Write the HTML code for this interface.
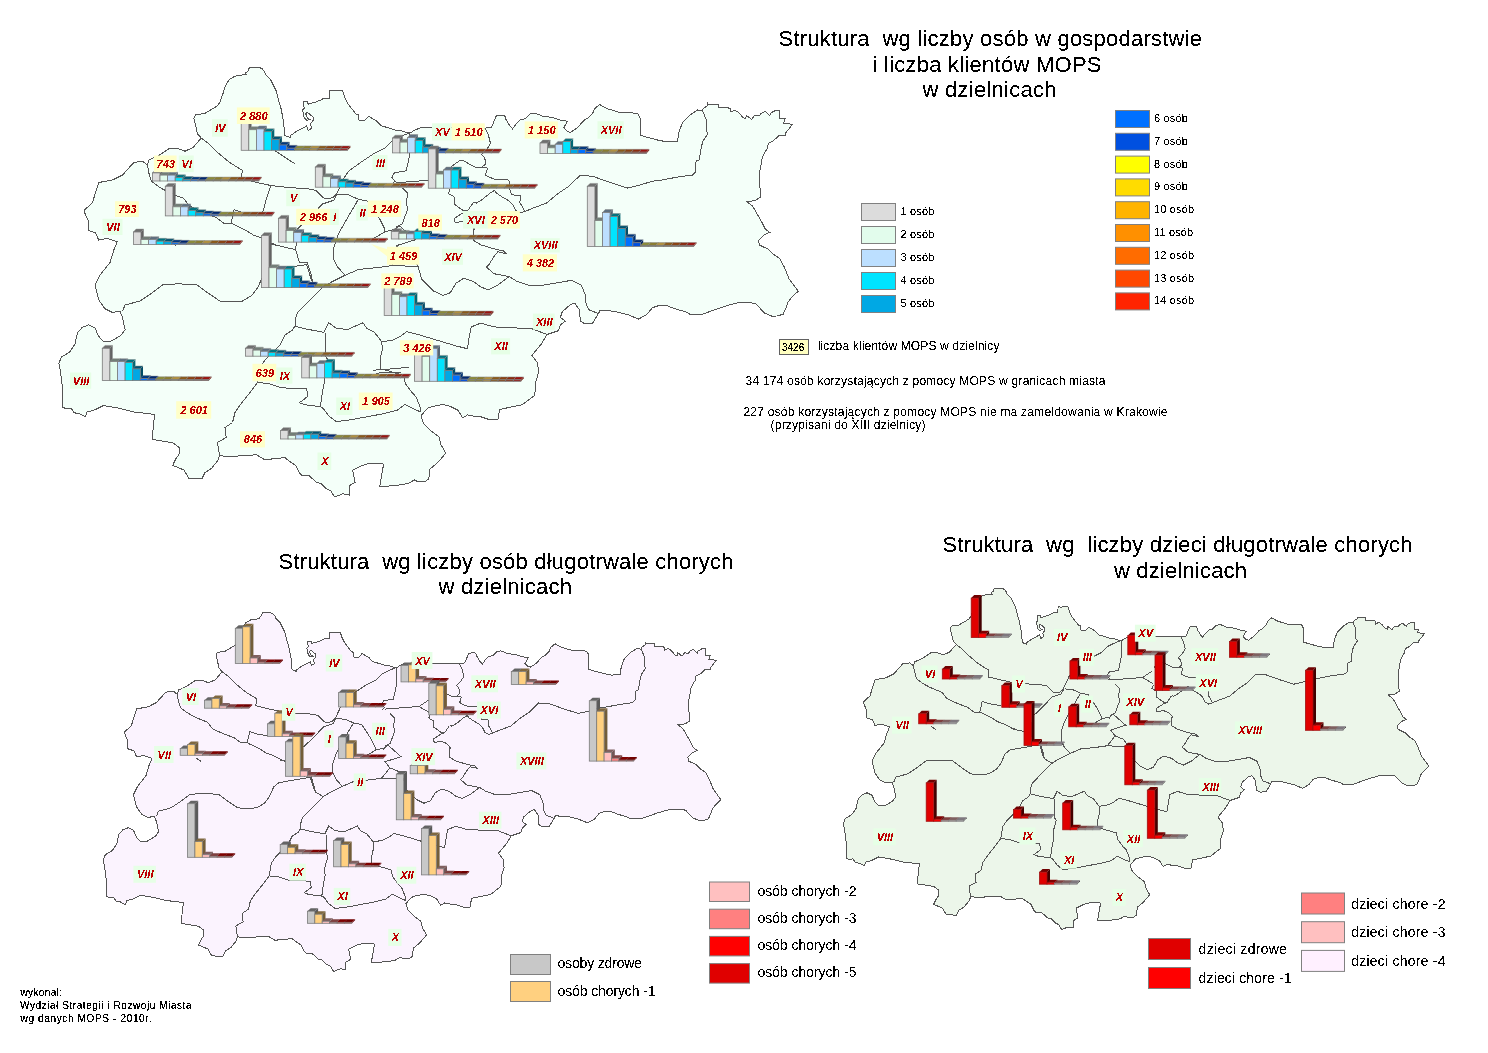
<!DOCTYPE html>
<html><head><meta charset="utf-8"><style>
html,body{margin:0;padding:0;background:#fff;width:1488px;height:1053px;overflow:hidden}
svg{display:block}
text{font-family:"Liberation Sans",sans-serif;fill:#000;white-space:pre;filter:url(#al)}
.sm{filter:url(#al2)}
.lb{font-size:11px;font-weight:bold;font-style:italic;fill:#BE0000;text-anchor:middle}
polygon.m,path.m{shape-rendering:crispEdges}
</style></head><body>
<svg width="1488" height="1053" viewBox="0 0 1488 1053">
<defs><filter id="al" x="-0.1" y="-0.3" width="1.2" height="1.6" color-interpolation-filters="sRGB"><feComponentTransfer><feFuncA type="discrete" tableValues="0 0 0 0 0 0 0 0 0 1 1 1 1 1 1 1 1 1 1 1"/></feComponentTransfer></filter><filter id="al2" x="-0.1" y="-0.3" width="1.2" height="1.6" color-interpolation-filters="sRGB"><feComponentTransfer><feFuncA type="discrete" tableValues="0 0 0 0 0 0 0 1 1 1 1 1 1 1 1 1 1 1 1 1"/></feComponentTransfer></filter></defs>
<polygon class="m" points="84.2,210.2 92.3,202.9 93.1,200.5 96.3,190.0 98.8,182.5 112.5,180.0 122.5,175.0 133.8,162.5 142.5,161.2 147.5,165.0 148.8,160.0 158.8,155.5 168.8,148.8 176.2,148.0 185.0,151.2 193.0,147.5 201.2,138.0 197.5,133.8 193.9,118.1 195.5,114.8 204.4,113.6 209.2,110.8 217.3,106.0 219.7,102.7 222.9,93.9 225.3,85.8 229.4,79.4 235.0,76.1 243.1,74.9 246.3,74.5 245.5,72.9 247.9,71.3 249.5,67.3 259.2,67.3 262.4,68.9 264.8,72.1 265.6,74.5 270.5,79.4 276.1,90.6 278.5,100.3 281.0,108.4 283.4,120.5 284.8,135.6 290.5,137.7 290.5,135.6 296.1,131.6 306.6,126.0 308.2,130.4 311.5,128.4 310.6,123.5 313.1,120.3 313.1,117.1 307.4,112.3 305.8,113.9 307.4,117.9 309.8,119.5 306.6,120.3 304.2,117.9 302.6,109.8 304.2,108.2 303.4,101.8 307.4,101.4 308.2,104.2 316.3,101.8 320.3,100.2 324.4,98.1 329.6,98.1 330.0,90.5 333.2,90.9 338.1,90.5 342.5,90.5 344.5,96.9 347.7,103.4 355.8,113.9 358.2,114.7 359.0,120.3 364.7,120.3 368.7,116.3 376.8,121.1 381.6,126.0 384.8,126.8 396.9,130.6 399.4,130.2 406.6,132.7 410.6,132.7 413.9,130.6 420.3,127.8 431.6,127.4 450.0,127.5 470.0,128.0 484.8,128.2 491.3,127.4 492.9,124.2 494.5,120.2 496.1,116.1 500.0,115.3 504.7,115.7 506.2,120.0 510.0,126.2 512.5,128.8 516.2,123.8 520.0,120.0 525.0,118.8 530.0,113.8 535.0,113.0 542.5,116.2 552.5,117.5 560.0,120.0 567.5,121.2 565.0,125.5 563.8,128.0 567.0,131.2 570.5,132.5 577.5,127.5 583.8,120.5 588.0,118.0 592.5,113.8 594.5,108.8 599.5,104.5 607.5,108.8 620.0,112.5 637.5,113.2 640.0,118.0 640.0,135.0 646.2,137.0 657.5,140.0 667.5,142.0 677.5,141.2 678.8,132.5 682.5,122.5 690.0,115.0 697.5,110.0 702.2,111.0 703.3,108.7 707.5,105.6 707.5,103.4 708.2,104.5 718.5,104.5 718.5,107.2 726.5,107.2 730.3,108.7 731.0,112.1 734.8,110.2 738.6,112.5 743.2,117.8 745.5,118.6 746.6,115.5 751.6,119.3 754.6,115.5 759.1,115.9 761.4,113.2 765.2,111.3 769.8,115.5 770.5,113.2 775.1,110.6 779.7,110.6 779.7,118.6 785.0,118.6 783.8,123.1 792.6,124.3 785.7,133.0 785.4,135.3 778.9,135.7 773.6,140.6 768.3,143.3 767.5,148.2 763.7,154.3 762.2,158.1 761.4,163.4 759.9,171.0 759.5,181.2 760.7,197.1 755.0,200.5 747.0,201.7 752.7,206.2 757.3,214.2 761.8,222.2 765.2,229.0 769.8,232.4 764.1,234.7 758.4,240.4 759.5,245.0 768.7,249.5 773.2,254.1 780.0,258.7 784.6,267.8 789.2,279.2 798.2,291.2 792.0,297.0 788.0,302.0 786.5,307.0 783.1,314.3 777.0,316.0 771.8,316.1 764.3,312.9 755.9,303.9 750.2,302.5 738.9,302.5 731.4,304.4 722.0,307.2 708.8,311.9 702.2,314.3 690.0,314.3 686.6,312.2 675.2,308.8 666.1,305.4 659.3,305.4 652.4,307.7 646.7,314.5 638.7,319.1 627.4,314.5 613.7,311.1 600.0,310.6 598.4,313.6 592.7,323.1 585.1,324.0 580.4,321.2 579.4,309.8 574.7,303.1 569.9,305.0 562.3,311.7 560.4,317.4 565.2,321.2 560.4,325.0 558.5,330.7 547.1,334.5 541.4,344.0 531.9,355.4 537.6,363.0 538.6,372.5 535.7,381.9 534.8,395.2 522.4,404.7 513.0,406.6 499.7,409.5 497.8,419.9 490.2,419.9 478.8,416.1 476.9,416.8 467.5,414.9 462.7,417.8 457.9,410.2 450.3,406.4 442.7,404.5 433.2,406.4 427.5,408.3 420.9,415.9 423.7,423.5 431.3,431.1 438.9,436.8 440.8,444.3 445.7,453.3 437.3,463.0 430.0,469.0 428.8,478.7 425.2,481.7 417.9,481.7 414.3,479.9 408.2,483.5 401.0,484.8 388.9,486.0 379.8,486.0 381.6,475.1 383.4,465.4 382.8,463.6 370.7,463.0 362.3,465.4 352.6,470.2 355.0,482.3 349.0,486.0 349.0,495.0 342.9,493.8 338.1,495.6 334.4,496.9 330.8,490.8 326.0,488.4 321.1,483.5 316.3,482.3 313.9,479.9 309.0,475.7 301.8,475.1 299.4,472.7 298.1,470.2 295.7,465.4 288.5,460.6 284.8,457.5 280.0,458.1 277.5,458.6 264.2,459.5 256.6,454.8 241.4,455.7 230.0,456.7 219.5,455.6 217.9,460.5 211.4,468.5 205.0,472.6 201.8,479.0 188.8,478.2 184.0,470.1 172.7,465.3 175.9,458.8 179.2,454.0 179.2,447.5 172.7,442.7 152.5,439.5 153.3,424.9 154.9,414.4 134.0,412.0 117.8,408.0 103.3,405.6 93.6,410.4 87.1,412.0 85.5,416.9 79.1,413.6 74.2,412.8 71.0,408.0 66.1,408.8 62.9,407.2 62.9,391.0 60.5,371.7 58.9,363.6 61.3,357.1 69.4,352.3 75.0,344.2 77.4,332.9 82.3,327.3 88.7,324.8 95.2,328.1 98.4,336.1 103.3,341.0 111.3,341.0 121.0,335.3 125.1,329.7 122.5,317.5 120.0,311.2 112.5,312.5 105.0,308.8 98.8,300.0 95.0,285.0 100.0,275.0 110.0,262.5 113.8,250.0 117.3,241.6 106.8,238.4 98.7,240.0 95.5,232.7 88.2,230.3 88.2,220.6 85.0,213.4" fill="#F4FFF9" stroke="#555"/>
<path class="m" d="M201.2,138.0 L208.4,143.3 L217.9,152.8 L229.3,162.3 L242.3,170.3 L241.4,178.8 M241.4,178.8 L257.5,182.6 L270.8,185.5 L287.0,187.4 L307.9,188.8 L315.5,190.2 L321.2,195.9 L325.0,198.8 L332.6,197.8 L336.4,194.0 L339.2,188.3 M339.2,188.3 L344.0,177.9 L349.0,170.8 L362.3,161.3 L373.7,153.7 L385.1,148.0 L392.7,140.4 L400.3,136.6 L409.8,132.8 M270.8,185.5 L266.1,200.0 L263.5,209.8 L261.6,213.6 M147.5,165.0 L148.5,171.8 L151.4,181.3 L159.0,187.0 L168.0,192.0 L176.1,195.5 L183.7,198.4 L189.4,206.0 L197.0,209.8 L206.5,213.6 L216.0,217.4 L223.6,223.1 L231.2,223.1 L235.0,225.0 L246.4,230.7 L254.0,235.4 L261.7,238.0 L270.0,242.5 L277.4,245.4 M231.2,223.1 L234.0,209.8 L238.0,211.0 L242.6,212.6 L257.5,214.8 M338.3,194.0 L348.7,195.0 L358.4,199.3 L368.0,201.2 M337.6,193.6 L333.7,200.3 L322.3,204.1 L315.0,212.0 L305.0,222.0 L297.6,228.8 M358.4,199.3 L348.9,215.5 L341.3,228.8 L337.5,236.4 L333.7,247.8 L333.7,259.2 L337.5,266.8 L345.1,275.3 M368.0,201.2 L379.4,218.3 L384.1,227.8 L385.1,231.6 L378.0,236.0 L371.8,239.2 M271.0,244.0 L295.7,249.7 L299.5,263.0 L307.1,262.0 L311.0,274.3 L312.8,282.0 M295.7,249.7 L297.6,228.8 M122.5,311.2 L125.0,305.0 L140.0,301.0 L151.4,293.3 L162.8,284.8 L178.0,283.8 L197.0,284.8 L208.4,293.3 L219.8,301.0 L231.2,301.9 L242.6,301.0 L252.1,295.2 L257.8,287.6 L262.7,276.2 L269.0,270.9 L298.3,265.7 L306.7,264.7 L310.9,278.4 L312.8,282.0 M169.5,241.2 L175.8,245.4 M312.8,282.0 L322.3,287.6 L330.0,282.8 L345.2,275.2 L358.5,269.5 L377.5,267.6 L390.8,265.7 L405.0,266.0 M322.3,287.6 L314.7,295.2 L305.2,304.7 L297.6,312.3 L295.0,320.0 L295.0,326.0 L292.5,330.0 L285.0,335.0 L280.0,345.0 L270.0,355.0 L265.0,360.0 L260.0,367.5 L257.5,382.5 L250.0,392.5 L240.0,405.0 L235.0,412.5 L232.5,422.5 L225.0,427.5 L226.2,437.5 L217.5,442.5 L219.5,455.6 M257.5,382.5 L269.0,383.6 L281.4,387.8 L306.7,388.9 L307.8,396.3 L302.5,400.5 L299.3,402.7 L304.6,404.7 L320.4,406.7 M405.0,266.0 L418.0,266.1 L421.8,279.4 L433.2,290.8 L442.7,295.5 L450.3,292.7 L456.0,283.2 L463.6,278.4 L473.1,281.3 L480.7,287.0 L488.3,289.8 L497.8,285.1 L509.2,276.5 M450.3,188.6 L448.5,193.5 L454.5,197.1 L454.5,204.4 L463.0,210.4 L466.6,210.4 L467.5,211.0 L463.0,212.8 L454.5,218.3 L454.5,221.9 L456.3,222.5 L463.0,221.3 L470.0,224.0 L474.5,229.2 L473.3,230.4 L473.3,239.4 L473.9,240.7 L481.1,244.9 L493.3,248.7 L503.5,250.9 L506.3,253.7 L497.8,251.8 L494.0,256.6 L489.2,264.2 L486.4,267.0 L494.0,273.7 L503.5,275.6 L509.2,276.5 M473.3,202.5 L467.5,211.0 M509.2,276.5 L516.8,281.3 L528.1,285.1 L543.3,285.1 L560.4,282.2 L571.8,280.3 L581.3,285.1 L585.1,294.6 L586.1,304.1 L588.9,309.8 L598.4,313.6 M473.3,202.5 L476.3,203.1 L479.3,201.3 L482.3,199.5 L489.6,193.5 L494.4,190.4 L496.9,193.5 L500.5,195.9 L509.6,201.3 L512.6,204.4 L515.6,210.4 L520.0,213.0 L524.7,211.6 L531.3,208.8 L546.5,203.1 L557.9,193.6 L569.3,186.0 L576.9,178.4 L580.0,175.5 L592.5,176.2 L610.0,182.5 L627.5,188.0 L640.0,185.0 L652.5,181.2 L662.5,180.0 L675.0,177.5 L692.5,175.0 L695.3,172.0 L696.1,161.1 L699.9,159.6 L699.9,155.8 L701.4,146.7 L702.9,141.4 L708.2,133.0 L706.0,130.7 L706.0,119.3 L703.7,113.2 L702.2,111.0 M436.7,179.6 L449.3,171.2 M436.7,179.6 L449.3,187.0 M395.8,182.8 L436.7,179.6 M484.8,128.2 L488.1,133.9 L490.5,143.5 L489.1,145.9 L486.5,149.7 L481.6,154.5 L483.8,156.7 L485.4,160.4 L485.4,164.2 L482.2,166.9 L481.1,167.4 M451.0,166.9 L455.3,163.7 L460.1,160.4 L462.8,160.4 L467.6,163.1 L475.7,167.4 L481.1,167.4 L486.5,167.4 L487.5,168.5 L486.5,171.2 L485.4,174.9 L489.1,177.1 L494.5,179.2 L506.9,179.2 L510.0,181.9 L509.6,188.6 L511.4,194.7 L520.5,195.9 L519.9,202.5 L524.7,211.0 L524.7,211.6 M409.8,132.8 L409.8,153.7 L407.9,163.2 L406.0,170.8 L394.6,172.7 L391.7,177.4 L395.5,181.2 L392.7,183.1 M402.2,187.9 L407.9,193.6 L406.0,203.1 L407.9,208.8 L405.0,216.4 L402.2,224.0 L396.5,226.8 L394.6,231.6 M295.0,326.2 L305.0,328.8 L324.0,332.3 L328.8,322.8 L336.4,328.5 L347.8,329.4 L363.0,322.8 L366.8,328.5 L374.4,332.3 L381.9,341.8 L393.3,339.9 L400.9,336.1 L406.6,331.6 L418.0,334.5 L437.0,340.2 L456.0,345.9 L467.4,348.7 L469.3,336.4 L471.2,326.9 L480.7,323.1 L494.0,326.9 L513.0,327.8 L532.0,328.8 L547.1,334.5 M325.5,333.0 L325.5,356.3 L327.7,359.4 L325.5,366.8 L323.5,375.2 L324.5,381.6 L322.4,392.1 L320.4,406.7 M320.4,406.7 L323.1,408.3 L328.8,415.9 L336.4,421.6 L351.6,419.7 L366.8,416.8 L381.9,414.0 L397.1,410.2 L404.7,404.5 L412.3,408.3 L420.9,412.1 M381.9,341.8 L382.2,350.0 L380.2,358.4 L380.2,368.9 L388.6,371.0 L403.2,375.2 L405.3,383.6 L411.6,392.1 L416.1,396.9 L419.9,406.4 L420.9,412.1 M385.1,231.6 L391.7,230.1 L396.3,229.2 L399.0,225.5 M399.0,225.5 L405.4,231.0 L415.3,239.8 L396.3,245.7 L401.8,253.0 L396.3,260.4 L391.7,265.8 L390.8,265.7 M401.8,253.0 L412.8,257.6 L418.0,266.1 M275.1,150.8 L294.6,163.6 M372.5,370.3 L390.0,369.0 L408.5,367.4 M376.2,373.1 L400.9,372.2" fill="none" stroke="#555"/>
<polygon class="m" points="124.4,732.0 131.2,725.9 131.9,723.9 134.6,715.1 136.6,708.9 148.1,706.8 156.4,702.6 165.8,692.2 173.2,691.1 177.3,694.3 178.4,690.1 186.7,686.3 195.1,680.7 201.4,680.1 208.7,682.8 215.4,679.7 222.2,671.7 219.1,668.2 216.1,655.1 217.4,652.4 224.9,651.4 228.9,649.0 235.7,645.0 237.7,642.3 240.3,634.9 242.3,628.1 245.8,622.8 250.4,620.0 257.2,619.0 259.9,618.7 259.2,617.4 261.2,616.0 262.6,612.7 270.7,612.7 273.3,614.0 275.3,616.7 276.0,618.7 280.1,622.8 284.8,632.2 286.8,640.3 288.9,647.0 290.9,657.1 292.1,669.7 296.8,671.5 296.8,669.7 301.5,666.4 310.3,661.7 311.6,665.4 314.4,663.7 313.6,659.6 315.7,657.0 315.7,654.3 310.9,650.3 309.6,651.6 310.9,654.9 312.9,656.3 310.3,657.0 308.3,654.9 306.9,648.2 308.3,646.8 307.6,641.5 310.9,641.2 311.6,643.5 318.4,641.5 321.7,640.2 325.1,638.4 329.5,638.4 329.8,632.1 332.5,632.4 336.6,632.1 340.3,632.1 341.9,637.4 344.6,642.8 351.4,651.6 353.4,652.3 354.0,657.0 358.8,657.0 362.1,653.6 368.9,657.6 372.9,661.7 375.6,662.4 385.7,665.6 387.8,665.2 393.8,667.3 397.2,667.3 399.9,665.6 405.3,663.2 414.7,662.9 430.1,663.0 446.8,663.4 459.2,663.5 464.6,662.9 465.9,660.2 467.3,656.9 468.6,653.4 471.9,652.8 475.8,653.1 477.1,656.7 480.2,661.9 482.3,664.0 485.4,659.8 488.6,656.7 492.7,655.7 496.9,651.5 501.1,650.9 507.4,653.6 515.7,654.6 522.0,656.7 528.2,657.7 526.2,661.3 525.1,663.4 527.8,666.1 530.8,667.1 536.6,663.0 541.8,657.1 545.4,655.0 549.1,651.5 550.8,647.3 555.0,643.8 561.7,647.3 572.1,650.4 586.7,651.1 588.8,655.0 588.8,669.2 594.0,670.9 603.4,673.4 611.8,675.1 620.2,674.4 621.2,667.1 624.3,658.8 630.6,652.5 636.9,648.4 640.8,649.2 641.7,647.3 645.2,644.7 645.2,642.8 645.8,643.8 654.4,643.8 654.4,646.0 661.1,646.0 664.3,647.3 664.9,650.1 668.0,648.5 671.2,650.4 675.0,654.9 677.0,655.5 677.9,652.9 682.1,656.1 684.6,652.9 688.3,653.3 690.2,651.0 693.4,649.4 697.3,652.9 697.9,651.0 701.7,648.9 705.5,648.9 705.5,655.5 710.0,655.5 709.0,659.3 716.3,660.3 710.6,667.6 710.3,669.5 704.9,669.8 700.4,673.9 696.0,676.2 695.3,680.2 692.2,685.3 690.9,688.5 690.2,692.9 689.0,699.3 688.7,707.8 689.7,721.1 684.9,723.9 678.2,724.9 683.0,728.7 686.8,735.4 690.6,742.0 693.4,747.7 697.3,750.6 692.5,752.5 687.7,757.2 688.7,761.1 696.3,764.8 700.1,768.7 705.8,772.5 709.6,780.1 713.5,789.6 721.0,799.7 715.8,804.5 712.5,808.7 711.2,812.8 708.4,818.9 703.3,820.4 698.9,820.4 692.7,817.8 685.7,810.3 680.9,809.1 671.5,809.1 665.2,810.7 657.3,813.0 646.3,816.9 640.8,818.9 630.6,818.9 627.8,817.2 618.2,814.3 610.6,811.5 604.9,811.5 599.2,813.4 594.4,819.1 587.7,822.9 578.3,819.1 566.8,816.3 555.4,815.9 554.1,818.4 549.3,826.3 543.0,827.0 539.0,824.7 538.2,815.2 534.3,809.6 530.3,811.2 523.9,816.8 522.3,821.5 526.3,824.7 522.3,827.9 520.7,832.6 511.2,835.8 506.4,843.7 498.5,853.3 503.3,859.6 504.1,867.5 501.7,875.4 500.9,886.5 490.6,894.4 482.7,896.0 471.6,898.4 470.0,907.1 463.7,907.1 454.1,903.9 452.5,904.5 444.7,902.9 440.7,905.4 436.7,899.0 430.3,895.8 424.0,894.3 416.0,895.8 411.3,897.4 405.8,903.8 408.1,910.1 414.5,916.5 420.8,921.2 422.4,927.5 426.5,935.0 419.5,943.1 413.4,948.1 412.4,956.2 409.4,958.7 403.3,958.7 400.2,957.2 395.2,960.2 389.1,961.3 379.0,962.3 371.4,962.3 372.9,953.2 374.4,945.1 373.9,943.6 363.8,943.1 356.8,945.1 348.7,949.1 350.7,959.2 345.7,962.3 345.7,969.8 340.6,968.8 336.6,970.3 333.5,971.4 330.5,966.3 326.5,964.3 322.4,960.2 318.4,959.2 316.4,957.2 312.3,953.7 306.3,953.2 304.2,951.2 303.2,949.1 301.2,945.1 295.1,941.1 292.1,938.5 288.0,939.0 286.0,939.4 274.8,940.2 268.5,936.3 255.8,937.0 246.3,937.8 237.5,936.9 236.2,941.0 230.7,947.7 225.4,951.1 222.7,956.5 211.8,955.8 207.8,949.0 198.4,945.0 201.1,939.6 203.8,935.6 203.8,930.2 198.4,926.2 181.5,923.5 182.2,911.3 183.5,902.5 166.1,900.5 152.5,897.2 140.4,895.2 132.3,899.2 126.9,900.5 125.5,904.6 120.2,901.9 116.1,901.2 113.4,897.2 109.3,897.8 106.7,896.5 106.7,883.0 104.6,866.9 103.3,860.1 105.3,854.7 112.1,850.7 116.8,843.9 118.8,834.5 122.9,829.8 128.2,827.7 133.6,830.5 136.3,837.1 140.4,841.2 147.1,841.2 155.2,836.5 158.6,831.8 156.4,821.6 154.4,816.4 148.1,817.4 141.8,814.3 136.6,807.0 133.5,794.5 137.7,786.1 146.0,775.7 149.1,765.2 152.1,758.2 143.3,755.6 136.6,756.9 133.9,750.8 127.8,748.8 127.8,740.7 125.1,734.7" fill="#FBF3FE" stroke="#555"/>
<path class="m" d="M222.2,671.7 L228.2,676.2 L236.2,684.1 L245.7,692.0 L256.5,698.7 L255.8,705.8 M255.8,705.8 L269.2,709.0 L280.4,711.4 L293.9,713.0 L311.4,714.1 L317.7,715.3 L322.5,720.1 L325.6,722.5 L332.0,721.7 L335.2,718.5 L337.5,713.7 M337.5,713.7 L341.5,705.0 L345.7,699.1 L356.8,691.2 L366.3,684.8 L375.9,680.1 L382.2,673.7 L388.6,670.6 L396.5,667.4 M280.4,711.4 L276.4,723.5 L274.3,731.7 L272.7,734.9 M177.3,694.3 L178.2,700.0 L180.6,707.9 L186.9,712.6 L194.5,716.8 L201.2,719.7 L207.6,722.2 L212.3,728.5 L218.7,731.7 L226.6,734.9 L234.6,738.0 L240.9,742.8 L247.3,742.8 L250.4,744.4 L260.0,749.1 L266.3,753.1 L272.8,755.2 L279.7,759.0 L285.9,761.4 M247.3,742.8 L249.6,731.7 L252.9,732.7 L256.8,734.0 L269.2,735.9 M336.7,718.5 L345.4,719.3 L353.5,722.9 L361.6,724.5 M336.2,718.2 L332.9,723.8 L323.4,726.9 L317.3,733.5 L308.9,741.9 L302.7,747.5 M353.5,722.9 L345.6,736.4 L339.3,747.5 L336.1,753.9 L332.9,763.4 L332.9,772.9 L336.1,779.3 L342.4,786.4 M361.6,724.5 L371.1,738.8 L375.0,746.7 L375.9,749.9 L369.9,753.6 L364.7,756.2 M280.5,760.2 L301.2,765.0 L304.3,776.1 L310.7,775.3 L313.9,785.5 L315.4,792.0 M301.2,765.0 L302.7,747.5 M156.4,816.4 L158.5,811.2 L171.1,807.8 L180.6,801.4 L190.1,794.3 L202.8,793.5 L218.7,794.3 L228.2,801.4 L237.7,807.8 L247.3,808.6 L256.8,807.8 L264.7,803.0 L269.5,796.6 L273.6,787.1 L278.8,782.7 L303.3,778.4 L310.3,777.5 L313.9,789.0 L315.4,792.0 M195.7,757.9 L201.0,761.4 M315.4,792.0 L323.4,796.6 L329.8,792.6 L342.5,786.3 L353.6,781.5 L369.5,779.9 L380.6,778.4 L392.5,778.6 M323.4,796.6 L317.0,803.0 L309.1,810.9 L302.7,817.3 L300.6,823.7 L300.6,828.7 L298.5,832.0 L292.2,836.2 L288.0,844.6 L279.7,852.9 L275.5,857.1 L271.3,863.4 L269.2,875.9 L263.0,884.2 L254.6,894.7 L250.4,900.9 L248.4,909.3 L242.1,913.5 L243.1,921.8 L235.8,926.0 L237.5,936.9 M269.2,875.9 L278.8,876.8 L289.2,880.3 L310.3,881.2 L311.3,887.4 L306.8,890.9 L304.2,892.8 L308.6,894.4 L321.8,896.1 M392.5,778.6 L403.3,778.7 L406.5,789.8 L416.0,799.3 L424.0,803.2 L430.3,800.9 L435.1,793.0 L441.4,789.0 L449.4,791.4 L455.7,796.1 L462.1,798.5 L470.0,794.6 L479.5,787.4 M430.3,714.0 L428.8,718.1 L433.8,721.1 L433.8,727.2 L440.9,732.2 L443.9,732.2 L444.7,732.7 L440.9,734.2 L433.8,738.8 L433.8,741.8 L435.3,742.3 L440.9,741.3 L446.8,743.5 L450.5,747.9 L449.5,748.9 L449.5,756.4 L450.0,757.5 L456.1,761.0 L466.3,764.2 L474.8,766.0 L477.1,768.3 L470.0,766.8 L466.8,770.8 L462.8,777.1 L460.5,779.4 L466.8,785.0 L474.8,786.6 L479.5,787.4 M449.5,725.6 L444.7,732.7 M479.5,787.4 L485.9,791.4 L495.3,794.6 L508.0,794.6 L522.3,792.1 L531.8,790.6 L539.8,794.6 L543.0,802.5 L543.8,810.4 L546.1,815.2 L554.1,818.4 M449.5,725.6 L452.0,726.1 L454.6,724.6 L457.1,723.1 L463.2,718.1 L467.2,715.5 L469.3,718.1 L472.3,720.1 L479.9,724.6 L482.4,727.2 L484.9,732.2 L488.6,734.4 L492.5,733.2 L498.0,730.8 L510.7,726.1 L520.2,718.2 L529.8,711.8 L536.1,705.5 L538.7,703.0 L549.1,703.7 L563.8,708.9 L578.4,713.5 L588.8,711.0 L599.3,707.8 L607.6,706.8 L618.1,704.7 L632.7,702.6 L635.0,700.1 L635.7,691.0 L638.9,689.8 L638.9,686.6 L640.1,679.0 L641.4,674.6 L645.8,667.6 L644.0,665.6 L644.0,656.1 L642.0,651.0 L640.8,649.2 M419.0,706.5 L429.5,699.5 M419.0,706.5 L429.5,712.6 M384.8,709.1 L419.0,706.5 M459.2,663.5 L461.9,668.3 L463.9,676.3 L462.7,678.3 L460.6,681.5 L456.5,685.5 L458.3,687.3 L459.7,690.4 L459.7,693.6 L457.0,695.9 L456.1,696.3 M430.9,695.9 L434.5,693.2 L438.5,690.4 L440.8,690.4 L444.8,692.7 L451.5,696.3 L456.1,696.3 L460.6,696.3 L461.4,697.2 L460.6,699.5 L459.7,702.5 L462.7,704.4 L467.3,706.1 L477.6,706.1 L480.2,708.4 L479.9,714.0 L481.4,719.1 L489.0,720.1 L488.5,725.6 L492.5,732.7 L492.5,733.2 M396.5,667.4 L396.5,684.8 L394.9,692.8 L393.3,699.1 L383.8,700.7 L381.4,704.6 L384.5,707.8 L382.2,709.4 M390.1,713.4 L394.9,718.2 L393.3,726.1 L394.9,730.8 L392.5,737.2 L390.1,743.5 L385.4,745.9 L383.8,749.9 M300.6,828.9 L308.9,831.0 L324.8,834.0 L328.8,826.0 L335.2,830.8 L344.7,831.5 L357.4,826.0 L360.6,830.8 L366.9,834.0 L373.2,841.9 L382.7,840.3 L389.1,837.1 L393.8,833.4 L403.3,835.8 L419.2,840.6 L435.1,845.3 L444.6,847.7 L446.2,837.4 L447.8,829.5 L455.7,826.3 L466.8,829.5 L482.7,830.2 L498.6,831.0 L511.2,835.8 M326.1,834.6 L326.1,854.0 L327.9,856.6 L326.1,862.8 L324.4,869.8 L325.2,875.1 L323.5,883.9 L321.8,896.1 M321.8,896.1 L324.1,897.4 L328.8,903.8 L335.2,908.5 L347.9,906.9 L360.6,904.5 L373.2,902.2 L385.9,899.0 L392.2,894.3 L398.6,897.4 L405.8,900.6 M373.2,841.9 L373.4,848.8 L371.8,855.8 L371.8,864.5 L378.8,866.3 L391.0,869.8 L392.7,876.8 L398.0,883.9 L401.8,887.9 L404.9,895.8 L405.8,900.6 M375.9,749.9 L381.4,748.6 L385.2,747.9 L387.5,744.8 M387.5,744.8 L392.8,749.4 L401.1,756.7 L385.2,761.7 L389.8,767.8 L385.2,773.9 L381.4,778.4 L380.6,778.4 M389.8,767.8 L399.0,771.6 L403.3,778.7" fill="none" stroke="#555"/>
<polygon class="m" points="863.5,701.8 869.9,696.0 870.5,694.1 873.1,685.8 875.0,679.8 885.9,677.8 893.8,673.9 902.7,663.9 909.6,662.9 913.6,665.9 914.6,661.9 922.5,658.4 930.4,653.0 936.4,652.4 943.3,655.0 949.6,652.0 956.2,644.5 953.2,641.1 950.3,628.7 951.6,626.1 958.7,625.1 962.5,622.9 968.9,619.1 970.8,616.4 973.3,609.5 975.2,603.0 978.5,597.9 982.9,595.3 989.3,594.4 991.8,594.1 991.2,592.8 993.1,591.5 994.4,588.3 1002.1,588.3 1004.6,589.6 1006.5,592.1 1007.1,594.1 1011.0,597.9 1015.4,606.8 1017.3,614.5 1019.3,621.0 1021.2,630.6 1022.3,642.6 1026.8,644.2 1026.8,642.6 1031.3,639.4 1039.6,634.9 1040.9,638.4 1043.5,636.8 1042.8,633.0 1044.7,630.4 1044.7,627.9 1040.2,624.1 1039.0,625.3 1040.2,628.5 1042.1,629.8 1039.6,630.4 1037.7,628.5 1036.4,622.1 1037.7,620.8 1037.1,615.7 1040.2,615.4 1040.9,617.6 1047.3,615.7 1050.4,614.5 1053.7,612.8 1057.8,612.8 1058.1,606.8 1060.7,607.1 1064.5,606.8 1068.0,606.8 1069.6,611.8 1072.1,617.0 1078.6,625.3 1080.5,626.0 1081.1,630.4 1085.6,630.4 1088.8,627.2 1095.2,631.1 1099.0,634.9 1101.5,635.6 1111.1,638.6 1113.1,638.3 1118.8,640.3 1122.0,640.3 1124.6,638.6 1129.6,636.4 1138.6,636.1 1153.2,636.1 1169.0,636.5 1180.7,636.7 1185.9,636.1 1187.1,633.5 1188.4,630.3 1189.7,627.1 1192.8,626.4 1196.5,626.8 1197.7,630.2 1200.7,635.1 1202.6,637.1 1205.6,633.2 1208.6,630.2 1212.5,629.2 1216.5,625.2 1220.5,624.6 1226.4,627.2 1234.3,628.2 1240.3,630.2 1246.2,631.2 1244.2,634.5 1243.2,636.5 1245.8,639.1 1248.6,640.1 1254.1,636.1 1259.1,630.6 1262.4,628.6 1266.0,625.2 1267.6,621.2 1271.5,617.9 1277.9,621.2 1287.8,624.2 1301.6,624.8 1303.6,628.6 1303.6,642.1 1308.6,643.7 1317.5,646.1 1325.4,647.6 1333.3,647.1 1334.3,640.1 1337.3,632.2 1343.2,626.2 1349.2,622.2 1352.9,623.0 1353.7,621.2 1357.1,618.7 1357.1,617.0 1357.6,617.9 1365.8,617.9 1365.8,620.0 1372.1,620.0 1375.1,621.2 1375.7,623.9 1378.7,622.4 1381.7,624.2 1385.3,628.4 1387.2,629.1 1388.0,626.6 1392.0,629.6 1394.4,626.6 1397.9,626.9 1399.8,624.8 1402.8,623.3 1406.4,626.6 1407.0,624.8 1410.6,622.7 1414.2,622.7 1414.2,629.1 1418.4,629.1 1417.5,632.6 1424.5,633.6 1419.0,640.5 1418.8,642.3 1413.6,642.6 1409.4,646.5 1405.2,648.7 1404.6,652.6 1401.6,657.4 1400.4,660.4 1399.8,664.6 1398.6,670.7 1398.2,678.8 1399.2,691.4 1394.7,694.1 1388.3,695.0 1392.9,698.6 1396.5,705.0 1400.1,711.3 1402.8,716.7 1406.4,719.4 1401.9,721.3 1397.4,725.8 1398.2,729.4 1405.5,733.0 1409.1,736.7 1414.5,740.3 1418.1,747.5 1421.8,756.6 1428.9,766.1 1424.0,770.7 1420.8,774.7 1419.6,778.7 1416.9,784.5 1412.1,785.8 1408.0,785.9 1402.0,783.3 1395.4,776.2 1390.9,775.1 1381.9,775.1 1376.0,776.6 1368.6,778.8 1358.1,782.5 1352.9,784.5 1343.2,784.5 1340.5,782.8 1331.5,780.1 1324.3,777.4 1318.9,777.4 1313.4,779.2 1308.9,784.6 1302.6,788.3 1293.6,784.6 1282.8,781.9 1271.9,781.5 1270.7,783.9 1266.2,791.4 1260.1,792.2 1256.4,789.9 1255.6,780.9 1251.9,775.6 1248.1,777.1 1242.1,782.4 1240.6,786.9 1244.4,789.9 1240.6,793.0 1239.1,797.5 1230.0,800.5 1225.5,808.0 1218.0,817.1 1222.5,823.1 1223.3,830.7 1221.0,838.1 1220.3,848.7 1210.5,856.2 1203.0,857.7 1192.5,860.0 1191.0,868.3 1185.0,868.3 1176.0,865.3 1174.5,865.8 1167.0,864.3 1163.2,866.6 1159.4,860.6 1153.4,857.6 1147.4,856.1 1139.9,857.6 1135.3,859.1 1130.1,865.1 1132.3,871.2 1138.3,877.2 1144.4,881.7 1145.9,887.7 1149.7,894.8 1143.1,902.5 1137.3,907.3 1136.4,915.0 1133.5,917.4 1127.7,917.4 1124.9,915.9 1120.1,918.8 1114.4,919.8 1104.8,920.8 1097.6,920.8 1099.0,912.1 1100.4,904.4 1099.9,903.0 1090.4,902.5 1083.7,904.4 1076.0,908.2 1077.9,917.8 1073.2,920.8 1073.2,927.9 1068.3,927.0 1064.5,928.4 1061.6,929.4 1058.8,924.6 1055.0,922.7 1051.1,918.8 1047.3,917.8 1045.4,915.9 1041.5,912.6 1035.8,912.1 1033.9,910.2 1032.9,908.2 1031.0,904.4 1025.3,900.6 1022.3,898.2 1018.5,898.6 1016.6,899.0 1006.0,899.7 1000.0,896.0 988.0,896.7 978.9,897.5 970.6,896.6 969.4,900.5 964.2,906.9 959.1,910.1 956.6,915.2 946.3,914.6 942.5,908.2 933.6,904.3 936.1,899.2 938.7,895.4 938.7,890.2 933.6,886.4 917.6,883.9 918.2,872.3 919.5,863.9 902.9,862.0 890.1,858.9 878.6,856.9 870.9,860.8 865.8,862.0 864.5,865.9 859.4,863.3 855.6,862.7 853.0,858.9 849.1,859.5 846.6,858.2 846.6,845.4 844.7,830.0 843.4,823.6 845.3,818.4 851.8,814.6 856.2,808.2 858.1,799.2 862.0,794.8 867.0,792.8 872.2,795.4 874.7,801.8 878.6,805.7 884.9,805.7 892.6,801.1 895.9,796.7 893.8,787.0 891.8,782.0 885.9,783.0 879.9,780.0 875.0,773.1 872.0,761.2 876.0,753.2 883.9,743.3 886.9,733.4 889.7,726.7 881.4,724.2 875.0,725.5 872.4,719.7 866.6,717.8 866.6,710.1 864.1,704.3" fill="#ECF6EA" stroke="#555"/>
<path class="m" d="M956.2,644.5 L961.8,648.7 L969.4,656.2 L978.4,663.8 L988.7,670.1 L988.0,676.9 M988.0,676.9 L1000.7,679.9 L1011.2,682.2 L1024.1,683.7 L1040.6,684.8 L1046.6,685.9 L1051.2,690.4 L1054.2,692.7 L1060.2,692.0 L1063.2,688.9 L1065.4,684.4 M1065.4,684.4 L1069.2,676.2 L1073.2,670.5 L1083.7,663.0 L1092.7,656.9 L1101.8,652.4 L1107.8,646.4 L1113.8,643.4 L1121.3,640.3 M1011.2,682.2 L1007.5,693.7 L1005.5,701.5 L1004.0,704.5 M913.6,665.9 L914.4,671.3 L916.7,678.9 L922.7,683.4 L929.8,687.3 L936.3,690.1 L942.3,692.4 L946.8,698.5 L952.8,701.5 L960.3,704.5 L967.9,707.5 L973.9,712.0 L979.9,712.0 L982.9,713.5 L991.9,718.1 L997.9,721.8 L1004.0,723.9 L1010.6,727.4 L1016.5,729.7 M979.9,712.0 L982.1,701.5 L985.3,702.4 L988.9,703.7 L1000.7,705.5 M1064.7,688.9 L1072.9,689.7 L1080.6,693.1 L1088.2,694.7 M1064.1,688.6 L1061.1,693.9 L1052.0,697.0 L1046.2,703.2 L1038.3,711.2 L1032.5,716.6 M1080.6,693.1 L1073.1,706.0 L1067.1,716.6 L1064.1,722.6 L1061.1,731.7 L1061.1,740.7 L1064.1,746.7 L1070.1,753.5 M1088.2,694.7 L1097.2,708.2 L1101.0,715.8 L1101.8,718.8 L1096.1,722.3 L1091.2,724.8 M1011.4,728.6 L1031.0,733.2 L1034.0,743.7 L1040.0,742.9 L1043.1,752.7 L1044.5,758.8 M1031.0,733.2 L1032.5,716.6 M893.8,782.0 L895.8,777.1 L907.7,773.9 L916.7,767.8 L925.7,761.0 L937.8,760.2 L952.8,761.0 L961.8,767.8 L970.9,773.9 L979.9,774.6 L988.9,773.9 L996.4,769.3 L1001.0,763.3 L1004.8,754.2 L1009.8,750.0 L1033.0,745.9 L1039.7,745.1 L1043.0,755.9 L1044.5,758.8 M931.0,726.4 L936.0,729.7 M1044.5,758.8 L1052.0,763.3 L1058.1,759.4 L1070.2,753.4 L1080.7,748.9 L1095.7,747.4 L1106.3,745.9 L1117.5,746.1 M1052.0,763.3 L1046.0,769.3 L1038.5,776.8 L1032.5,782.9 L1030.4,789.0 L1030.4,793.7 L1028.4,796.9 L1022.5,800.9 L1018.5,808.8 L1010.6,816.8 L1006.7,820.7 L1002.7,826.7 L1000.7,838.6 L994.8,846.5 L986.9,856.5 L982.9,862.4 L980.9,870.4 L975.0,874.3 L976.0,882.3 L969.0,886.2 L970.6,896.6 M1000.7,838.6 L1009.8,839.5 L1019.6,842.8 L1039.7,843.7 L1040.5,849.6 L1036.3,852.9 L1033.8,854.6 L1038.0,856.2 L1050.5,857.8 M1117.5,746.1 L1127.8,746.2 L1130.8,756.7 L1139.9,765.8 L1147.4,769.5 L1153.4,767.3 L1157.9,759.8 L1163.9,755.9 L1171.4,758.3 L1177.5,762.8 L1183.5,765.0 L1191.0,761.3 L1200.0,754.4 M1153.4,684.6 L1152.0,688.5 L1156.7,691.4 L1156.7,697.2 L1163.4,702.0 L1166.3,702.0 L1167.0,702.4 L1163.4,703.9 L1156.7,708.2 L1156.7,711.1 L1158.1,711.6 L1163.4,710.6 L1169.0,712.8 L1172.6,716.9 L1171.6,717.8 L1171.6,725.0 L1172.1,726.0 L1177.8,729.4 L1187.4,732.4 L1195.5,734.1 L1197.7,736.3 L1191.0,734.8 L1188.0,738.6 L1184.2,744.7 L1182.0,746.9 L1188.0,752.2 L1195.5,753.7 L1200.0,754.4 M1171.6,695.7 L1167.0,702.4 M1200.0,754.4 L1206.1,758.3 L1215.0,761.3 L1227.0,761.3 L1240.6,759.0 L1249.6,757.5 L1257.1,761.3 L1260.1,768.8 L1260.9,776.4 L1263.1,780.9 L1270.7,783.9 M1171.6,695.7 L1174.0,696.2 L1176.4,694.7 L1178.7,693.3 L1184.5,688.5 L1188.3,686.1 L1190.3,688.5 L1193.1,690.4 L1200.4,694.7 L1202.7,697.2 L1205.1,702.0 L1208.6,704.0 L1212.3,702.9 L1217.5,700.7 L1229.6,696.2 L1238.6,688.6 L1247.6,682.6 L1253.6,676.5 L1256.1,674.2 L1266.0,674.8 L1279.9,679.8 L1293.7,684.2 L1303.6,681.8 L1313.5,678.8 L1321.4,677.8 L1331.3,675.8 L1345.2,673.9 L1347.4,671.5 L1348.0,662.8 L1351.1,661.6 L1351.1,658.6 L1352.2,651.4 L1353.4,647.2 L1357.6,640.5 L1355.9,638.7 L1355.9,629.6 L1354.1,624.8 L1352.9,623.0 M1142.6,677.5 L1152.6,670.8 M1142.6,677.5 L1152.6,683.4 M1110.2,680.0 L1142.6,677.5 M1180.7,636.7 L1183.3,641.2 L1185.2,648.8 L1184.1,650.7 L1182.1,653.8 L1178.2,657.6 L1179.9,659.3 L1181.2,662.3 L1181.2,665.3 L1178.7,667.4 L1177.8,667.8 M1153.9,667.4 L1157.4,664.9 L1161.2,662.3 L1163.3,662.3 L1167.1,664.4 L1173.5,667.8 L1177.8,667.8 L1182.1,667.8 L1182.9,668.7 L1182.1,670.8 L1181.2,673.8 L1184.1,675.5 L1188.4,677.2 L1198.2,677.2 L1200.7,679.3 L1200.4,684.6 L1201.8,689.5 L1209.0,690.4 L1208.5,695.7 L1212.3,702.4 L1212.3,702.9 M1121.3,640.3 L1121.3,656.9 L1119.8,664.5 L1118.3,670.5 L1109.3,672.0 L1107.0,675.8 L1110.0,678.8 L1107.8,680.3 M1115.3,684.1 L1119.8,688.6 L1118.3,696.2 L1119.8,700.7 L1117.5,706.7 L1115.3,712.8 L1110.8,715.0 L1109.3,718.8 M1030.4,793.9 L1038.3,795.9 L1053.4,798.7 L1057.2,791.2 L1063.2,795.7 L1072.2,796.4 L1084.3,791.2 L1087.3,795.7 L1093.3,798.7 L1099.2,806.3 L1108.3,804.8 L1114.3,801.8 L1118.8,798.2 L1127.8,800.5 L1142.9,805.0 L1157.9,809.5 L1166.9,811.8 L1168.4,802.0 L1169.9,794.5 L1177.5,791.4 L1188.0,794.5 L1203.0,795.2 L1218.1,796.0 L1230.0,800.5 M1054.6,799.3 L1054.6,817.8 L1056.3,820.3 L1054.6,826.1 L1053.0,832.8 L1053.8,837.9 L1052.1,846.2 L1050.5,857.8 M1050.5,857.8 L1052.7,859.1 L1057.2,865.1 L1063.2,869.7 L1075.2,868.1 L1087.3,865.8 L1099.2,863.6 L1111.3,860.6 L1117.3,856.1 L1123.3,859.1 L1130.1,862.1 M1099.2,806.3 L1099.5,812.8 L1097.9,819.5 L1097.9,827.8 L1104.5,829.5 L1116.1,832.8 L1117.8,839.5 L1122.7,846.2 L1126.3,850.0 L1129.3,857.6 L1130.1,862.1 M1101.8,718.8 L1107.0,717.6 L1110.6,716.9 L1112.8,713.9 M1112.8,713.9 L1117.8,718.3 L1125.7,725.3 L1110.6,730.0 L1115.0,735.8 L1110.6,741.7 L1107.0,745.9 L1106.3,745.9 M1115.0,735.8 L1123.7,739.4 L1127.8,746.2" fill="none" stroke="#555"/>
<polygon points="248.8,150.3 248.8,120.3 251.5,117.4 251.5,147.4" fill="#636363"/><polygon points="241.2,120.3 243.9,117.4 251.5,117.4 248.8,120.3" fill="#6E6E6E" stroke="#8a8a8a" stroke-width="0.5"/><rect x="241.2" y="120.3" width="7.6" height="30.0" fill="#DCDCDC" stroke="#7a7a7a" stroke-width="0.8"/><polygon points="256.4,150.3 256.4,129.7 259.1,126.8 259.1,147.4" fill="#65716A"/><polygon points="248.8,129.7 251.5,126.8 259.1,126.8 256.4,129.7" fill="#717E76" stroke="#8a8a8a" stroke-width="0.5"/><rect x="248.8" y="129.7" width="7.6" height="20.6" fill="#E2FCEC" stroke="#7a7a7a" stroke-width="0.8"/><polygon points="264.0,150.3 264.0,128.9 266.7,126.0 266.7,147.4" fill="#546472"/><polygon points="256.4,128.9 259.1,126.0 266.7,126.0 264.0,128.9" fill="#5E6F7F" stroke="#8a8a8a" stroke-width="0.5"/><rect x="256.4" y="128.9" width="7.6" height="21.4" fill="#BCDFFF" stroke="#7a7a7a" stroke-width="0.8"/><polygon points="271.6,150.3 271.6,131.7 274.3,128.8 274.3,147.4" fill="#006672"/><polygon points="264.0,131.7 266.7,128.8 274.3,128.8 271.6,131.7" fill="#00727F" stroke="#8a8a8a" stroke-width="0.5"/><rect x="264.0" y="131.7" width="7.6" height="18.6" fill="#00E4FF" stroke="#7a7a7a" stroke-width="0.8"/><polygon points="279.2,150.3 279.2,139.4 281.9,136.5 281.9,147.4" fill="#004B66"/><polygon points="271.6,139.4 274.3,136.5 281.9,136.5 279.2,139.4" fill="#005472" stroke="#8a8a8a" stroke-width="0.5"/><rect x="271.6" y="139.4" width="7.6" height="10.9" fill="#00A8E4" stroke="#7a7a7a" stroke-width="0.8"/><polygon points="286.8,150.3 286.8,145.0 289.5,142.1 289.5,147.4" fill="#003272"/><polygon points="279.2,145.0 281.9,142.1 289.5,142.1 286.8,145.0" fill="#00387F" stroke="#8a8a8a" stroke-width="0.5"/><rect x="279.2" y="145.0" width="7.6" height="5.3" fill="#0070FF" stroke="#7a7a7a" stroke-width="0.8"/><polygon points="294.4,150.3 294.4,148.2 297.1,145.3 297.1,147.4" fill="#002464"/><polygon points="286.8,148.2 289.5,145.3 297.1,145.3 294.4,148.2" fill="#002870" stroke="#8a8a8a" stroke-width="0.5"/><rect x="286.8" y="148.2" width="7.6" height="2.1" fill="#0050E0" stroke="#7a7a7a" stroke-width="0.8"/><polygon points="302.0,150.3 302.0,148.8 304.7,145.9 304.7,147.4" fill="#727200"/><polygon points="294.4,148.8 297.1,145.9 304.7,145.9 302.0,148.8" fill="#8B8B3A" stroke="#8a8a8a" stroke-width="0.5"/><rect x="294.4" y="148.8" width="7.6" height="1.5" fill="#8B8B3A" stroke="#7a7a7a" stroke-width="0.8"/><polygon points="309.6,150.3 309.6,148.8 312.3,145.9 312.3,147.4" fill="#726300"/><polygon points="302.0,148.8 304.7,145.9 312.3,145.9 309.6,148.8" fill="#8B7D30" stroke="#8a8a8a" stroke-width="0.5"/><rect x="302.0" y="148.8" width="7.6" height="1.5" fill="#8B7D30" stroke="#7a7a7a" stroke-width="0.8"/><polygon points="317.2,150.3 317.2,148.8 319.9,145.9 319.9,147.4" fill="#725100"/><polygon points="309.6,148.8 312.3,145.9 319.9,145.9 317.2,148.8" fill="#B09040" stroke="#8a8a8a" stroke-width="0.5"/><rect x="309.6" y="148.8" width="7.6" height="1.5" fill="#B09040" stroke="#7a7a7a" stroke-width="0.8"/><polygon points="324.8,150.3 324.8,148.8 327.5,145.9 327.5,147.4" fill="#724000"/><polygon points="317.2,148.8 319.9,145.9 327.5,145.9 324.8,148.8" fill="#8B5A1A" stroke="#8a8a8a" stroke-width="0.5"/><rect x="317.2" y="148.8" width="7.6" height="1.5" fill="#8B5A1A" stroke="#7a7a7a" stroke-width="0.8"/><polygon points="332.4,150.3 332.4,148.8 335.1,145.9 335.1,147.4" fill="#723000"/><polygon points="324.8,148.8 327.5,145.9 335.1,145.9 332.4,148.8" fill="#8B4212" stroke="#8a8a8a" stroke-width="0.5"/><rect x="324.8" y="148.8" width="7.6" height="1.5" fill="#8B4212" stroke="#7a7a7a" stroke-width="0.8"/><polygon points="340.0,150.3 340.0,148.8 342.7,145.9 342.7,147.4" fill="#722000"/><polygon points="332.4,148.8 335.1,145.9 342.7,145.9 340.0,148.8" fill="#8B2C10" stroke="#8a8a8a" stroke-width="0.5"/><rect x="332.4" y="148.8" width="7.6" height="1.5" fill="#8B2C10" stroke="#7a7a7a" stroke-width="0.8"/><polygon points="347.6,150.3 347.6,148.8 350.3,145.9 350.3,147.4" fill="#721000"/><polygon points="340.0,148.8 342.7,145.9 350.3,145.9 347.6,148.8" fill="#9A1410" stroke="#8a8a8a" stroke-width="0.5"/><rect x="340.0" y="148.8" width="7.6" height="1.5" fill="#9A1410" stroke="#7a7a7a" stroke-width="0.8"/>
<polygon points="160.0,181.0 160.0,172.9 162.7,170.0 162.7,178.1" fill="#636363"/><polygon points="152.4,172.9 155.1,170.0 162.7,170.0 160.0,172.9" fill="#6E6E6E" stroke="#8a8a8a" stroke-width="0.5"/><rect x="152.4" y="172.9" width="7.6" height="8.1" fill="#DCDCDC" stroke="#7a7a7a" stroke-width="0.8"/><polygon points="167.6,181.0 167.6,175.1 170.3,172.2 170.3,178.1" fill="#65716A"/><polygon points="160.0,175.1 162.7,172.2 170.3,172.2 167.6,175.1" fill="#717E76" stroke="#8a8a8a" stroke-width="0.5"/><rect x="160.0" y="175.1" width="7.6" height="5.9" fill="#E2FCEC" stroke="#7a7a7a" stroke-width="0.8"/><polygon points="175.2,181.0 175.2,175.1 177.9,172.2 177.9,178.1" fill="#546472"/><polygon points="167.6,175.1 170.3,172.2 177.9,172.2 175.2,175.1" fill="#5E6F7F" stroke="#8a8a8a" stroke-width="0.5"/><rect x="167.6" y="175.1" width="7.6" height="5.9" fill="#BCDFFF" stroke="#7a7a7a" stroke-width="0.8"/><polygon points="182.8,181.0 182.8,177.7 185.5,174.8 185.5,178.1" fill="#006672"/><polygon points="175.2,177.7 177.9,174.8 185.5,174.8 182.8,177.7" fill="#00727F" stroke="#8a8a8a" stroke-width="0.5"/><rect x="175.2" y="177.7" width="7.6" height="3.3" fill="#00E4FF" stroke="#7a7a7a" stroke-width="0.8"/><polygon points="190.4,181.0 190.4,179.4 193.1,176.5 193.1,178.1" fill="#004B66"/><polygon points="182.8,179.4 185.5,176.5 193.1,176.5 190.4,179.4" fill="#005472" stroke="#8a8a8a" stroke-width="0.5"/><rect x="182.8" y="179.4" width="7.6" height="1.6" fill="#00A8E4" stroke="#7a7a7a" stroke-width="0.8"/><polygon points="198.0,181.0 198.0,179.8 200.7,176.9 200.7,178.1" fill="#003272"/><polygon points="190.4,179.8 193.1,176.9 200.7,176.9 198.0,179.8" fill="#00387F" stroke="#8a8a8a" stroke-width="0.5"/><rect x="190.4" y="179.8" width="7.6" height="1.2" fill="#0070FF" stroke="#7a7a7a" stroke-width="0.8"/><polygon points="205.6,181.0 205.6,180.0 208.3,177.1 208.3,178.1" fill="#002464"/><polygon points="198.0,180.0 200.7,177.1 208.3,177.1 205.6,180.0" fill="#002870" stroke="#8a8a8a" stroke-width="0.5"/><rect x="198.0" y="180.0" width="7.6" height="1.0" fill="#0050E0" stroke="#7a7a7a" stroke-width="0.8"/><polygon points="213.2,181.0 213.2,180.0 215.9,177.1 215.9,178.1" fill="#727200"/><polygon points="205.6,180.0 208.3,177.1 215.9,177.1 213.2,180.0" fill="#8B8B3A" stroke="#8a8a8a" stroke-width="0.5"/><rect x="205.6" y="180.0" width="7.6" height="1.0" fill="#8B8B3A" stroke="#7a7a7a" stroke-width="0.8"/><polygon points="220.8,181.0 220.8,180.0 223.5,177.1 223.5,178.1" fill="#726300"/><polygon points="213.2,180.0 215.9,177.1 223.5,177.1 220.8,180.0" fill="#8B7D30" stroke="#8a8a8a" stroke-width="0.5"/><rect x="213.2" y="180.0" width="7.6" height="1.0" fill="#8B7D30" stroke="#7a7a7a" stroke-width="0.8"/><polygon points="228.4,181.0 228.4,180.0 231.1,177.1 231.1,178.1" fill="#725100"/><polygon points="220.8,180.0 223.5,177.1 231.1,177.1 228.4,180.0" fill="#B09040" stroke="#8a8a8a" stroke-width="0.5"/><rect x="220.8" y="180.0" width="7.6" height="1.0" fill="#B09040" stroke="#7a7a7a" stroke-width="0.8"/><polygon points="236.0,181.0 236.0,180.0 238.7,177.1 238.7,178.1" fill="#724000"/><polygon points="228.4,180.0 231.1,177.1 238.7,177.1 236.0,180.0" fill="#8B5A1A" stroke="#8a8a8a" stroke-width="0.5"/><rect x="228.4" y="180.0" width="7.6" height="1.0" fill="#8B5A1A" stroke="#7a7a7a" stroke-width="0.8"/><polygon points="243.6,181.0 243.6,180.0 246.3,177.1 246.3,178.1" fill="#723000"/><polygon points="236.0,180.0 238.7,177.1 246.3,177.1 243.6,180.0" fill="#8B4212" stroke="#8a8a8a" stroke-width="0.5"/><rect x="236.0" y="180.0" width="7.6" height="1.0" fill="#8B4212" stroke="#7a7a7a" stroke-width="0.8"/><polygon points="251.2,181.0 251.2,180.0 253.9,177.1 253.9,178.1" fill="#722000"/><polygon points="243.6,180.0 246.3,177.1 253.9,177.1 251.2,180.0" fill="#8B2C10" stroke="#8a8a8a" stroke-width="0.5"/><rect x="243.6" y="180.0" width="7.6" height="1.0" fill="#8B2C10" stroke="#7a7a7a" stroke-width="0.8"/><polygon points="258.8,181.0 258.8,180.0 261.5,177.1 261.5,178.1" fill="#721000"/><polygon points="251.2,180.0 253.9,177.1 261.5,177.1 258.8,180.0" fill="#9A1410" stroke="#8a8a8a" stroke-width="0.5"/><rect x="251.2" y="180.0" width="7.6" height="1.0" fill="#9A1410" stroke="#7a7a7a" stroke-width="0.8"/>
<polygon points="172.9,215.9 172.9,186.3 175.6,183.4 175.6,213.0" fill="#636363"/><polygon points="165.3,186.3 168.0,183.4 175.6,183.4 172.9,186.3" fill="#6E6E6E" stroke="#8a8a8a" stroke-width="0.5"/><rect x="165.3" y="186.3" width="7.6" height="29.6" fill="#DCDCDC" stroke="#7a7a7a" stroke-width="0.8"/><polygon points="180.5,215.9 180.5,206.8 183.2,203.9 183.2,213.0" fill="#65716A"/><polygon points="172.9,206.8 175.6,203.9 183.2,203.9 180.5,206.8" fill="#717E76" stroke="#8a8a8a" stroke-width="0.5"/><rect x="172.9" y="206.8" width="7.6" height="9.1" fill="#E2FCEC" stroke="#7a7a7a" stroke-width="0.8"/><polygon points="188.1,215.9 188.1,206.8 190.8,203.9 190.8,213.0" fill="#546472"/><polygon points="180.5,206.8 183.2,203.9 190.8,203.9 188.1,206.8" fill="#5E6F7F" stroke="#8a8a8a" stroke-width="0.5"/><rect x="180.5" y="206.8" width="7.6" height="9.1" fill="#BCDFFF" stroke="#7a7a7a" stroke-width="0.8"/><polygon points="195.7,215.9 195.7,210.5 198.4,207.6 198.4,213.0" fill="#006672"/><polygon points="188.1,210.5 190.8,207.6 198.4,207.6 195.7,210.5" fill="#00727F" stroke="#8a8a8a" stroke-width="0.5"/><rect x="188.1" y="210.5" width="7.6" height="5.4" fill="#00E4FF" stroke="#7a7a7a" stroke-width="0.8"/><polygon points="203.3,215.9 203.3,212.7 206.0,209.8 206.0,213.0" fill="#004B66"/><polygon points="195.7,212.7 198.4,209.8 206.0,209.8 203.3,212.7" fill="#005472" stroke="#8a8a8a" stroke-width="0.5"/><rect x="195.7" y="212.7" width="7.6" height="3.2" fill="#00A8E4" stroke="#7a7a7a" stroke-width="0.8"/><polygon points="210.9,215.9 210.9,213.8 213.6,210.9 213.6,213.0" fill="#003272"/><polygon points="203.3,213.8 206.0,210.9 213.6,210.9 210.9,213.8" fill="#00387F" stroke="#8a8a8a" stroke-width="0.5"/><rect x="203.3" y="213.8" width="7.6" height="2.1" fill="#0070FF" stroke="#7a7a7a" stroke-width="0.8"/><polygon points="218.5,215.9 218.5,214.3 221.2,211.4 221.2,213.0" fill="#002464"/><polygon points="210.9,214.3 213.6,211.4 221.2,211.4 218.5,214.3" fill="#002870" stroke="#8a8a8a" stroke-width="0.5"/><rect x="210.9" y="214.3" width="7.6" height="1.6" fill="#0050E0" stroke="#7a7a7a" stroke-width="0.8"/><polygon points="226.1,215.9 226.1,214.9 228.8,212.0 228.8,213.0" fill="#727200"/><polygon points="218.5,214.9 221.2,212.0 228.8,212.0 226.1,214.9" fill="#8B8B3A" stroke="#8a8a8a" stroke-width="0.5"/><rect x="218.5" y="214.9" width="7.6" height="1.0" fill="#8B8B3A" stroke="#7a7a7a" stroke-width="0.8"/><polygon points="233.7,215.9 233.7,214.9 236.4,212.0 236.4,213.0" fill="#726300"/><polygon points="226.1,214.9 228.8,212.0 236.4,212.0 233.7,214.9" fill="#8B7D30" stroke="#8a8a8a" stroke-width="0.5"/><rect x="226.1" y="214.9" width="7.6" height="1.0" fill="#8B7D30" stroke="#7a7a7a" stroke-width="0.8"/><polygon points="241.3,215.9 241.3,214.9 244.0,212.0 244.0,213.0" fill="#725100"/><polygon points="233.7,214.9 236.4,212.0 244.0,212.0 241.3,214.9" fill="#B09040" stroke="#8a8a8a" stroke-width="0.5"/><rect x="233.7" y="214.9" width="7.6" height="1.0" fill="#B09040" stroke="#7a7a7a" stroke-width="0.8"/><polygon points="248.9,215.9 248.9,214.9 251.6,212.0 251.6,213.0" fill="#724000"/><polygon points="241.3,214.9 244.0,212.0 251.6,212.0 248.9,214.9" fill="#8B5A1A" stroke="#8a8a8a" stroke-width="0.5"/><rect x="241.3" y="214.9" width="7.6" height="1.0" fill="#8B5A1A" stroke="#7a7a7a" stroke-width="0.8"/><polygon points="256.5,215.9 256.5,214.9 259.2,212.0 259.2,213.0" fill="#723000"/><polygon points="248.9,214.9 251.6,212.0 259.2,212.0 256.5,214.9" fill="#8B4212" stroke="#8a8a8a" stroke-width="0.5"/><rect x="248.9" y="214.9" width="7.6" height="1.0" fill="#8B4212" stroke="#7a7a7a" stroke-width="0.8"/><polygon points="264.1,215.9 264.1,214.9 266.8,212.0 266.8,213.0" fill="#722000"/><polygon points="256.5,214.9 259.2,212.0 266.8,212.0 264.1,214.9" fill="#8B2C10" stroke="#8a8a8a" stroke-width="0.5"/><rect x="256.5" y="214.9" width="7.6" height="1.0" fill="#8B2C10" stroke="#7a7a7a" stroke-width="0.8"/><polygon points="271.7,215.9 271.7,214.9 274.4,212.0 274.4,213.0" fill="#721000"/><polygon points="264.1,214.9 266.8,212.0 274.4,212.0 271.7,214.9" fill="#9A1410" stroke="#8a8a8a" stroke-width="0.5"/><rect x="264.1" y="214.9" width="7.6" height="1.0" fill="#9A1410" stroke="#7a7a7a" stroke-width="0.8"/>
<polygon points="141.0,244.4 141.0,232.0 143.7,229.1 143.7,241.5" fill="#636363"/><polygon points="133.4,232.0 136.1,229.1 143.7,229.1 141.0,232.0" fill="#6E6E6E" stroke="#8a8a8a" stroke-width="0.5"/><rect x="133.4" y="232.0" width="7.6" height="12.4" fill="#DCDCDC" stroke="#7a7a7a" stroke-width="0.8"/><polygon points="148.6,244.4 148.6,239.6 151.3,236.7 151.3,241.5" fill="#65716A"/><polygon points="141.0,239.6 143.7,236.7 151.3,236.7 148.6,239.6" fill="#717E76" stroke="#8a8a8a" stroke-width="0.5"/><rect x="141.0" y="239.6" width="7.6" height="4.8" fill="#E2FCEC" stroke="#7a7a7a" stroke-width="0.8"/><polygon points="156.2,244.4 156.2,239.6 158.9,236.7 158.9,241.5" fill="#546472"/><polygon points="148.6,239.6 151.3,236.7 158.9,236.7 156.2,239.6" fill="#5E6F7F" stroke="#8a8a8a" stroke-width="0.5"/><rect x="148.6" y="239.6" width="7.6" height="4.8" fill="#BCDFFF" stroke="#7a7a7a" stroke-width="0.8"/><polygon points="163.8,244.4 163.8,241.2 166.5,238.3 166.5,241.5" fill="#006672"/><polygon points="156.2,241.2 158.9,238.3 166.5,238.3 163.8,241.2" fill="#00727F" stroke="#8a8a8a" stroke-width="0.5"/><rect x="156.2" y="241.2" width="7.6" height="3.2" fill="#00E4FF" stroke="#7a7a7a" stroke-width="0.8"/><polygon points="171.4,244.4 171.4,241.7 174.1,238.8 174.1,241.5" fill="#004B66"/><polygon points="163.8,241.7 166.5,238.8 174.1,238.8 171.4,241.7" fill="#005472" stroke="#8a8a8a" stroke-width="0.5"/><rect x="163.8" y="241.7" width="7.6" height="2.7" fill="#00A8E4" stroke="#7a7a7a" stroke-width="0.8"/><polygon points="179.0,244.4 179.0,242.8 181.7,239.9 181.7,241.5" fill="#003272"/><polygon points="171.4,242.8 174.1,239.9 181.7,239.9 179.0,242.8" fill="#00387F" stroke="#8a8a8a" stroke-width="0.5"/><rect x="171.4" y="242.8" width="7.6" height="1.6" fill="#0070FF" stroke="#7a7a7a" stroke-width="0.8"/><polygon points="186.6,244.4 186.6,243.2 189.3,240.3 189.3,241.5" fill="#002464"/><polygon points="179.0,243.2 181.7,240.3 189.3,240.3 186.6,243.2" fill="#002870" stroke="#8a8a8a" stroke-width="0.5"/><rect x="179.0" y="243.2" width="7.6" height="1.2" fill="#0050E0" stroke="#7a7a7a" stroke-width="0.8"/><polygon points="194.2,244.4 194.2,243.4 196.9,240.5 196.9,241.5" fill="#727200"/><polygon points="186.6,243.4 189.3,240.5 196.9,240.5 194.2,243.4" fill="#8B8B3A" stroke="#8a8a8a" stroke-width="0.5"/><rect x="186.6" y="243.4" width="7.6" height="1.0" fill="#8B8B3A" stroke="#7a7a7a" stroke-width="0.8"/><polygon points="201.8,244.4 201.8,243.4 204.5,240.5 204.5,241.5" fill="#726300"/><polygon points="194.2,243.4 196.9,240.5 204.5,240.5 201.8,243.4" fill="#8B7D30" stroke="#8a8a8a" stroke-width="0.5"/><rect x="194.2" y="243.4" width="7.6" height="1.0" fill="#8B7D30" stroke="#7a7a7a" stroke-width="0.8"/><polygon points="209.4,244.4 209.4,243.4 212.1,240.5 212.1,241.5" fill="#725100"/><polygon points="201.8,243.4 204.5,240.5 212.1,240.5 209.4,243.4" fill="#B09040" stroke="#8a8a8a" stroke-width="0.5"/><rect x="201.8" y="243.4" width="7.6" height="1.0" fill="#B09040" stroke="#7a7a7a" stroke-width="0.8"/><polygon points="217.0,244.4 217.0,243.4 219.7,240.5 219.7,241.5" fill="#724000"/><polygon points="209.4,243.4 212.1,240.5 219.7,240.5 217.0,243.4" fill="#8B5A1A" stroke="#8a8a8a" stroke-width="0.5"/><rect x="209.4" y="243.4" width="7.6" height="1.0" fill="#8B5A1A" stroke="#7a7a7a" stroke-width="0.8"/><polygon points="224.6,244.4 224.6,243.4 227.3,240.5 227.3,241.5" fill="#723000"/><polygon points="217.0,243.4 219.7,240.5 227.3,240.5 224.6,243.4" fill="#8B4212" stroke="#8a8a8a" stroke-width="0.5"/><rect x="217.0" y="243.4" width="7.6" height="1.0" fill="#8B4212" stroke="#7a7a7a" stroke-width="0.8"/><polygon points="232.2,244.4 232.2,243.4 234.9,240.5 234.9,241.5" fill="#722000"/><polygon points="224.6,243.4 227.3,240.5 234.9,240.5 232.2,243.4" fill="#8B2C10" stroke="#8a8a8a" stroke-width="0.5"/><rect x="224.6" y="243.4" width="7.6" height="1.0" fill="#8B2C10" stroke="#7a7a7a" stroke-width="0.8"/><polygon points="239.8,244.4 239.8,243.4 242.5,240.5 242.5,241.5" fill="#721000"/><polygon points="232.2,243.4 234.9,240.5 242.5,240.5 239.8,243.4" fill="#9A1410" stroke="#8a8a8a" stroke-width="0.5"/><rect x="232.2" y="243.4" width="7.6" height="1.0" fill="#9A1410" stroke="#7a7a7a" stroke-width="0.8"/>
<polygon points="269.0,287.6 269.0,235.6 271.7,232.7 271.7,284.7" fill="#636363"/><polygon points="261.4,235.6 264.1,232.7 271.7,232.7 269.0,235.6" fill="#6E6E6E" stroke="#8a8a8a" stroke-width="0.5"/><rect x="261.4" y="235.6" width="7.6" height="52.0" fill="#DCDCDC" stroke="#7a7a7a" stroke-width="0.8"/><polygon points="276.6,287.6 276.6,267.7 279.3,264.8 279.3,284.7" fill="#65716A"/><polygon points="269.0,267.7 271.7,264.8 279.3,264.8 276.6,267.7" fill="#717E76" stroke="#8a8a8a" stroke-width="0.5"/><rect x="269.0" y="267.7" width="7.6" height="19.9" fill="#E2FCEC" stroke="#7a7a7a" stroke-width="0.8"/><polygon points="284.2,287.6 284.2,269.0 286.9,266.1 286.9,284.7" fill="#546472"/><polygon points="276.6,269.0 279.3,266.1 286.9,266.1 284.2,269.0" fill="#5E6F7F" stroke="#8a8a8a" stroke-width="0.5"/><rect x="276.6" y="269.0" width="7.6" height="18.6" fill="#BCDFFF" stroke="#7a7a7a" stroke-width="0.8"/><polygon points="291.8,287.6 291.8,269.0 294.5,266.1 294.5,284.7" fill="#006672"/><polygon points="284.2,269.0 286.9,266.1 294.5,266.1 291.8,269.0" fill="#00727F" stroke="#8a8a8a" stroke-width="0.5"/><rect x="284.2" y="269.0" width="7.6" height="18.6" fill="#00E4FF" stroke="#7a7a7a" stroke-width="0.8"/><polygon points="299.4,287.6 299.4,278.6 302.1,275.7 302.1,284.7" fill="#004B66"/><polygon points="291.8,278.6 294.5,275.7 302.1,275.7 299.4,278.6" fill="#005472" stroke="#8a8a8a" stroke-width="0.5"/><rect x="291.8" y="278.6" width="7.6" height="9.0" fill="#00A8E4" stroke="#7a7a7a" stroke-width="0.8"/><polygon points="307.0,287.6 307.0,283.7 309.7,280.8 309.7,284.7" fill="#003272"/><polygon points="299.4,283.7 302.1,280.8 309.7,280.8 307.0,283.7" fill="#00387F" stroke="#8a8a8a" stroke-width="0.5"/><rect x="299.4" y="283.7" width="7.6" height="3.9" fill="#0070FF" stroke="#7a7a7a" stroke-width="0.8"/><polygon points="314.6,287.6 314.6,285.0 317.3,282.1 317.3,284.7" fill="#002464"/><polygon points="307.0,285.0 309.7,282.1 317.3,282.1 314.6,285.0" fill="#002870" stroke="#8a8a8a" stroke-width="0.5"/><rect x="307.0" y="285.0" width="7.6" height="2.6" fill="#0050E0" stroke="#7a7a7a" stroke-width="0.8"/><polygon points="322.2,287.6 322.2,286.6 324.9,283.7 324.9,284.7" fill="#727200"/><polygon points="314.6,286.6 317.3,283.7 324.9,283.7 322.2,286.6" fill="#8B8B3A" stroke="#8a8a8a" stroke-width="0.5"/><rect x="314.6" y="286.6" width="7.6" height="1.0" fill="#8B8B3A" stroke="#7a7a7a" stroke-width="0.8"/><polygon points="329.8,287.6 329.8,286.6 332.5,283.7 332.5,284.7" fill="#726300"/><polygon points="322.2,286.6 324.9,283.7 332.5,283.7 329.8,286.6" fill="#8B7D30" stroke="#8a8a8a" stroke-width="0.5"/><rect x="322.2" y="286.6" width="7.6" height="1.0" fill="#8B7D30" stroke="#7a7a7a" stroke-width="0.8"/><polygon points="337.4,287.6 337.4,286.6 340.1,283.7 340.1,284.7" fill="#725100"/><polygon points="329.8,286.6 332.5,283.7 340.1,283.7 337.4,286.6" fill="#B09040" stroke="#8a8a8a" stroke-width="0.5"/><rect x="329.8" y="286.6" width="7.6" height="1.0" fill="#B09040" stroke="#7a7a7a" stroke-width="0.8"/><polygon points="345.0,287.6 345.0,286.6 347.7,283.7 347.7,284.7" fill="#724000"/><polygon points="337.4,286.6 340.1,283.7 347.7,283.7 345.0,286.6" fill="#8B5A1A" stroke="#8a8a8a" stroke-width="0.5"/><rect x="337.4" y="286.6" width="7.6" height="1.0" fill="#8B5A1A" stroke="#7a7a7a" stroke-width="0.8"/><polygon points="352.6,287.6 352.6,286.6 355.3,283.7 355.3,284.7" fill="#723000"/><polygon points="345.0,286.6 347.7,283.7 355.3,283.7 352.6,286.6" fill="#8B4212" stroke="#8a8a8a" stroke-width="0.5"/><rect x="345.0" y="286.6" width="7.6" height="1.0" fill="#8B4212" stroke="#7a7a7a" stroke-width="0.8"/><polygon points="360.2,287.6 360.2,286.6 362.9,283.7 362.9,284.7" fill="#722000"/><polygon points="352.6,286.6 355.3,283.7 362.9,283.7 360.2,286.6" fill="#8B2C10" stroke="#8a8a8a" stroke-width="0.5"/><rect x="352.6" y="286.6" width="7.6" height="1.0" fill="#8B2C10" stroke="#7a7a7a" stroke-width="0.8"/><polygon points="367.8,287.6 367.8,286.6 370.5,283.7 370.5,284.7" fill="#721000"/><polygon points="360.2,286.6 362.9,283.7 370.5,283.7 367.8,286.6" fill="#9A1410" stroke="#8a8a8a" stroke-width="0.5"/><rect x="360.2" y="286.6" width="7.6" height="1.0" fill="#9A1410" stroke="#7a7a7a" stroke-width="0.8"/>
<polygon points="286.1,242.1 286.1,218.3 288.8,215.4 288.8,239.2" fill="#636363"/><polygon points="278.5,218.3 281.2,215.4 288.8,215.4 286.1,218.3" fill="#6E6E6E" stroke="#8a8a8a" stroke-width="0.5"/><rect x="278.5" y="218.3" width="7.6" height="23.8" fill="#DCDCDC" stroke="#7a7a7a" stroke-width="0.8"/><polygon points="293.7,242.1 293.7,230.5 296.4,227.6 296.4,239.2" fill="#65716A"/><polygon points="286.1,230.5 288.8,227.6 296.4,227.6 293.7,230.5" fill="#717E76" stroke="#8a8a8a" stroke-width="0.5"/><rect x="286.1" y="230.5" width="7.6" height="11.6" fill="#E2FCEC" stroke="#7a7a7a" stroke-width="0.8"/><polygon points="301.3,242.1 301.3,232.4 304.0,229.5 304.0,239.2" fill="#546472"/><polygon points="293.7,232.4 296.4,229.5 304.0,229.5 301.3,232.4" fill="#5E6F7F" stroke="#8a8a8a" stroke-width="0.5"/><rect x="293.7" y="232.4" width="7.6" height="9.7" fill="#BCDFFF" stroke="#7a7a7a" stroke-width="0.8"/><polygon points="308.9,242.1 308.9,235.6 311.6,232.7 311.6,239.2" fill="#006672"/><polygon points="301.3,235.6 304.0,232.7 311.6,232.7 308.9,235.6" fill="#00727F" stroke="#8a8a8a" stroke-width="0.5"/><rect x="301.3" y="235.6" width="7.6" height="6.5" fill="#00E4FF" stroke="#7a7a7a" stroke-width="0.8"/><polygon points="316.5,242.1 316.5,237.6 319.2,234.7 319.2,239.2" fill="#004B66"/><polygon points="308.9,237.6 311.6,234.7 319.2,234.7 316.5,237.6" fill="#005472" stroke="#8a8a8a" stroke-width="0.5"/><rect x="308.9" y="237.6" width="7.6" height="4.5" fill="#00A8E4" stroke="#7a7a7a" stroke-width="0.8"/><polygon points="324.1,242.1 324.1,239.5 326.8,236.6 326.8,239.2" fill="#003272"/><polygon points="316.5,239.5 319.2,236.6 326.8,236.6 324.1,239.5" fill="#00387F" stroke="#8a8a8a" stroke-width="0.5"/><rect x="316.5" y="239.5" width="7.6" height="2.6" fill="#0070FF" stroke="#7a7a7a" stroke-width="0.8"/><polygon points="331.7,242.1 331.7,240.1 334.4,237.2 334.4,239.2" fill="#002464"/><polygon points="324.1,240.1 326.8,237.2 334.4,237.2 331.7,240.1" fill="#002870" stroke="#8a8a8a" stroke-width="0.5"/><rect x="324.1" y="240.1" width="7.6" height="2.0" fill="#0050E0" stroke="#7a7a7a" stroke-width="0.8"/><polygon points="339.3,242.1 339.3,241.1 342.0,238.2 342.0,239.2" fill="#727200"/><polygon points="331.7,241.1 334.4,238.2 342.0,238.2 339.3,241.1" fill="#8B8B3A" stroke="#8a8a8a" stroke-width="0.5"/><rect x="331.7" y="241.1" width="7.6" height="1.0" fill="#8B8B3A" stroke="#7a7a7a" stroke-width="0.8"/><polygon points="346.9,242.1 346.9,241.1 349.6,238.2 349.6,239.2" fill="#726300"/><polygon points="339.3,241.1 342.0,238.2 349.6,238.2 346.9,241.1" fill="#8B7D30" stroke="#8a8a8a" stroke-width="0.5"/><rect x="339.3" y="241.1" width="7.6" height="1.0" fill="#8B7D30" stroke="#7a7a7a" stroke-width="0.8"/><polygon points="354.5,242.1 354.5,241.1 357.2,238.2 357.2,239.2" fill="#725100"/><polygon points="346.9,241.1 349.6,238.2 357.2,238.2 354.5,241.1" fill="#B09040" stroke="#8a8a8a" stroke-width="0.5"/><rect x="346.9" y="241.1" width="7.6" height="1.0" fill="#B09040" stroke="#7a7a7a" stroke-width="0.8"/><polygon points="362.1,242.1 362.1,241.1 364.8,238.2 364.8,239.2" fill="#724000"/><polygon points="354.5,241.1 357.2,238.2 364.8,238.2 362.1,241.1" fill="#8B5A1A" stroke="#8a8a8a" stroke-width="0.5"/><rect x="354.5" y="241.1" width="7.6" height="1.0" fill="#8B5A1A" stroke="#7a7a7a" stroke-width="0.8"/><polygon points="369.7,242.1 369.7,241.1 372.4,238.2 372.4,239.2" fill="#723000"/><polygon points="362.1,241.1 364.8,238.2 372.4,238.2 369.7,241.1" fill="#8B4212" stroke="#8a8a8a" stroke-width="0.5"/><rect x="362.1" y="241.1" width="7.6" height="1.0" fill="#8B4212" stroke="#7a7a7a" stroke-width="0.8"/><polygon points="377.3,242.1 377.3,241.1 380.0,238.2 380.0,239.2" fill="#722000"/><polygon points="369.7,241.1 372.4,238.2 380.0,238.2 377.3,241.1" fill="#8B2C10" stroke="#8a8a8a" stroke-width="0.5"/><rect x="369.7" y="241.1" width="7.6" height="1.0" fill="#8B2C10" stroke="#7a7a7a" stroke-width="0.8"/><polygon points="384.9,242.1 384.9,241.1 387.6,238.2 387.6,239.2" fill="#721000"/><polygon points="377.3,241.1 380.0,238.2 387.6,238.2 384.9,241.1" fill="#9A1410" stroke="#8a8a8a" stroke-width="0.5"/><rect x="377.3" y="241.1" width="7.6" height="1.0" fill="#9A1410" stroke="#7a7a7a" stroke-width="0.8"/>
<polygon points="322.9,187.2 322.9,167.1 325.6,164.2 325.6,184.3" fill="#636363"/><polygon points="315.3,167.1 318.0,164.2 325.6,164.2 322.9,167.1" fill="#6E6E6E" stroke="#8a8a8a" stroke-width="0.5"/><rect x="315.3" y="167.1" width="7.6" height="20.1" fill="#DCDCDC" stroke="#7a7a7a" stroke-width="0.8"/><polygon points="330.5,187.2 330.5,176.7 333.2,173.8 333.2,184.3" fill="#65716A"/><polygon points="322.9,176.7 325.6,173.8 333.2,173.8 330.5,176.7" fill="#717E76" stroke="#8a8a8a" stroke-width="0.5"/><rect x="322.9" y="176.7" width="7.6" height="10.5" fill="#E2FCEC" stroke="#7a7a7a" stroke-width="0.8"/><polygon points="338.1,187.2 338.1,178.6 340.8,175.7 340.8,184.3" fill="#546472"/><polygon points="330.5,178.6 333.2,175.7 340.8,175.7 338.1,178.6" fill="#5E6F7F" stroke="#8a8a8a" stroke-width="0.5"/><rect x="330.5" y="178.6" width="7.6" height="8.6" fill="#BCDFFF" stroke="#7a7a7a" stroke-width="0.8"/><polygon points="345.7,187.2 345.7,181.8 348.4,178.9 348.4,184.3" fill="#006672"/><polygon points="338.1,181.8 340.8,178.9 348.4,178.9 345.7,181.8" fill="#00727F" stroke="#8a8a8a" stroke-width="0.5"/><rect x="338.1" y="181.8" width="7.6" height="5.4" fill="#00E4FF" stroke="#7a7a7a" stroke-width="0.8"/><polygon points="353.3,187.2 353.3,183.1 356.0,180.2 356.0,184.3" fill="#004B66"/><polygon points="345.7,183.1 348.4,180.2 356.0,180.2 353.3,183.1" fill="#005472" stroke="#8a8a8a" stroke-width="0.5"/><rect x="345.7" y="183.1" width="7.6" height="4.1" fill="#00A8E4" stroke="#7a7a7a" stroke-width="0.8"/><polygon points="360.9,187.2 360.9,184.4 363.6,181.5 363.6,184.3" fill="#003272"/><polygon points="353.3,184.4 356.0,181.5 363.6,181.5 360.9,184.4" fill="#00387F" stroke="#8a8a8a" stroke-width="0.5"/><rect x="353.3" y="184.4" width="7.6" height="2.8" fill="#0070FF" stroke="#7a7a7a" stroke-width="0.8"/><polygon points="368.5,187.2 368.5,185.6 371.2,182.7 371.2,184.3" fill="#002464"/><polygon points="360.9,185.6 363.6,182.7 371.2,182.7 368.5,185.6" fill="#002870" stroke="#8a8a8a" stroke-width="0.5"/><rect x="360.9" y="185.6" width="7.6" height="1.6" fill="#0050E0" stroke="#7a7a7a" stroke-width="0.8"/><polygon points="376.1,187.2 376.1,186.2 378.8,183.3 378.8,184.3" fill="#727200"/><polygon points="368.5,186.2 371.2,183.3 378.8,183.3 376.1,186.2" fill="#8B8B3A" stroke="#8a8a8a" stroke-width="0.5"/><rect x="368.5" y="186.2" width="7.6" height="1.0" fill="#8B8B3A" stroke="#7a7a7a" stroke-width="0.8"/><polygon points="383.7,187.2 383.7,186.2 386.4,183.3 386.4,184.3" fill="#726300"/><polygon points="376.1,186.2 378.8,183.3 386.4,183.3 383.7,186.2" fill="#8B7D30" stroke="#8a8a8a" stroke-width="0.5"/><rect x="376.1" y="186.2" width="7.6" height="1.0" fill="#8B7D30" stroke="#7a7a7a" stroke-width="0.8"/><polygon points="391.3,187.2 391.3,186.2 394.0,183.3 394.0,184.3" fill="#725100"/><polygon points="383.7,186.2 386.4,183.3 394.0,183.3 391.3,186.2" fill="#B09040" stroke="#8a8a8a" stroke-width="0.5"/><rect x="383.7" y="186.2" width="7.6" height="1.0" fill="#B09040" stroke="#7a7a7a" stroke-width="0.8"/><polygon points="398.9,187.2 398.9,186.2 401.6,183.3 401.6,184.3" fill="#724000"/><polygon points="391.3,186.2 394.0,183.3 401.6,183.3 398.9,186.2" fill="#8B5A1A" stroke="#8a8a8a" stroke-width="0.5"/><rect x="391.3" y="186.2" width="7.6" height="1.0" fill="#8B5A1A" stroke="#7a7a7a" stroke-width="0.8"/><polygon points="406.5,187.2 406.5,186.2 409.2,183.3 409.2,184.3" fill="#723000"/><polygon points="398.9,186.2 401.6,183.3 409.2,183.3 406.5,186.2" fill="#8B4212" stroke="#8a8a8a" stroke-width="0.5"/><rect x="398.9" y="186.2" width="7.6" height="1.0" fill="#8B4212" stroke="#7a7a7a" stroke-width="0.8"/><polygon points="414.1,187.2 414.1,186.2 416.8,183.3 416.8,184.3" fill="#722000"/><polygon points="406.5,186.2 409.2,183.3 416.8,183.3 414.1,186.2" fill="#8B2C10" stroke="#8a8a8a" stroke-width="0.5"/><rect x="406.5" y="186.2" width="7.6" height="1.0" fill="#8B2C10" stroke="#7a7a7a" stroke-width="0.8"/><polygon points="421.7,187.2 421.7,186.2 424.4,183.3 424.4,184.3" fill="#721000"/><polygon points="414.1,186.2 416.8,183.3 424.4,183.3 421.7,186.2" fill="#9A1410" stroke="#8a8a8a" stroke-width="0.5"/><rect x="414.1" y="186.2" width="7.6" height="1.0" fill="#9A1410" stroke="#7a7a7a" stroke-width="0.8"/>
<polygon points="400.0,152.9 400.0,138.1 402.7,135.2 402.7,150.0" fill="#636363"/><polygon points="392.4,138.1 395.1,135.2 402.7,135.2 400.0,138.1" fill="#6E6E6E" stroke="#8a8a8a" stroke-width="0.5"/><rect x="392.4" y="138.1" width="7.6" height="14.8" fill="#DCDCDC" stroke="#7a7a7a" stroke-width="0.8"/><polygon points="407.6,152.9 407.6,142.1 410.3,139.2 410.3,150.0" fill="#65716A"/><polygon points="400.0,142.1 402.7,139.2 410.3,139.2 407.6,142.1" fill="#717E76" stroke="#8a8a8a" stroke-width="0.5"/><rect x="400.0" y="142.1" width="7.6" height="10.8" fill="#E2FCEC" stroke="#7a7a7a" stroke-width="0.8"/><polygon points="415.2,152.9 415.2,137.5 417.9,134.6 417.9,150.0" fill="#546472"/><polygon points="407.6,137.5 410.3,134.6 417.9,134.6 415.2,137.5" fill="#5E6F7F" stroke="#8a8a8a" stroke-width="0.5"/><rect x="407.6" y="137.5" width="7.6" height="15.4" fill="#BCDFFF" stroke="#7a7a7a" stroke-width="0.8"/><polygon points="422.8,152.9 422.8,140.4 425.5,137.5 425.5,150.0" fill="#006672"/><polygon points="415.2,140.4 417.9,137.5 425.5,137.5 422.8,140.4" fill="#00727F" stroke="#8a8a8a" stroke-width="0.5"/><rect x="415.2" y="140.4" width="7.6" height="12.5" fill="#00E4FF" stroke="#7a7a7a" stroke-width="0.8"/><polygon points="430.4,152.9 430.4,147.2 433.1,144.3 433.1,150.0" fill="#004B66"/><polygon points="422.8,147.2 425.5,144.3 433.1,144.3 430.4,147.2" fill="#005472" stroke="#8a8a8a" stroke-width="0.5"/><rect x="422.8" y="147.2" width="7.6" height="5.7" fill="#00A8E4" stroke="#7a7a7a" stroke-width="0.8"/><polygon points="438.0,152.9 438.0,150.1 440.7,147.2 440.7,150.0" fill="#003272"/><polygon points="430.4,150.1 433.1,147.2 440.7,147.2 438.0,150.1" fill="#00387F" stroke="#8a8a8a" stroke-width="0.5"/><rect x="430.4" y="150.1" width="7.6" height="2.8" fill="#0070FF" stroke="#7a7a7a" stroke-width="0.8"/><polygon points="445.6,152.9 445.6,151.2 448.3,148.3 448.3,150.0" fill="#002464"/><polygon points="438.0,151.2 440.7,148.3 448.3,148.3 445.6,151.2" fill="#002870" stroke="#8a8a8a" stroke-width="0.5"/><rect x="438.0" y="151.2" width="7.6" height="1.7" fill="#0050E0" stroke="#7a7a7a" stroke-width="0.8"/><polygon points="453.2,152.9 453.2,151.9 455.9,149.0 455.9,150.0" fill="#727200"/><polygon points="445.6,151.9 448.3,149.0 455.9,149.0 453.2,151.9" fill="#8B8B3A" stroke="#8a8a8a" stroke-width="0.5"/><rect x="445.6" y="151.9" width="7.6" height="1.0" fill="#8B8B3A" stroke="#7a7a7a" stroke-width="0.8"/><polygon points="460.8,152.9 460.8,151.9 463.5,149.0 463.5,150.0" fill="#726300"/><polygon points="453.2,151.9 455.9,149.0 463.5,149.0 460.8,151.9" fill="#8B7D30" stroke="#8a8a8a" stroke-width="0.5"/><rect x="453.2" y="151.9" width="7.6" height="1.0" fill="#8B7D30" stroke="#7a7a7a" stroke-width="0.8"/><polygon points="468.4,152.9 468.4,151.9 471.1,149.0 471.1,150.0" fill="#725100"/><polygon points="460.8,151.9 463.5,149.0 471.1,149.0 468.4,151.9" fill="#B09040" stroke="#8a8a8a" stroke-width="0.5"/><rect x="460.8" y="151.9" width="7.6" height="1.0" fill="#B09040" stroke="#7a7a7a" stroke-width="0.8"/><polygon points="476.0,152.9 476.0,151.9 478.7,149.0 478.7,150.0" fill="#724000"/><polygon points="468.4,151.9 471.1,149.0 478.7,149.0 476.0,151.9" fill="#8B5A1A" stroke="#8a8a8a" stroke-width="0.5"/><rect x="468.4" y="151.9" width="7.6" height="1.0" fill="#8B5A1A" stroke="#7a7a7a" stroke-width="0.8"/><polygon points="483.6,152.9 483.6,151.9 486.3,149.0 486.3,150.0" fill="#723000"/><polygon points="476.0,151.9 478.7,149.0 486.3,149.0 483.6,151.9" fill="#8B4212" stroke="#8a8a8a" stroke-width="0.5"/><rect x="476.0" y="151.9" width="7.6" height="1.0" fill="#8B4212" stroke="#7a7a7a" stroke-width="0.8"/><polygon points="491.2,152.9 491.2,151.9 493.9,149.0 493.9,150.0" fill="#722000"/><polygon points="483.6,151.9 486.3,149.0 493.9,149.0 491.2,151.9" fill="#8B2C10" stroke="#8a8a8a" stroke-width="0.5"/><rect x="483.6" y="151.9" width="7.6" height="1.0" fill="#8B2C10" stroke="#7a7a7a" stroke-width="0.8"/><polygon points="498.8,152.9 498.8,151.9 501.5,149.0 501.5,150.0" fill="#721000"/><polygon points="491.2,151.9 493.9,149.0 501.5,149.0 498.8,151.9" fill="#9A1410" stroke="#8a8a8a" stroke-width="0.5"/><rect x="491.2" y="151.9" width="7.6" height="1.0" fill="#9A1410" stroke="#7a7a7a" stroke-width="0.8"/>
<polygon points="435.9,188.2 435.9,148.9 438.6,146.0 438.6,185.3" fill="#636363"/><polygon points="428.3,148.9 431.0,146.0 438.6,146.0 435.9,148.9" fill="#6E6E6E" stroke="#8a8a8a" stroke-width="0.5"/><rect x="428.3" y="148.9" width="7.6" height="39.3" fill="#DCDCDC" stroke="#7a7a7a" stroke-width="0.8"/><polygon points="443.5,188.2 443.5,174.0 446.2,171.1 446.2,185.3" fill="#65716A"/><polygon points="435.9,174.0 438.6,171.1 446.2,171.1 443.5,174.0" fill="#717E76" stroke="#8a8a8a" stroke-width="0.5"/><rect x="435.9" y="174.0" width="7.6" height="14.2" fill="#E2FCEC" stroke="#7a7a7a" stroke-width="0.8"/><polygon points="451.1,188.2 451.1,170.0 453.8,167.1 453.8,185.3" fill="#546472"/><polygon points="443.5,170.0 446.2,167.1 453.8,167.1 451.1,170.0" fill="#5E6F7F" stroke="#8a8a8a" stroke-width="0.5"/><rect x="443.5" y="170.0" width="7.6" height="18.2" fill="#BCDFFF" stroke="#7a7a7a" stroke-width="0.8"/><polygon points="458.7,188.2 458.7,170.0 461.4,167.1 461.4,185.3" fill="#006672"/><polygon points="451.1,170.0 453.8,167.1 461.4,167.1 458.7,170.0" fill="#00727F" stroke="#8a8a8a" stroke-width="0.5"/><rect x="451.1" y="170.0" width="7.6" height="18.2" fill="#00E4FF" stroke="#7a7a7a" stroke-width="0.8"/><polygon points="466.3,188.2 466.3,179.7 469.0,176.8 469.0,185.3" fill="#004B66"/><polygon points="458.7,179.7 461.4,176.8 469.0,176.8 466.3,179.7" fill="#005472" stroke="#8a8a8a" stroke-width="0.5"/><rect x="458.7" y="179.7" width="7.6" height="8.5" fill="#00A8E4" stroke="#7a7a7a" stroke-width="0.8"/><polygon points="473.9,188.2 473.9,184.3 476.6,181.4 476.6,185.3" fill="#003272"/><polygon points="466.3,184.3 469.0,181.4 476.6,181.4 473.9,184.3" fill="#00387F" stroke="#8a8a8a" stroke-width="0.5"/><rect x="466.3" y="184.3" width="7.6" height="3.9" fill="#0070FF" stroke="#7a7a7a" stroke-width="0.8"/><polygon points="481.5,188.2 481.5,186.0 484.2,183.1 484.2,185.3" fill="#002464"/><polygon points="473.9,186.0 476.6,183.1 484.2,183.1 481.5,186.0" fill="#002870" stroke="#8a8a8a" stroke-width="0.5"/><rect x="473.9" y="186.0" width="7.6" height="2.2" fill="#0050E0" stroke="#7a7a7a" stroke-width="0.8"/><polygon points="489.1,188.2 489.1,187.2 491.8,184.3 491.8,185.3" fill="#727200"/><polygon points="481.5,187.2 484.2,184.3 491.8,184.3 489.1,187.2" fill="#8B8B3A" stroke="#8a8a8a" stroke-width="0.5"/><rect x="481.5" y="187.2" width="7.6" height="1.0" fill="#8B8B3A" stroke="#7a7a7a" stroke-width="0.8"/><polygon points="496.7,188.2 496.7,187.2 499.4,184.3 499.4,185.3" fill="#726300"/><polygon points="489.1,187.2 491.8,184.3 499.4,184.3 496.7,187.2" fill="#8B7D30" stroke="#8a8a8a" stroke-width="0.5"/><rect x="489.1" y="187.2" width="7.6" height="1.0" fill="#8B7D30" stroke="#7a7a7a" stroke-width="0.8"/><polygon points="504.3,188.2 504.3,187.2 507.0,184.3 507.0,185.3" fill="#725100"/><polygon points="496.7,187.2 499.4,184.3 507.0,184.3 504.3,187.2" fill="#B09040" stroke="#8a8a8a" stroke-width="0.5"/><rect x="496.7" y="187.2" width="7.6" height="1.0" fill="#B09040" stroke="#7a7a7a" stroke-width="0.8"/><polygon points="511.9,188.2 511.9,187.2 514.6,184.3 514.6,185.3" fill="#724000"/><polygon points="504.3,187.2 507.0,184.3 514.6,184.3 511.9,187.2" fill="#8B5A1A" stroke="#8a8a8a" stroke-width="0.5"/><rect x="504.3" y="187.2" width="7.6" height="1.0" fill="#8B5A1A" stroke="#7a7a7a" stroke-width="0.8"/><polygon points="519.5,188.2 519.5,187.2 522.2,184.3 522.2,185.3" fill="#723000"/><polygon points="511.9,187.2 514.6,184.3 522.2,184.3 519.5,187.2" fill="#8B4212" stroke="#8a8a8a" stroke-width="0.5"/><rect x="511.9" y="187.2" width="7.6" height="1.0" fill="#8B4212" stroke="#7a7a7a" stroke-width="0.8"/><polygon points="527.1,188.2 527.1,187.2 529.8,184.3 529.8,185.3" fill="#722000"/><polygon points="519.5,187.2 522.2,184.3 529.8,184.3 527.1,187.2" fill="#8B2C10" stroke="#8a8a8a" stroke-width="0.5"/><rect x="519.5" y="187.2" width="7.6" height="1.0" fill="#8B2C10" stroke="#7a7a7a" stroke-width="0.8"/><polygon points="534.7,188.2 534.7,187.2 537.4,184.3 537.4,185.3" fill="#721000"/><polygon points="527.1,187.2 529.8,184.3 537.4,184.3 534.7,187.2" fill="#9A1410" stroke="#8a8a8a" stroke-width="0.5"/><rect x="527.1" y="187.2" width="7.6" height="1.0" fill="#9A1410" stroke="#7a7a7a" stroke-width="0.8"/>
<polygon points="547.6,153.4 547.6,143.0 550.3,140.1 550.3,150.5" fill="#636363"/><polygon points="540.0,143.0 542.7,140.1 550.3,140.1 547.6,143.0" fill="#6E6E6E" stroke="#8a8a8a" stroke-width="0.5"/><rect x="540.0" y="143.0" width="7.6" height="10.4" fill="#DCDCDC" stroke="#7a7a7a" stroke-width="0.8"/><polygon points="555.2,153.4 555.2,147.8 557.9,144.9 557.9,150.5" fill="#65716A"/><polygon points="547.6,147.8 550.3,144.9 557.9,144.9 555.2,147.8" fill="#717E76" stroke="#8a8a8a" stroke-width="0.5"/><rect x="547.6" y="147.8" width="7.6" height="5.6" fill="#E2FCEC" stroke="#7a7a7a" stroke-width="0.8"/><polygon points="562.8,153.4 562.8,144.3 565.5,141.4 565.5,150.5" fill="#546472"/><polygon points="555.2,144.3 557.9,141.4 565.5,141.4 562.8,144.3" fill="#5E6F7F" stroke="#8a8a8a" stroke-width="0.5"/><rect x="555.2" y="144.3" width="7.6" height="9.1" fill="#BCDFFF" stroke="#7a7a7a" stroke-width="0.8"/><polygon points="570.4,153.4 570.4,141.6 573.1,138.7 573.1,150.5" fill="#006672"/><polygon points="562.8,141.6 565.5,138.7 573.1,138.7 570.4,141.6" fill="#00727F" stroke="#8a8a8a" stroke-width="0.5"/><rect x="562.8" y="141.6" width="7.6" height="11.8" fill="#00E4FF" stroke="#7a7a7a" stroke-width="0.8"/><polygon points="578.0,153.4 578.0,149.5 580.7,146.6 580.7,150.5" fill="#004B66"/><polygon points="570.4,149.5 573.1,146.6 580.7,146.6 578.0,149.5" fill="#005472" stroke="#8a8a8a" stroke-width="0.5"/><rect x="570.4" y="149.5" width="7.6" height="3.9" fill="#00A8E4" stroke="#7a7a7a" stroke-width="0.8"/><polygon points="585.6,153.4 585.6,149.5 588.3,146.6 588.3,150.5" fill="#003272"/><polygon points="578.0,149.5 580.7,146.6 588.3,146.6 585.6,149.5" fill="#00387F" stroke="#8a8a8a" stroke-width="0.5"/><rect x="578.0" y="149.5" width="7.6" height="3.9" fill="#0070FF" stroke="#7a7a7a" stroke-width="0.8"/><polygon points="593.2,153.4 593.2,151.3 595.9,148.4 595.9,150.5" fill="#002464"/><polygon points="585.6,151.3 588.3,148.4 595.9,148.4 593.2,151.3" fill="#002870" stroke="#8a8a8a" stroke-width="0.5"/><rect x="585.6" y="151.3" width="7.6" height="2.1" fill="#0050E0" stroke="#7a7a7a" stroke-width="0.8"/><polygon points="600.8,153.4 600.8,152.2 603.5,149.3 603.5,150.5" fill="#727200"/><polygon points="593.2,152.2 595.9,149.3 603.5,149.3 600.8,152.2" fill="#8B8B3A" stroke="#8a8a8a" stroke-width="0.5"/><rect x="593.2" y="152.2" width="7.6" height="1.2" fill="#8B8B3A" stroke="#7a7a7a" stroke-width="0.8"/><polygon points="608.4,153.4 608.4,152.2 611.1,149.3 611.1,150.5" fill="#726300"/><polygon points="600.8,152.2 603.5,149.3 611.1,149.3 608.4,152.2" fill="#8B7D30" stroke="#8a8a8a" stroke-width="0.5"/><rect x="600.8" y="152.2" width="7.6" height="1.2" fill="#8B7D30" stroke="#7a7a7a" stroke-width="0.8"/><polygon points="616.0,153.4 616.0,152.2 618.7,149.3 618.7,150.5" fill="#725100"/><polygon points="608.4,152.2 611.1,149.3 618.7,149.3 616.0,152.2" fill="#B09040" stroke="#8a8a8a" stroke-width="0.5"/><rect x="608.4" y="152.2" width="7.6" height="1.2" fill="#B09040" stroke="#7a7a7a" stroke-width="0.8"/><polygon points="623.6,153.4 623.6,152.2 626.3,149.3 626.3,150.5" fill="#724000"/><polygon points="616.0,152.2 618.7,149.3 626.3,149.3 623.6,152.2" fill="#8B5A1A" stroke="#8a8a8a" stroke-width="0.5"/><rect x="616.0" y="152.2" width="7.6" height="1.2" fill="#8B5A1A" stroke="#7a7a7a" stroke-width="0.8"/><polygon points="631.2,153.4 631.2,152.2 633.9,149.3 633.9,150.5" fill="#723000"/><polygon points="623.6,152.2 626.3,149.3 633.9,149.3 631.2,152.2" fill="#8B4212" stroke="#8a8a8a" stroke-width="0.5"/><rect x="623.6" y="152.2" width="7.6" height="1.2" fill="#8B4212" stroke="#7a7a7a" stroke-width="0.8"/><polygon points="638.8,153.4 638.8,152.2 641.5,149.3 641.5,150.5" fill="#722000"/><polygon points="631.2,152.2 633.9,149.3 641.5,149.3 638.8,152.2" fill="#8B2C10" stroke="#8a8a8a" stroke-width="0.5"/><rect x="631.2" y="152.2" width="7.6" height="1.2" fill="#8B2C10" stroke="#7a7a7a" stroke-width="0.8"/><polygon points="646.4,153.4 646.4,152.2 649.1,149.3 649.1,150.5" fill="#721000"/><polygon points="638.8,152.2 641.5,149.3 649.1,149.3 646.4,152.2" fill="#9A1410" stroke="#8a8a8a" stroke-width="0.5"/><rect x="638.8" y="152.2" width="7.6" height="1.2" fill="#9A1410" stroke="#7a7a7a" stroke-width="0.8"/>
<polygon points="594.9,246.4 594.9,186.3 597.6,183.4 597.6,243.5" fill="#636363"/><polygon points="587.3,186.3 590.0,183.4 597.6,183.4 594.9,186.3" fill="#6E6E6E" stroke="#8a8a8a" stroke-width="0.5"/><rect x="587.3" y="186.3" width="7.6" height="60.1" fill="#DCDCDC" stroke="#7a7a7a" stroke-width="0.8"/><polygon points="602.5,246.4 602.5,220.6 605.2,217.7 605.2,243.5" fill="#65716A"/><polygon points="594.9,220.6 597.6,217.7 605.2,217.7 602.5,220.6" fill="#717E76" stroke="#8a8a8a" stroke-width="0.5"/><rect x="594.9" y="220.6" width="7.6" height="25.8" fill="#E2FCEC" stroke="#7a7a7a" stroke-width="0.8"/><polygon points="610.1,246.4 610.1,212.5 612.8,209.6 612.8,243.5" fill="#546472"/><polygon points="602.5,212.5 605.2,209.6 612.8,209.6 610.1,212.5" fill="#5E6F7F" stroke="#8a8a8a" stroke-width="0.5"/><rect x="602.5" y="212.5" width="7.6" height="33.9" fill="#BCDFFF" stroke="#7a7a7a" stroke-width="0.8"/><polygon points="617.7,246.4 617.7,216.5 620.4,213.6 620.4,243.5" fill="#006672"/><polygon points="610.1,216.5 612.8,213.6 620.4,213.6 617.7,216.5" fill="#00727F" stroke="#8a8a8a" stroke-width="0.5"/><rect x="610.1" y="216.5" width="7.6" height="29.9" fill="#00E4FF" stroke="#7a7a7a" stroke-width="0.8"/><polygon points="625.3,246.4 625.3,228.6 628.0,225.7 628.0,243.5" fill="#004B66"/><polygon points="617.7,228.6 620.4,225.7 628.0,225.7 625.3,228.6" fill="#005472" stroke="#8a8a8a" stroke-width="0.5"/><rect x="617.7" y="228.6" width="7.6" height="17.8" fill="#00A8E4" stroke="#7a7a7a" stroke-width="0.8"/><polygon points="632.9,246.4 632.9,237.1 635.6,234.2 635.6,243.5" fill="#003272"/><polygon points="625.3,237.1 628.0,234.2 635.6,234.2 632.9,237.1" fill="#00387F" stroke="#8a8a8a" stroke-width="0.5"/><rect x="625.3" y="237.1" width="7.6" height="9.3" fill="#0070FF" stroke="#7a7a7a" stroke-width="0.8"/><polygon points="640.5,246.4 640.5,242.7 643.2,239.8 643.2,243.5" fill="#002464"/><polygon points="632.9,242.7 635.6,239.8 643.2,239.8 640.5,242.7" fill="#002870" stroke="#8a8a8a" stroke-width="0.5"/><rect x="632.9" y="242.7" width="7.6" height="3.7" fill="#0050E0" stroke="#7a7a7a" stroke-width="0.8"/><polygon points="648.1,246.4 648.1,245.4 650.8,242.5 650.8,243.5" fill="#727200"/><polygon points="640.5,245.4 643.2,242.5 650.8,242.5 648.1,245.4" fill="#8B8B3A" stroke="#8a8a8a" stroke-width="0.5"/><rect x="640.5" y="245.4" width="7.6" height="1.0" fill="#8B8B3A" stroke="#7a7a7a" stroke-width="0.8"/><polygon points="655.7,246.4 655.7,245.4 658.4,242.5 658.4,243.5" fill="#726300"/><polygon points="648.1,245.4 650.8,242.5 658.4,242.5 655.7,245.4" fill="#8B7D30" stroke="#8a8a8a" stroke-width="0.5"/><rect x="648.1" y="245.4" width="7.6" height="1.0" fill="#8B7D30" stroke="#7a7a7a" stroke-width="0.8"/><polygon points="663.3,246.4 663.3,245.4 666.0,242.5 666.0,243.5" fill="#725100"/><polygon points="655.7,245.4 658.4,242.5 666.0,242.5 663.3,245.4" fill="#B09040" stroke="#8a8a8a" stroke-width="0.5"/><rect x="655.7" y="245.4" width="7.6" height="1.0" fill="#B09040" stroke="#7a7a7a" stroke-width="0.8"/><polygon points="670.9,246.4 670.9,245.4 673.6,242.5 673.6,243.5" fill="#724000"/><polygon points="663.3,245.4 666.0,242.5 673.6,242.5 670.9,245.4" fill="#8B5A1A" stroke="#8a8a8a" stroke-width="0.5"/><rect x="663.3" y="245.4" width="7.6" height="1.0" fill="#8B5A1A" stroke="#7a7a7a" stroke-width="0.8"/><polygon points="678.5,246.4 678.5,245.4 681.2,242.5 681.2,243.5" fill="#723000"/><polygon points="670.9,245.4 673.6,242.5 681.2,242.5 678.5,245.4" fill="#8B4212" stroke="#8a8a8a" stroke-width="0.5"/><rect x="670.9" y="245.4" width="7.6" height="1.0" fill="#8B4212" stroke="#7a7a7a" stroke-width="0.8"/><polygon points="686.1,246.4 686.1,245.4 688.8,242.5 688.8,243.5" fill="#722000"/><polygon points="678.5,245.4 681.2,242.5 688.8,242.5 686.1,245.4" fill="#8B2C10" stroke="#8a8a8a" stroke-width="0.5"/><rect x="678.5" y="245.4" width="7.6" height="1.0" fill="#8B2C10" stroke="#7a7a7a" stroke-width="0.8"/><polygon points="693.7,246.4 693.7,245.4 696.4,242.5 696.4,243.5" fill="#721000"/><polygon points="686.1,245.4 688.8,242.5 696.4,242.5 693.7,245.4" fill="#9A1410" stroke="#8a8a8a" stroke-width="0.5"/><rect x="686.1" y="245.4" width="7.6" height="1.0" fill="#9A1410" stroke="#7a7a7a" stroke-width="0.8"/>
<polygon points="398.9,239.0 398.9,231.6 401.6,228.7 401.6,236.1" fill="#636363"/><polygon points="391.3,231.6 394.0,228.7 401.6,228.7 398.9,231.6" fill="#6E6E6E" stroke="#8a8a8a" stroke-width="0.5"/><rect x="391.3" y="231.6" width="7.6" height="7.4" fill="#DCDCDC" stroke="#7a7a7a" stroke-width="0.8"/><polygon points="406.5,239.0 406.5,233.3 409.2,230.4 409.2,236.1" fill="#65716A"/><polygon points="398.9,233.3 401.6,230.4 409.2,230.4 406.5,233.3" fill="#717E76" stroke="#8a8a8a" stroke-width="0.5"/><rect x="398.9" y="233.3" width="7.6" height="5.7" fill="#E2FCEC" stroke="#7a7a7a" stroke-width="0.8"/><polygon points="414.1,239.0 414.1,233.8 416.8,230.9 416.8,236.1" fill="#546472"/><polygon points="406.5,233.8 409.2,230.9 416.8,230.9 414.1,233.8" fill="#5E6F7F" stroke="#8a8a8a" stroke-width="0.5"/><rect x="406.5" y="233.8" width="7.6" height="5.2" fill="#BCDFFF" stroke="#7a7a7a" stroke-width="0.8"/><polygon points="421.7,239.0 421.7,231.6 424.4,228.7 424.4,236.1" fill="#006672"/><polygon points="414.1,231.6 416.8,228.7 424.4,228.7 421.7,231.6" fill="#00727F" stroke="#8a8a8a" stroke-width="0.5"/><rect x="414.1" y="231.6" width="7.6" height="7.4" fill="#00E4FF" stroke="#7a7a7a" stroke-width="0.8"/><polygon points="429.3,239.0 429.3,233.8 432.0,230.9 432.0,236.1" fill="#004B66"/><polygon points="421.7,233.8 424.4,230.9 432.0,230.9 429.3,233.8" fill="#005472" stroke="#8a8a8a" stroke-width="0.5"/><rect x="421.7" y="233.8" width="7.6" height="5.2" fill="#00A8E4" stroke="#7a7a7a" stroke-width="0.8"/><polygon points="436.9,239.0 436.9,236.7 439.6,233.8 439.6,236.1" fill="#003272"/><polygon points="429.3,236.7 432.0,233.8 439.6,233.8 436.9,236.7" fill="#00387F" stroke="#8a8a8a" stroke-width="0.5"/><rect x="429.3" y="236.7" width="7.6" height="2.3" fill="#0070FF" stroke="#7a7a7a" stroke-width="0.8"/><polygon points="444.5,239.0 444.5,237.3 447.2,234.4 447.2,236.1" fill="#002464"/><polygon points="436.9,237.3 439.6,234.4 447.2,234.4 444.5,237.3" fill="#002870" stroke="#8a8a8a" stroke-width="0.5"/><rect x="436.9" y="237.3" width="7.6" height="1.7" fill="#0050E0" stroke="#7a7a7a" stroke-width="0.8"/><polygon points="452.1,239.0 452.1,238.0 454.8,235.1 454.8,236.1" fill="#727200"/><polygon points="444.5,238.0 447.2,235.1 454.8,235.1 452.1,238.0" fill="#8B8B3A" stroke="#8a8a8a" stroke-width="0.5"/><rect x="444.5" y="238.0" width="7.6" height="1.0" fill="#8B8B3A" stroke="#7a7a7a" stroke-width="0.8"/><polygon points="459.7,239.0 459.7,238.0 462.4,235.1 462.4,236.1" fill="#726300"/><polygon points="452.1,238.0 454.8,235.1 462.4,235.1 459.7,238.0" fill="#8B7D30" stroke="#8a8a8a" stroke-width="0.5"/><rect x="452.1" y="238.0" width="7.6" height="1.0" fill="#8B7D30" stroke="#7a7a7a" stroke-width="0.8"/><polygon points="467.3,239.0 467.3,238.0 470.0,235.1 470.0,236.1" fill="#725100"/><polygon points="459.7,238.0 462.4,235.1 470.0,235.1 467.3,238.0" fill="#B09040" stroke="#8a8a8a" stroke-width="0.5"/><rect x="459.7" y="238.0" width="7.6" height="1.0" fill="#B09040" stroke="#7a7a7a" stroke-width="0.8"/><polygon points="474.9,239.0 474.9,238.0 477.6,235.1 477.6,236.1" fill="#724000"/><polygon points="467.3,238.0 470.0,235.1 477.6,235.1 474.9,238.0" fill="#8B5A1A" stroke="#8a8a8a" stroke-width="0.5"/><rect x="467.3" y="238.0" width="7.6" height="1.0" fill="#8B5A1A" stroke="#7a7a7a" stroke-width="0.8"/><polygon points="482.5,239.0 482.5,238.0 485.2,235.1 485.2,236.1" fill="#723000"/><polygon points="474.9,238.0 477.6,235.1 485.2,235.1 482.5,238.0" fill="#8B4212" stroke="#8a8a8a" stroke-width="0.5"/><rect x="474.9" y="238.0" width="7.6" height="1.0" fill="#8B4212" stroke="#7a7a7a" stroke-width="0.8"/><polygon points="490.1,239.0 490.1,238.0 492.8,235.1 492.8,236.1" fill="#722000"/><polygon points="482.5,238.0 485.2,235.1 492.8,235.1 490.1,238.0" fill="#8B2C10" stroke="#8a8a8a" stroke-width="0.5"/><rect x="482.5" y="238.0" width="7.6" height="1.0" fill="#8B2C10" stroke="#7a7a7a" stroke-width="0.8"/><polygon points="497.7,239.0 497.7,238.0 500.4,235.1 500.4,236.1" fill="#721000"/><polygon points="490.1,238.0 492.8,235.1 500.4,235.1 497.7,238.0" fill="#9A1410" stroke="#8a8a8a" stroke-width="0.5"/><rect x="490.1" y="238.0" width="7.6" height="1.0" fill="#9A1410" stroke="#7a7a7a" stroke-width="0.8"/>
<polygon points="391.8,315.5 391.8,287.5 394.5,284.6 394.5,312.6" fill="#636363"/><polygon points="384.2,287.5 386.9,284.6 394.5,284.6 391.8,287.5" fill="#6E6E6E" stroke="#8a8a8a" stroke-width="0.5"/><rect x="384.2" y="287.5" width="7.6" height="28.0" fill="#DCDCDC" stroke="#7a7a7a" stroke-width="0.8"/><polygon points="399.4,315.5 399.4,294.6 402.1,291.7 402.1,312.6" fill="#65716A"/><polygon points="391.8,294.6 394.5,291.7 402.1,291.7 399.4,294.6" fill="#717E76" stroke="#8a8a8a" stroke-width="0.5"/><rect x="391.8" y="294.6" width="7.6" height="20.9" fill="#E2FCEC" stroke="#7a7a7a" stroke-width="0.8"/><polygon points="407.0,315.5 407.0,296.7 409.7,293.8 409.7,312.6" fill="#546472"/><polygon points="399.4,296.7 402.1,293.8 409.7,293.8 407.0,296.7" fill="#5E6F7F" stroke="#8a8a8a" stroke-width="0.5"/><rect x="399.4" y="296.7" width="7.6" height="18.8" fill="#BCDFFF" stroke="#7a7a7a" stroke-width="0.8"/><polygon points="414.6,315.5 414.6,295.7 417.3,292.8 417.3,312.6" fill="#006672"/><polygon points="407.0,295.7 409.7,292.8 417.3,292.8 414.6,295.7" fill="#00727F" stroke="#8a8a8a" stroke-width="0.5"/><rect x="407.0" y="295.7" width="7.6" height="19.8" fill="#00E4FF" stroke="#7a7a7a" stroke-width="0.8"/><polygon points="422.2,315.5 422.2,305.1 424.9,302.2 424.9,312.6" fill="#004B66"/><polygon points="414.6,305.1 417.3,302.2 424.9,302.2 422.2,305.1" fill="#005472" stroke="#8a8a8a" stroke-width="0.5"/><rect x="414.6" y="305.1" width="7.6" height="10.4" fill="#00A8E4" stroke="#7a7a7a" stroke-width="0.8"/><polygon points="429.8,315.5 429.8,310.8 432.5,307.9 432.5,312.6" fill="#003272"/><polygon points="422.2,310.8 424.9,307.9 432.5,307.9 429.8,310.8" fill="#00387F" stroke="#8a8a8a" stroke-width="0.5"/><rect x="422.2" y="310.8" width="7.6" height="4.7" fill="#0070FF" stroke="#7a7a7a" stroke-width="0.8"/><polygon points="437.4,315.5 437.4,313.4 440.1,310.5 440.1,312.6" fill="#002464"/><polygon points="429.8,313.4 432.5,310.5 440.1,310.5 437.4,313.4" fill="#002870" stroke="#8a8a8a" stroke-width="0.5"/><rect x="429.8" y="313.4" width="7.6" height="2.1" fill="#0050E0" stroke="#7a7a7a" stroke-width="0.8"/><polygon points="445.0,315.5 445.0,314.0 447.7,311.1 447.7,312.6" fill="#727200"/><polygon points="437.4,314.0 440.1,311.1 447.7,311.1 445.0,314.0" fill="#8B8B3A" stroke="#8a8a8a" stroke-width="0.5"/><rect x="437.4" y="314.0" width="7.6" height="1.5" fill="#8B8B3A" stroke="#7a7a7a" stroke-width="0.8"/><polygon points="452.6,315.5 452.6,314.0 455.3,311.1 455.3,312.6" fill="#726300"/><polygon points="445.0,314.0 447.7,311.1 455.3,311.1 452.6,314.0" fill="#8B7D30" stroke="#8a8a8a" stroke-width="0.5"/><rect x="445.0" y="314.0" width="7.6" height="1.5" fill="#8B7D30" stroke="#7a7a7a" stroke-width="0.8"/><polygon points="460.2,315.5 460.2,314.0 462.9,311.1 462.9,312.6" fill="#725100"/><polygon points="452.6,314.0 455.3,311.1 462.9,311.1 460.2,314.0" fill="#B09040" stroke="#8a8a8a" stroke-width="0.5"/><rect x="452.6" y="314.0" width="7.6" height="1.5" fill="#B09040" stroke="#7a7a7a" stroke-width="0.8"/><polygon points="467.8,315.5 467.8,314.0 470.5,311.1 470.5,312.6" fill="#724000"/><polygon points="460.2,314.0 462.9,311.1 470.5,311.1 467.8,314.0" fill="#8B5A1A" stroke="#8a8a8a" stroke-width="0.5"/><rect x="460.2" y="314.0" width="7.6" height="1.5" fill="#8B5A1A" stroke="#7a7a7a" stroke-width="0.8"/><polygon points="475.4,315.5 475.4,314.0 478.1,311.1 478.1,312.6" fill="#723000"/><polygon points="467.8,314.0 470.5,311.1 478.1,311.1 475.4,314.0" fill="#8B4212" stroke="#8a8a8a" stroke-width="0.5"/><rect x="467.8" y="314.0" width="7.6" height="1.5" fill="#8B4212" stroke="#7a7a7a" stroke-width="0.8"/><polygon points="483.0,315.5 483.0,314.0 485.7,311.1 485.7,312.6" fill="#722000"/><polygon points="475.4,314.0 478.1,311.1 485.7,311.1 483.0,314.0" fill="#8B2C10" stroke="#8a8a8a" stroke-width="0.5"/><rect x="475.4" y="314.0" width="7.6" height="1.5" fill="#8B2C10" stroke="#7a7a7a" stroke-width="0.8"/><polygon points="490.6,315.5 490.6,314.0 493.3,311.1 493.3,312.6" fill="#721000"/><polygon points="483.0,314.0 485.7,311.1 493.3,311.1 490.6,314.0" fill="#9A1410" stroke="#8a8a8a" stroke-width="0.5"/><rect x="483.0" y="314.0" width="7.6" height="1.5" fill="#9A1410" stroke="#7a7a7a" stroke-width="0.8"/>
<polygon points="253.0,356.2 253.0,348.3 255.7,345.4 255.7,353.3" fill="#636363"/><polygon points="245.4,348.3 248.1,345.4 255.7,345.4 253.0,348.3" fill="#6E6E6E" stroke="#8a8a8a" stroke-width="0.5"/><rect x="245.4" y="348.3" width="7.6" height="7.9" fill="#DCDCDC" stroke="#7a7a7a" stroke-width="0.8"/><polygon points="260.6,356.2 260.6,350.1 263.3,347.2 263.3,353.3" fill="#65716A"/><polygon points="253.0,350.1 255.7,347.2 263.3,347.2 260.6,350.1" fill="#717E76" stroke="#8a8a8a" stroke-width="0.5"/><rect x="253.0" y="350.1" width="7.6" height="6.1" fill="#E2FCEC" stroke="#7a7a7a" stroke-width="0.8"/><polygon points="268.2,356.2 268.2,351.3 270.9,348.4 270.9,353.3" fill="#546472"/><polygon points="260.6,351.3 263.3,348.4 270.9,348.4 268.2,351.3" fill="#5E6F7F" stroke="#8a8a8a" stroke-width="0.5"/><rect x="260.6" y="351.3" width="7.6" height="4.9" fill="#BCDFFF" stroke="#7a7a7a" stroke-width="0.8"/><polygon points="275.8,356.2 275.8,352.5 278.5,349.6 278.5,353.3" fill="#006672"/><polygon points="268.2,352.5 270.9,349.6 278.5,349.6 275.8,352.5" fill="#00727F" stroke="#8a8a8a" stroke-width="0.5"/><rect x="268.2" y="352.5" width="7.6" height="3.7" fill="#00E4FF" stroke="#7a7a7a" stroke-width="0.8"/><polygon points="283.4,356.2 283.4,353.1 286.1,350.2 286.1,353.3" fill="#004B66"/><polygon points="275.8,353.1 278.5,350.2 286.1,350.2 283.4,353.1" fill="#005472" stroke="#8a8a8a" stroke-width="0.5"/><rect x="275.8" y="353.1" width="7.6" height="3.1" fill="#00A8E4" stroke="#7a7a7a" stroke-width="0.8"/><polygon points="291.0,356.2 291.0,354.4 293.7,351.5 293.7,353.3" fill="#003272"/><polygon points="283.4,354.4 286.1,351.5 293.7,351.5 291.0,354.4" fill="#00387F" stroke="#8a8a8a" stroke-width="0.5"/><rect x="283.4" y="354.4" width="7.6" height="1.8" fill="#0070FF" stroke="#7a7a7a" stroke-width="0.8"/><polygon points="298.6,356.2 298.6,354.4 301.3,351.5 301.3,353.3" fill="#002464"/><polygon points="291.0,354.4 293.7,351.5 301.3,351.5 298.6,354.4" fill="#002870" stroke="#8a8a8a" stroke-width="0.5"/><rect x="291.0" y="354.4" width="7.6" height="1.8" fill="#0050E0" stroke="#7a7a7a" stroke-width="0.8"/><polygon points="306.2,356.2 306.2,355.2 308.9,352.3 308.9,353.3" fill="#727200"/><polygon points="298.6,355.2 301.3,352.3 308.9,352.3 306.2,355.2" fill="#8B8B3A" stroke="#8a8a8a" stroke-width="0.5"/><rect x="298.6" y="355.2" width="7.6" height="1.0" fill="#8B8B3A" stroke="#7a7a7a" stroke-width="0.8"/><polygon points="313.8,356.2 313.8,355.2 316.5,352.3 316.5,353.3" fill="#726300"/><polygon points="306.2,355.2 308.9,352.3 316.5,352.3 313.8,355.2" fill="#8B7D30" stroke="#8a8a8a" stroke-width="0.5"/><rect x="306.2" y="355.2" width="7.6" height="1.0" fill="#8B7D30" stroke="#7a7a7a" stroke-width="0.8"/><polygon points="321.4,356.2 321.4,355.2 324.1,352.3 324.1,353.3" fill="#725100"/><polygon points="313.8,355.2 316.5,352.3 324.1,352.3 321.4,355.2" fill="#B09040" stroke="#8a8a8a" stroke-width="0.5"/><rect x="313.8" y="355.2" width="7.6" height="1.0" fill="#B09040" stroke="#7a7a7a" stroke-width="0.8"/><polygon points="329.0,356.2 329.0,355.2 331.7,352.3 331.7,353.3" fill="#724000"/><polygon points="321.4,355.2 324.1,352.3 331.7,352.3 329.0,355.2" fill="#8B5A1A" stroke="#8a8a8a" stroke-width="0.5"/><rect x="321.4" y="355.2" width="7.6" height="1.0" fill="#8B5A1A" stroke="#7a7a7a" stroke-width="0.8"/><polygon points="336.6,356.2 336.6,355.2 339.3,352.3 339.3,353.3" fill="#723000"/><polygon points="329.0,355.2 331.7,352.3 339.3,352.3 336.6,355.2" fill="#8B4212" stroke="#8a8a8a" stroke-width="0.5"/><rect x="329.0" y="355.2" width="7.6" height="1.0" fill="#8B4212" stroke="#7a7a7a" stroke-width="0.8"/><polygon points="344.2,356.2 344.2,355.2 346.9,352.3 346.9,353.3" fill="#722000"/><polygon points="336.6,355.2 339.3,352.3 346.9,352.3 344.2,355.2" fill="#8B2C10" stroke="#8a8a8a" stroke-width="0.5"/><rect x="336.6" y="355.2" width="7.6" height="1.0" fill="#8B2C10" stroke="#7a7a7a" stroke-width="0.8"/><polygon points="351.8,356.2 351.8,355.2 354.5,352.3 354.5,353.3" fill="#721000"/><polygon points="344.2,355.2 346.9,352.3 354.5,352.3 351.8,355.2" fill="#9A1410" stroke="#8a8a8a" stroke-width="0.5"/><rect x="344.2" y="355.2" width="7.6" height="1.0" fill="#9A1410" stroke="#7a7a7a" stroke-width="0.8"/>
<polygon points="309.3,377.9 309.3,357.4 312.0,354.5 312.0,375.0" fill="#636363"/><polygon points="301.7,357.4 304.4,354.5 312.0,354.5 309.3,357.4" fill="#6E6E6E" stroke="#8a8a8a" stroke-width="0.5"/><rect x="301.7" y="357.4" width="7.6" height="20.5" fill="#DCDCDC" stroke="#7a7a7a" stroke-width="0.8"/><polygon points="316.9,377.9 316.9,365.8 319.6,362.9 319.6,375.0" fill="#65716A"/><polygon points="309.3,365.8 312.0,362.9 319.6,362.9 316.9,365.8" fill="#717E76" stroke="#8a8a8a" stroke-width="0.5"/><rect x="309.3" y="365.8" width="7.6" height="12.1" fill="#E2FCEC" stroke="#7a7a7a" stroke-width="0.8"/><polygon points="324.5,377.9 324.5,363.4 327.2,360.5 327.2,375.0" fill="#546472"/><polygon points="316.9,363.4 319.6,360.5 327.2,360.5 324.5,363.4" fill="#5E6F7F" stroke="#8a8a8a" stroke-width="0.5"/><rect x="316.9" y="363.4" width="7.6" height="14.5" fill="#BCDFFF" stroke="#7a7a7a" stroke-width="0.8"/><polygon points="332.1,377.9 332.1,362.2 334.8,359.3 334.8,375.0" fill="#006672"/><polygon points="324.5,362.2 327.2,359.3 334.8,359.3 332.1,362.2" fill="#00727F" stroke="#8a8a8a" stroke-width="0.5"/><rect x="324.5" y="362.2" width="7.6" height="15.7" fill="#00E4FF" stroke="#7a7a7a" stroke-width="0.8"/><polygon points="339.7,377.9 339.7,373.1 342.4,370.2 342.4,375.0" fill="#004B66"/><polygon points="332.1,373.1 334.8,370.2 342.4,370.2 339.7,373.1" fill="#005472" stroke="#8a8a8a" stroke-width="0.5"/><rect x="332.1" y="373.1" width="7.6" height="4.8" fill="#00A8E4" stroke="#7a7a7a" stroke-width="0.8"/><polygon points="347.3,377.9 347.3,373.7 350.0,370.8 350.0,375.0" fill="#003272"/><polygon points="339.7,373.7 342.4,370.8 350.0,370.8 347.3,373.7" fill="#00387F" stroke="#8a8a8a" stroke-width="0.5"/><rect x="339.7" y="373.7" width="7.6" height="4.2" fill="#0070FF" stroke="#7a7a7a" stroke-width="0.8"/><polygon points="354.9,377.9 354.9,375.5 357.6,372.6 357.6,375.0" fill="#002464"/><polygon points="347.3,375.5 350.0,372.6 357.6,372.6 354.9,375.5" fill="#002870" stroke="#8a8a8a" stroke-width="0.5"/><rect x="347.3" y="375.5" width="7.6" height="2.4" fill="#0050E0" stroke="#7a7a7a" stroke-width="0.8"/><polygon points="362.5,377.9 362.5,376.9 365.2,374.0 365.2,375.0" fill="#727200"/><polygon points="354.9,376.9 357.6,374.0 365.2,374.0 362.5,376.9" fill="#8B8B3A" stroke="#8a8a8a" stroke-width="0.5"/><rect x="354.9" y="376.9" width="7.6" height="1.0" fill="#8B8B3A" stroke="#7a7a7a" stroke-width="0.8"/><polygon points="370.1,377.9 370.1,376.9 372.8,374.0 372.8,375.0" fill="#726300"/><polygon points="362.5,376.9 365.2,374.0 372.8,374.0 370.1,376.9" fill="#8B7D30" stroke="#8a8a8a" stroke-width="0.5"/><rect x="362.5" y="376.9" width="7.6" height="1.0" fill="#8B7D30" stroke="#7a7a7a" stroke-width="0.8"/><polygon points="377.7,377.9 377.7,376.9 380.4,374.0 380.4,375.0" fill="#725100"/><polygon points="370.1,376.9 372.8,374.0 380.4,374.0 377.7,376.9" fill="#B09040" stroke="#8a8a8a" stroke-width="0.5"/><rect x="370.1" y="376.9" width="7.6" height="1.0" fill="#B09040" stroke="#7a7a7a" stroke-width="0.8"/><polygon points="385.3,377.9 385.3,376.9 388.0,374.0 388.0,375.0" fill="#724000"/><polygon points="377.7,376.9 380.4,374.0 388.0,374.0 385.3,376.9" fill="#8B5A1A" stroke="#8a8a8a" stroke-width="0.5"/><rect x="377.7" y="376.9" width="7.6" height="1.0" fill="#8B5A1A" stroke="#7a7a7a" stroke-width="0.8"/><polygon points="392.9,377.9 392.9,376.9 395.6,374.0 395.6,375.0" fill="#723000"/><polygon points="385.3,376.9 388.0,374.0 395.6,374.0 392.9,376.9" fill="#8B4212" stroke="#8a8a8a" stroke-width="0.5"/><rect x="385.3" y="376.9" width="7.6" height="1.0" fill="#8B4212" stroke="#7a7a7a" stroke-width="0.8"/><polygon points="400.5,377.9 400.5,376.9 403.2,374.0 403.2,375.0" fill="#722000"/><polygon points="392.9,376.9 395.6,374.0 403.2,374.0 400.5,376.9" fill="#8B2C10" stroke="#8a8a8a" stroke-width="0.5"/><rect x="392.9" y="376.9" width="7.6" height="1.0" fill="#8B2C10" stroke="#7a7a7a" stroke-width="0.8"/><polygon points="408.1,377.9 408.1,376.9 410.8,374.0 410.8,375.0" fill="#721000"/><polygon points="400.5,376.9 403.2,374.0 410.8,374.0 408.1,376.9" fill="#9A1410" stroke="#8a8a8a" stroke-width="0.5"/><rect x="400.5" y="376.9" width="7.6" height="1.0" fill="#9A1410" stroke="#7a7a7a" stroke-width="0.8"/>
<polygon points="422.1,381.3 422.1,353.3 424.8,350.4 424.8,378.4" fill="#636363"/><polygon points="414.5,353.3 417.2,350.4 424.8,350.4 422.1,353.3" fill="#6E6E6E" stroke="#8a8a8a" stroke-width="0.5"/><rect x="414.5" y="353.3" width="7.6" height="28.0" fill="#DCDCDC" stroke="#7a7a7a" stroke-width="0.8"/><polygon points="429.7,381.3 429.7,356.3 432.4,353.4 432.4,378.4" fill="#65716A"/><polygon points="422.1,356.3 424.8,353.4 432.4,353.4 429.7,356.3" fill="#717E76" stroke="#8a8a8a" stroke-width="0.5"/><rect x="422.1" y="356.3" width="7.6" height="25.0" fill="#E2FCEC" stroke="#7a7a7a" stroke-width="0.8"/><polygon points="437.3,381.3 437.3,348.4 440.0,345.5 440.0,378.4" fill="#546472"/><polygon points="429.7,348.4 432.4,345.5 440.0,345.5 437.3,348.4" fill="#5E6F7F" stroke="#8a8a8a" stroke-width="0.5"/><rect x="429.7" y="348.4" width="7.6" height="32.9" fill="#BCDFFF" stroke="#7a7a7a" stroke-width="0.8"/><polygon points="444.9,381.3 444.9,358.3 447.6,355.4 447.6,378.4" fill="#006672"/><polygon points="437.3,358.3 440.0,355.4 447.6,355.4 444.9,358.3" fill="#00727F" stroke="#8a8a8a" stroke-width="0.5"/><rect x="437.3" y="358.3" width="7.6" height="23.0" fill="#00E4FF" stroke="#7a7a7a" stroke-width="0.8"/><polygon points="452.5,381.3 452.5,370.4 455.2,367.5 455.2,378.4" fill="#004B66"/><polygon points="444.9,370.4 447.6,367.5 455.2,367.5 452.5,370.4" fill="#005472" stroke="#8a8a8a" stroke-width="0.5"/><rect x="444.9" y="370.4" width="7.6" height="10.9" fill="#00A8E4" stroke="#7a7a7a" stroke-width="0.8"/><polygon points="460.1,381.3 460.1,375.1 462.8,372.2 462.8,378.4" fill="#003272"/><polygon points="452.5,375.1 455.2,372.2 462.8,372.2 460.1,375.1" fill="#00387F" stroke="#8a8a8a" stroke-width="0.5"/><rect x="452.5" y="375.1" width="7.6" height="6.2" fill="#0070FF" stroke="#7a7a7a" stroke-width="0.8"/><polygon points="467.7,381.3 467.7,379.2 470.4,376.3 470.4,378.4" fill="#002464"/><polygon points="460.1,379.2 462.8,376.3 470.4,376.3 467.7,379.2" fill="#002870" stroke="#8a8a8a" stroke-width="0.5"/><rect x="460.1" y="379.2" width="7.6" height="2.1" fill="#0050E0" stroke="#7a7a7a" stroke-width="0.8"/><polygon points="475.3,381.3 475.3,379.8 478.0,376.9 478.0,378.4" fill="#727200"/><polygon points="467.7,379.8 470.4,376.9 478.0,376.9 475.3,379.8" fill="#8B8B3A" stroke="#8a8a8a" stroke-width="0.5"/><rect x="467.7" y="379.8" width="7.6" height="1.5" fill="#8B8B3A" stroke="#7a7a7a" stroke-width="0.8"/><polygon points="482.9,381.3 482.9,379.8 485.6,376.9 485.6,378.4" fill="#726300"/><polygon points="475.3,379.8 478.0,376.9 485.6,376.9 482.9,379.8" fill="#8B7D30" stroke="#8a8a8a" stroke-width="0.5"/><rect x="475.3" y="379.8" width="7.6" height="1.5" fill="#8B7D30" stroke="#7a7a7a" stroke-width="0.8"/><polygon points="490.5,381.3 490.5,379.8 493.2,376.9 493.2,378.4" fill="#725100"/><polygon points="482.9,379.8 485.6,376.9 493.2,376.9 490.5,379.8" fill="#B09040" stroke="#8a8a8a" stroke-width="0.5"/><rect x="482.9" y="379.8" width="7.6" height="1.5" fill="#B09040" stroke="#7a7a7a" stroke-width="0.8"/><polygon points="498.1,381.3 498.1,379.8 500.8,376.9 500.8,378.4" fill="#724000"/><polygon points="490.5,379.8 493.2,376.9 500.8,376.9 498.1,379.8" fill="#8B5A1A" stroke="#8a8a8a" stroke-width="0.5"/><rect x="490.5" y="379.8" width="7.6" height="1.5" fill="#8B5A1A" stroke="#7a7a7a" stroke-width="0.8"/><polygon points="505.7,381.3 505.7,379.8 508.4,376.9 508.4,378.4" fill="#723000"/><polygon points="498.1,379.8 500.8,376.9 508.4,376.9 505.7,379.8" fill="#8B4212" stroke="#8a8a8a" stroke-width="0.5"/><rect x="498.1" y="379.8" width="7.6" height="1.5" fill="#8B4212" stroke="#7a7a7a" stroke-width="0.8"/><polygon points="513.3,381.3 513.3,379.8 516.0,376.9 516.0,378.4" fill="#722000"/><polygon points="505.7,379.8 508.4,376.9 516.0,376.9 513.3,379.8" fill="#8B2C10" stroke="#8a8a8a" stroke-width="0.5"/><rect x="505.7" y="379.8" width="7.6" height="1.5" fill="#8B2C10" stroke="#7a7a7a" stroke-width="0.8"/><polygon points="520.9,381.3 520.9,379.8 523.6,376.9 523.6,378.4" fill="#721000"/><polygon points="513.3,379.8 516.0,376.9 523.6,376.9 520.9,379.8" fill="#9A1410" stroke="#8a8a8a" stroke-width="0.5"/><rect x="513.3" y="379.8" width="7.6" height="1.5" fill="#9A1410" stroke="#7a7a7a" stroke-width="0.8"/>
<polygon points="109.9,380.6 109.9,348.3 112.6,345.4 112.6,377.7" fill="#636363"/><polygon points="102.3,348.3 105.0,345.4 112.6,345.4 109.9,348.3" fill="#6E6E6E" stroke="#8a8a8a" stroke-width="0.5"/><rect x="102.3" y="348.3" width="7.6" height="32.3" fill="#DCDCDC" stroke="#7a7a7a" stroke-width="0.8"/><polygon points="117.5,380.6 117.5,361.6 120.2,358.7 120.2,377.7" fill="#65716A"/><polygon points="109.9,361.6 112.6,358.7 120.2,358.7 117.5,361.6" fill="#717E76" stroke="#8a8a8a" stroke-width="0.5"/><rect x="109.9" y="361.6" width="7.6" height="19.0" fill="#E2FCEC" stroke="#7a7a7a" stroke-width="0.8"/><polygon points="125.1,380.6 125.1,361.6 127.8,358.7 127.8,377.7" fill="#546472"/><polygon points="117.5,361.6 120.2,358.7 127.8,358.7 125.1,361.6" fill="#5E6F7F" stroke="#8a8a8a" stroke-width="0.5"/><rect x="117.5" y="361.6" width="7.6" height="19.0" fill="#BCDFFF" stroke="#7a7a7a" stroke-width="0.8"/><polygon points="132.7,380.6 132.7,362.4 135.4,359.5 135.4,377.7" fill="#006672"/><polygon points="125.1,362.4 127.8,359.5 135.4,359.5 132.7,362.4" fill="#00727F" stroke="#8a8a8a" stroke-width="0.5"/><rect x="125.1" y="362.4" width="7.6" height="18.2" fill="#00E4FF" stroke="#7a7a7a" stroke-width="0.8"/><polygon points="140.3,380.6 140.3,368.9 143.0,366.0 143.0,377.7" fill="#004B66"/><polygon points="132.7,368.9 135.4,366.0 143.0,366.0 140.3,368.9" fill="#005472" stroke="#8a8a8a" stroke-width="0.5"/><rect x="132.7" y="368.9" width="7.6" height="11.7" fill="#00A8E4" stroke="#7a7a7a" stroke-width="0.8"/><polygon points="147.9,380.6 147.9,378.5 150.6,375.6 150.6,377.7" fill="#003272"/><polygon points="140.3,378.5 143.0,375.6 150.6,375.6 147.9,378.5" fill="#00387F" stroke="#8a8a8a" stroke-width="0.5"/><rect x="140.3" y="378.5" width="7.6" height="2.1" fill="#0070FF" stroke="#7a7a7a" stroke-width="0.8"/><polygon points="155.5,380.6 155.5,379.0 158.2,376.1 158.2,377.7" fill="#002464"/><polygon points="147.9,379.0 150.6,376.1 158.2,376.1 155.5,379.0" fill="#002870" stroke="#8a8a8a" stroke-width="0.5"/><rect x="147.9" y="379.0" width="7.6" height="1.6" fill="#0050E0" stroke="#7a7a7a" stroke-width="0.8"/><polygon points="163.1,380.6 163.1,379.6 165.8,376.7 165.8,377.7" fill="#727200"/><polygon points="155.5,379.6 158.2,376.7 165.8,376.7 163.1,379.6" fill="#8B8B3A" stroke="#8a8a8a" stroke-width="0.5"/><rect x="155.5" y="379.6" width="7.6" height="1.0" fill="#8B8B3A" stroke="#7a7a7a" stroke-width="0.8"/><polygon points="170.7,380.6 170.7,379.6 173.4,376.7 173.4,377.7" fill="#726300"/><polygon points="163.1,379.6 165.8,376.7 173.4,376.7 170.7,379.6" fill="#8B7D30" stroke="#8a8a8a" stroke-width="0.5"/><rect x="163.1" y="379.6" width="7.6" height="1.0" fill="#8B7D30" stroke="#7a7a7a" stroke-width="0.8"/><polygon points="178.3,380.6 178.3,379.6 181.0,376.7 181.0,377.7" fill="#725100"/><polygon points="170.7,379.6 173.4,376.7 181.0,376.7 178.3,379.6" fill="#B09040" stroke="#8a8a8a" stroke-width="0.5"/><rect x="170.7" y="379.6" width="7.6" height="1.0" fill="#B09040" stroke="#7a7a7a" stroke-width="0.8"/><polygon points="185.9,380.6 185.9,379.6 188.6,376.7 188.6,377.7" fill="#724000"/><polygon points="178.3,379.6 181.0,376.7 188.6,376.7 185.9,379.6" fill="#8B5A1A" stroke="#8a8a8a" stroke-width="0.5"/><rect x="178.3" y="379.6" width="7.6" height="1.0" fill="#8B5A1A" stroke="#7a7a7a" stroke-width="0.8"/><polygon points="193.5,380.6 193.5,379.6 196.2,376.7 196.2,377.7" fill="#723000"/><polygon points="185.9,379.6 188.6,376.7 196.2,376.7 193.5,379.6" fill="#8B4212" stroke="#8a8a8a" stroke-width="0.5"/><rect x="185.9" y="379.6" width="7.6" height="1.0" fill="#8B4212" stroke="#7a7a7a" stroke-width="0.8"/><polygon points="201.1,380.6 201.1,379.6 203.8,376.7 203.8,377.7" fill="#722000"/><polygon points="193.5,379.6 196.2,376.7 203.8,376.7 201.1,379.6" fill="#8B2C10" stroke="#8a8a8a" stroke-width="0.5"/><rect x="193.5" y="379.6" width="7.6" height="1.0" fill="#8B2C10" stroke="#7a7a7a" stroke-width="0.8"/><polygon points="208.7,380.6 208.7,379.6 211.4,376.7 211.4,377.7" fill="#721000"/><polygon points="201.1,379.6 203.8,376.7 211.4,376.7 208.7,379.6" fill="#9A1410" stroke="#8a8a8a" stroke-width="0.5"/><rect x="201.1" y="379.6" width="7.6" height="1.0" fill="#9A1410" stroke="#7a7a7a" stroke-width="0.8"/>
<polygon points="288.1,439.0 288.1,430.6 290.8,427.7 290.8,436.1" fill="#636363"/><polygon points="280.5,430.6 283.2,427.7 290.8,427.7 288.1,430.6" fill="#6E6E6E" stroke="#8a8a8a" stroke-width="0.5"/><rect x="280.5" y="430.6" width="7.6" height="8.4" fill="#DCDCDC" stroke="#7a7a7a" stroke-width="0.8"/><polygon points="295.7,439.0 295.7,435.4 298.4,432.5 298.4,436.1" fill="#65716A"/><polygon points="288.1,435.4 290.8,432.5 298.4,432.5 295.7,435.4" fill="#717E76" stroke="#8a8a8a" stroke-width="0.5"/><rect x="288.1" y="435.4" width="7.6" height="3.6" fill="#E2FCEC" stroke="#7a7a7a" stroke-width="0.8"/><polygon points="303.3,439.0 303.3,434.8 306.0,431.9 306.0,436.1" fill="#546472"/><polygon points="295.7,434.8 298.4,431.9 306.0,431.9 303.3,434.8" fill="#5E6F7F" stroke="#8a8a8a" stroke-width="0.5"/><rect x="295.7" y="434.8" width="7.6" height="4.2" fill="#BCDFFF" stroke="#7a7a7a" stroke-width="0.8"/><polygon points="310.9,439.0 310.9,434.2 313.6,431.3 313.6,436.1" fill="#006672"/><polygon points="303.3,434.2 306.0,431.3 313.6,431.3 310.9,434.2" fill="#00727F" stroke="#8a8a8a" stroke-width="0.5"/><rect x="303.3" y="434.2" width="7.6" height="4.8" fill="#00E4FF" stroke="#7a7a7a" stroke-width="0.8"/><polygon points="318.5,439.0 318.5,434.2 321.2,431.3 321.2,436.1" fill="#004B66"/><polygon points="310.9,434.2 313.6,431.3 321.2,431.3 318.5,434.2" fill="#005472" stroke="#8a8a8a" stroke-width="0.5"/><rect x="310.9" y="434.2" width="7.6" height="4.8" fill="#00A8E4" stroke="#7a7a7a" stroke-width="0.8"/><polygon points="326.1,439.0 326.1,436.6 328.8,433.7 328.8,436.1" fill="#003272"/><polygon points="318.5,436.6 321.2,433.7 328.8,433.7 326.1,436.6" fill="#00387F" stroke="#8a8a8a" stroke-width="0.5"/><rect x="318.5" y="436.6" width="7.6" height="2.4" fill="#0070FF" stroke="#7a7a7a" stroke-width="0.8"/><polygon points="333.7,439.0 333.7,437.2 336.4,434.3 336.4,436.1" fill="#002464"/><polygon points="326.1,437.2 328.8,434.3 336.4,434.3 333.7,437.2" fill="#002870" stroke="#8a8a8a" stroke-width="0.5"/><rect x="326.1" y="437.2" width="7.6" height="1.8" fill="#0050E0" stroke="#7a7a7a" stroke-width="0.8"/><polygon points="341.3,439.0 341.3,438.0 344.0,435.1 344.0,436.1" fill="#727200"/><polygon points="333.7,438.0 336.4,435.1 344.0,435.1 341.3,438.0" fill="#8B8B3A" stroke="#8a8a8a" stroke-width="0.5"/><rect x="333.7" y="438.0" width="7.6" height="1.0" fill="#8B8B3A" stroke="#7a7a7a" stroke-width="0.8"/><polygon points="348.9,439.0 348.9,438.0 351.6,435.1 351.6,436.1" fill="#726300"/><polygon points="341.3,438.0 344.0,435.1 351.6,435.1 348.9,438.0" fill="#8B7D30" stroke="#8a8a8a" stroke-width="0.5"/><rect x="341.3" y="438.0" width="7.6" height="1.0" fill="#8B7D30" stroke="#7a7a7a" stroke-width="0.8"/><polygon points="356.5,439.0 356.5,438.0 359.2,435.1 359.2,436.1" fill="#725100"/><polygon points="348.9,438.0 351.6,435.1 359.2,435.1 356.5,438.0" fill="#B09040" stroke="#8a8a8a" stroke-width="0.5"/><rect x="348.9" y="438.0" width="7.6" height="1.0" fill="#B09040" stroke="#7a7a7a" stroke-width="0.8"/><polygon points="364.1,439.0 364.1,438.0 366.8,435.1 366.8,436.1" fill="#724000"/><polygon points="356.5,438.0 359.2,435.1 366.8,435.1 364.1,438.0" fill="#8B5A1A" stroke="#8a8a8a" stroke-width="0.5"/><rect x="356.5" y="438.0" width="7.6" height="1.0" fill="#8B5A1A" stroke="#7a7a7a" stroke-width="0.8"/><polygon points="371.7,439.0 371.7,438.0 374.4,435.1 374.4,436.1" fill="#723000"/><polygon points="364.1,438.0 366.8,435.1 374.4,435.1 371.7,438.0" fill="#8B4212" stroke="#8a8a8a" stroke-width="0.5"/><rect x="364.1" y="438.0" width="7.6" height="1.0" fill="#8B4212" stroke="#7a7a7a" stroke-width="0.8"/><polygon points="379.3,439.0 379.3,438.0 382.0,435.1 382.0,436.1" fill="#722000"/><polygon points="371.7,438.0 374.4,435.1 382.0,435.1 379.3,438.0" fill="#8B2C10" stroke="#8a8a8a" stroke-width="0.5"/><rect x="371.7" y="438.0" width="7.6" height="1.0" fill="#8B2C10" stroke="#7a7a7a" stroke-width="0.8"/><polygon points="386.9,439.0 386.9,438.0 389.6,435.1 389.6,436.1" fill="#721000"/><polygon points="379.3,438.0 382.0,435.1 389.6,435.1 386.9,438.0" fill="#9A1410" stroke="#8a8a8a" stroke-width="0.5"/><rect x="379.3" y="438.0" width="7.6" height="1.0" fill="#9A1410" stroke="#7a7a7a" stroke-width="0.8"/>
<polygon points="242.7,663.4 242.7,628.3 246.0,625.3 246.0,660.4" fill="#5A5A5A"/><polygon points="235.3,628.3 238.6,625.3 246.0,625.3 242.7,628.3" fill="#646464"/><rect x="235.3" y="628.3" width="7.4" height="35.1" fill="#C8C8C8" stroke="#7a7a7a" stroke-width="0.8"/><polygon points="250.1,663.4 250.1,626.8 253.4,623.8 253.4,660.4" fill="#725D39"/><polygon points="242.7,626.8 246.0,623.8 253.4,623.8 250.1,626.8" fill="#7F6840"/><rect x="242.7" y="626.8" width="7.4" height="36.6" fill="#FFD080" stroke="#7a7a7a" stroke-width="0.8"/><polygon points="257.5,663.4 257.5,658.0 260.8,655.0 260.8,660.4" fill="#725656"/><polygon points="250.1,658.0 253.4,655.0 260.8,655.0 257.5,658.0" fill="#7F6060"/><rect x="250.1" y="658.0" width="7.4" height="5.4" fill="#FFC0C0" stroke="#7a7a7a" stroke-width="0.8"/><polygon points="264.9,663.4 264.9,662.2 268.2,659.2 268.2,660.4" fill="#723939"/><polygon points="257.5,662.2 260.8,659.2 268.2,659.2 264.9,662.2" fill="#7F4040"/><rect x="257.5" y="662.2" width="7.4" height="1.2" fill="#FF8080" stroke="#7a7a7a" stroke-width="0.8"/><polygon points="272.3,663.4 272.3,662.4 275.6,659.4 275.6,660.4" fill="#720000"/><polygon points="264.9,662.4 268.2,659.4 275.6,659.4 272.3,662.4" fill="#7F0000"/><rect x="264.9" y="662.4" width="7.4" height="1.0" fill="#FF0000" stroke="#7a7a7a" stroke-width="0.8"/><polygon points="279.7,663.4 279.7,662.4 283.0,659.4 283.0,660.4" fill="#640000"/><polygon points="272.3,662.4 275.6,659.4 283.0,659.4 279.7,662.4" fill="#700000"/><rect x="272.3" y="662.4" width="7.4" height="1.0" fill="#E00000" stroke="#7a7a7a" stroke-width="0.8"/>
<polygon points="211.9,708.2 211.9,700.2 215.2,697.2 215.2,705.2" fill="#5A5A5A"/><polygon points="204.5,700.2 207.8,697.2 215.2,697.2 211.9,700.2" fill="#646464"/><rect x="204.5" y="700.2" width="7.4" height="8.0" fill="#C8C8C8" stroke="#7a7a7a" stroke-width="0.8"/><polygon points="219.3,708.2 219.3,698.5 222.6,695.5 222.6,705.2" fill="#725D39"/><polygon points="211.9,698.5 215.2,695.5 222.6,695.5 219.3,698.5" fill="#7F6840"/><rect x="211.9" y="698.5" width="7.4" height="9.7" fill="#FFD080" stroke="#7a7a7a" stroke-width="0.8"/><polygon points="226.7,708.2 226.7,705.9 230.0,702.9 230.0,705.2" fill="#725656"/><polygon points="219.3,705.9 222.6,702.9 230.0,702.9 226.7,705.9" fill="#7F6060"/><rect x="219.3" y="705.9" width="7.4" height="2.3" fill="#FFC0C0" stroke="#7a7a7a" stroke-width="0.8"/><polygon points="234.1,708.2 234.1,707.2 237.4,704.2 237.4,705.2" fill="#723939"/><polygon points="226.7,707.2 230.0,704.2 237.4,704.2 234.1,707.2" fill="#7F4040"/><rect x="226.7" y="707.2" width="7.4" height="1.0" fill="#FF8080" stroke="#7a7a7a" stroke-width="0.8"/><polygon points="241.5,708.2 241.5,707.2 244.8,704.2 244.8,705.2" fill="#720000"/><polygon points="234.1,707.2 237.4,704.2 244.8,704.2 241.5,707.2" fill="#7F0000"/><rect x="234.1" y="707.2" width="7.4" height="1.0" fill="#FF0000" stroke="#7a7a7a" stroke-width="0.8"/><polygon points="248.9,708.2 248.9,707.2 252.2,704.2 252.2,705.2" fill="#640000"/><polygon points="241.5,707.2 244.8,704.2 252.2,704.2 248.9,707.2" fill="#700000"/><rect x="241.5" y="707.2" width="7.4" height="1.0" fill="#E00000" stroke="#7a7a7a" stroke-width="0.8"/>
<polygon points="187.6,755.3 187.6,748.4 190.9,745.4 190.9,752.3" fill="#5A5A5A"/><polygon points="180.2,748.4 183.5,745.4 190.9,745.4 187.6,748.4" fill="#646464"/><rect x="180.2" y="748.4" width="7.4" height="6.9" fill="#C8C8C8" stroke="#7a7a7a" stroke-width="0.8"/><polygon points="195.0,755.3 195.0,744.4 198.3,741.4 198.3,752.3" fill="#725D39"/><polygon points="187.6,744.4 190.9,741.4 198.3,741.4 195.0,744.4" fill="#7F6840"/><rect x="187.6" y="744.4" width="7.4" height="10.9" fill="#FFD080" stroke="#7a7a7a" stroke-width="0.8"/><polygon points="202.4,755.3 202.4,753.7 205.7,750.7 205.7,752.3" fill="#725656"/><polygon points="195.0,753.7 198.3,750.7 205.7,750.7 202.4,753.7" fill="#7F6060"/><rect x="195.0" y="753.7" width="7.4" height="1.6" fill="#FFC0C0" stroke="#7a7a7a" stroke-width="0.8"/><polygon points="209.8,755.3 209.8,754.3 213.1,751.3 213.1,752.3" fill="#723939"/><polygon points="202.4,754.3 205.7,751.3 213.1,751.3 209.8,754.3" fill="#7F4040"/><rect x="202.4" y="754.3" width="7.4" height="1.0" fill="#FF8080" stroke="#7a7a7a" stroke-width="0.8"/><polygon points="217.2,755.3 217.2,754.3 220.5,751.3 220.5,752.3" fill="#720000"/><polygon points="209.8,754.3 213.1,751.3 220.5,751.3 217.2,754.3" fill="#7F0000"/><rect x="209.8" y="754.3" width="7.4" height="1.0" fill="#FF0000" stroke="#7a7a7a" stroke-width="0.8"/><polygon points="224.6,755.3 224.6,754.3 227.9,751.3 227.9,752.3" fill="#640000"/><polygon points="217.2,754.3 220.5,751.3 227.9,751.3 224.6,754.3" fill="#700000"/><rect x="217.2" y="754.3" width="7.4" height="1.0" fill="#E00000" stroke="#7a7a7a" stroke-width="0.8"/>
<polygon points="274.8,736.4 274.8,723.8 278.1,720.8 278.1,733.4" fill="#5A5A5A"/><polygon points="267.4,723.8 270.7,720.8 278.1,720.8 274.8,723.8" fill="#646464"/><rect x="267.4" y="723.8" width="7.4" height="12.6" fill="#C8C8C8" stroke="#7a7a7a" stroke-width="0.8"/><polygon points="282.2,736.4 282.2,713.2 285.5,710.2 285.5,733.4" fill="#725D39"/><polygon points="274.8,713.2 278.1,710.2 285.5,710.2 282.2,713.2" fill="#7F6840"/><rect x="274.8" y="713.2" width="7.4" height="23.2" fill="#FFD080" stroke="#7a7a7a" stroke-width="0.8"/><polygon points="289.6,736.4 289.6,733.8 292.9,730.8 292.9,733.4" fill="#725656"/><polygon points="282.2,733.8 285.5,730.8 292.9,730.8 289.6,733.8" fill="#7F6060"/><rect x="282.2" y="733.8" width="7.4" height="2.6" fill="#FFC0C0" stroke="#7a7a7a" stroke-width="0.8"/><polygon points="297.0,736.4 297.0,735.4 300.3,732.4 300.3,733.4" fill="#723939"/><polygon points="289.6,735.4 292.9,732.4 300.3,732.4 297.0,735.4" fill="#7F4040"/><rect x="289.6" y="735.4" width="7.4" height="1.0" fill="#FF8080" stroke="#7a7a7a" stroke-width="0.8"/><polygon points="304.4,736.4 304.4,735.4 307.7,732.4 307.7,733.4" fill="#720000"/><polygon points="297.0,735.4 300.3,732.4 307.7,732.4 304.4,735.4" fill="#7F0000"/><rect x="297.0" y="735.4" width="7.4" height="1.0" fill="#FF0000" stroke="#7a7a7a" stroke-width="0.8"/><polygon points="311.8,736.4 311.8,735.4 315.1,732.4 315.1,733.4" fill="#640000"/><polygon points="304.4,735.4 307.7,732.4 315.1,732.4 311.8,735.4" fill="#700000"/><rect x="304.4" y="735.4" width="7.4" height="1.0" fill="#E00000" stroke="#7a7a7a" stroke-width="0.8"/>
<polygon points="292.8,776.3 292.8,741.8 296.1,738.8 296.1,773.3" fill="#5A5A5A"/><polygon points="285.4,741.8 288.7,738.8 296.1,738.8 292.8,741.8" fill="#646464"/><rect x="285.4" y="741.8" width="7.4" height="34.5" fill="#C8C8C8" stroke="#7a7a7a" stroke-width="0.8"/><polygon points="300.2,776.3 300.2,736.4 303.5,733.4 303.5,773.3" fill="#725D39"/><polygon points="292.8,736.4 296.1,733.4 303.5,733.4 300.2,736.4" fill="#7F6840"/><rect x="292.8" y="736.4" width="7.4" height="39.9" fill="#FFD080" stroke="#7a7a7a" stroke-width="0.8"/><polygon points="307.6,776.3 307.6,771.0 310.9,768.0 310.9,773.3" fill="#725656"/><polygon points="300.2,771.0 303.5,768.0 310.9,768.0 307.6,771.0" fill="#7F6060"/><rect x="300.2" y="771.0" width="7.4" height="5.3" fill="#FFC0C0" stroke="#7a7a7a" stroke-width="0.8"/><polygon points="315.0,776.3 315.0,775.1 318.3,772.1 318.3,773.3" fill="#723939"/><polygon points="307.6,775.1 310.9,772.1 318.3,772.1 315.0,775.1" fill="#7F4040"/><rect x="307.6" y="775.1" width="7.4" height="1.2" fill="#FF8080" stroke="#7a7a7a" stroke-width="0.8"/><polygon points="322.4,776.3 322.4,775.3 325.7,772.3 325.7,773.3" fill="#720000"/><polygon points="315.0,775.3 318.3,772.3 325.7,772.3 322.4,775.3" fill="#7F0000"/><rect x="315.0" y="775.3" width="7.4" height="1.0" fill="#FF0000" stroke="#7a7a7a" stroke-width="0.8"/><polygon points="329.8,776.3 329.8,775.3 333.1,772.3 333.1,773.3" fill="#640000"/><polygon points="322.4,775.3 325.7,772.3 333.1,772.3 329.8,775.3" fill="#700000"/><rect x="322.4" y="775.3" width="7.4" height="1.0" fill="#E00000" stroke="#7a7a7a" stroke-width="0.8"/>
<polygon points="346.0,707.0 346.0,692.6 349.3,689.6 349.3,704.0" fill="#5A5A5A"/><polygon points="338.6,692.6 341.9,689.6 349.3,689.6 346.0,692.6" fill="#646464"/><rect x="338.6" y="692.6" width="7.4" height="14.4" fill="#C8C8C8" stroke="#7a7a7a" stroke-width="0.8"/><polygon points="353.4,707.0 353.4,692.6 356.7,689.6 356.7,704.0" fill="#725D39"/><polygon points="346.0,692.6 349.3,689.6 356.7,689.6 353.4,692.6" fill="#7F6840"/><rect x="346.0" y="692.6" width="7.4" height="14.4" fill="#FFD080" stroke="#7a7a7a" stroke-width="0.8"/><polygon points="360.8,707.0 360.8,704.9 364.1,701.9 364.1,704.0" fill="#725656"/><polygon points="353.4,704.9 356.7,701.9 364.1,701.9 360.8,704.9" fill="#7F6060"/><rect x="353.4" y="704.9" width="7.4" height="2.1" fill="#FFC0C0" stroke="#7a7a7a" stroke-width="0.8"/><polygon points="368.2,707.0 368.2,706.0 371.5,703.0 371.5,704.0" fill="#723939"/><polygon points="360.8,706.0 364.1,703.0 371.5,703.0 368.2,706.0" fill="#7F4040"/><rect x="360.8" y="706.0" width="7.4" height="1.0" fill="#FF8080" stroke="#7a7a7a" stroke-width="0.8"/><polygon points="375.6,707.0 375.6,706.0 378.9,703.0 378.9,704.0" fill="#720000"/><polygon points="368.2,706.0 371.5,703.0 378.9,703.0 375.6,706.0" fill="#7F0000"/><rect x="368.2" y="706.0" width="7.4" height="1.0" fill="#FF0000" stroke="#7a7a7a" stroke-width="0.8"/><polygon points="383.0,707.0 383.0,706.0 386.3,703.0 386.3,704.0" fill="#640000"/><polygon points="375.6,706.0 378.9,703.0 386.3,703.0 383.0,706.0" fill="#700000"/><rect x="375.6" y="706.0" width="7.4" height="1.0" fill="#E00000" stroke="#7a7a7a" stroke-width="0.8"/>
<polygon points="346.0,758.4 346.0,737.0 349.3,734.0 349.3,755.4" fill="#5A5A5A"/><polygon points="338.6,737.0 341.9,734.0 349.3,734.0 346.0,737.0" fill="#646464"/><rect x="338.6" y="737.0" width="7.4" height="21.4" fill="#C8C8C8" stroke="#7a7a7a" stroke-width="0.8"/><polygon points="353.4,758.4 353.4,743.2 356.7,740.2 356.7,755.4" fill="#725D39"/><polygon points="346.0,743.2 349.3,740.2 356.7,740.2 353.4,743.2" fill="#7F6840"/><rect x="346.0" y="743.2" width="7.4" height="15.2" fill="#FFD080" stroke="#7a7a7a" stroke-width="0.8"/><polygon points="360.8,758.4 360.8,756.8 364.1,753.8 364.1,755.4" fill="#725656"/><polygon points="353.4,756.8 356.7,753.8 364.1,753.8 360.8,756.8" fill="#7F6060"/><rect x="353.4" y="756.8" width="7.4" height="1.6" fill="#FFC0C0" stroke="#7a7a7a" stroke-width="0.8"/><polygon points="368.2,758.4 368.2,757.4 371.5,754.4 371.5,755.4" fill="#723939"/><polygon points="360.8,757.4 364.1,754.4 371.5,754.4 368.2,757.4" fill="#7F4040"/><rect x="360.8" y="757.4" width="7.4" height="1.0" fill="#FF8080" stroke="#7a7a7a" stroke-width="0.8"/><polygon points="375.6,758.4 375.6,757.4 378.9,754.4 378.9,755.4" fill="#720000"/><polygon points="368.2,757.4 371.5,754.4 378.9,754.4 375.6,757.4" fill="#7F0000"/><rect x="368.2" y="757.4" width="7.4" height="1.0" fill="#FF0000" stroke="#7a7a7a" stroke-width="0.8"/><polygon points="383.0,758.4 383.0,757.4 386.3,754.4 386.3,755.4" fill="#640000"/><polygon points="375.6,757.4 378.9,754.4 386.3,754.4 383.0,757.4" fill="#700000"/><rect x="375.6" y="757.4" width="7.4" height="1.0" fill="#E00000" stroke="#7a7a7a" stroke-width="0.8"/>
<polygon points="408.4,681.9 408.4,665.4 411.7,662.4 411.7,678.9" fill="#5A5A5A"/><polygon points="401.0,665.4 404.3,662.4 411.7,662.4 408.4,665.4" fill="#646464"/><rect x="401.0" y="665.4" width="7.4" height="16.5" fill="#C8C8C8" stroke="#7a7a7a" stroke-width="0.8"/><polygon points="415.8,681.9 415.8,664.8 419.1,661.8 419.1,678.9" fill="#725D39"/><polygon points="408.4,664.8 411.7,661.8 419.1,661.8 415.8,664.8" fill="#7F6840"/><rect x="408.4" y="664.8" width="7.4" height="17.1" fill="#FFD080" stroke="#7a7a7a" stroke-width="0.8"/><polygon points="423.2,681.9 423.2,679.0 426.5,676.0 426.5,678.9" fill="#725656"/><polygon points="415.8,679.0 419.1,676.0 426.5,676.0 423.2,679.0" fill="#7F6060"/><rect x="415.8" y="679.0" width="7.4" height="2.9" fill="#FFC0C0" stroke="#7a7a7a" stroke-width="0.8"/><polygon points="430.6,681.9 430.6,680.7 433.9,677.7 433.9,678.9" fill="#723939"/><polygon points="423.2,680.7 426.5,677.7 433.9,677.7 430.6,680.7" fill="#7F4040"/><rect x="423.2" y="680.7" width="7.4" height="1.2" fill="#FF8080" stroke="#7a7a7a" stroke-width="0.8"/><polygon points="438.0,681.9 438.0,680.9 441.3,677.9 441.3,678.9" fill="#720000"/><polygon points="430.6,680.9 433.9,677.9 441.3,677.9 438.0,680.9" fill="#7F0000"/><rect x="430.6" y="680.9" width="7.4" height="1.0" fill="#FF0000" stroke="#7a7a7a" stroke-width="0.8"/><polygon points="445.4,681.9 445.4,680.9 448.7,677.9 448.7,678.9" fill="#640000"/><polygon points="438.0,680.9 441.3,677.9 448.7,677.9 445.4,680.9" fill="#700000"/><rect x="438.0" y="680.9" width="7.4" height="1.0" fill="#E00000" stroke="#7a7a7a" stroke-width="0.8"/>
<polygon points="436.2,714.8 436.2,683.3 439.5,680.3 439.5,711.8" fill="#5A5A5A"/><polygon points="428.8,683.3 432.1,680.3 439.5,680.3 436.2,683.3" fill="#646464"/><rect x="428.8" y="683.3" width="7.4" height="31.5" fill="#C8C8C8" stroke="#7a7a7a" stroke-width="0.8"/><polygon points="443.6,714.8 443.6,685.8 446.9,682.8 446.9,711.8" fill="#725D39"/><polygon points="436.2,685.8 439.5,682.8 446.9,682.8 443.6,685.8" fill="#7F6840"/><rect x="436.2" y="685.8" width="7.4" height="29.0" fill="#FFD080" stroke="#7a7a7a" stroke-width="0.8"/><polygon points="451.0,714.8 451.0,709.3 454.3,706.3 454.3,711.8" fill="#725656"/><polygon points="443.6,709.3 446.9,706.3 454.3,706.3 451.0,709.3" fill="#7F6060"/><rect x="443.6" y="709.3" width="7.4" height="5.5" fill="#FFC0C0" stroke="#7a7a7a" stroke-width="0.8"/><polygon points="458.4,714.8 458.4,713.6 461.7,710.6 461.7,711.8" fill="#723939"/><polygon points="451.0,713.6 454.3,710.6 461.7,710.6 458.4,713.6" fill="#7F4040"/><rect x="451.0" y="713.6" width="7.4" height="1.2" fill="#FF8080" stroke="#7a7a7a" stroke-width="0.8"/><polygon points="465.8,714.8 465.8,713.8 469.1,710.8 469.1,711.8" fill="#720000"/><polygon points="458.4,713.8 461.7,710.8 469.1,710.8 465.8,713.8" fill="#7F0000"/><rect x="458.4" y="713.8" width="7.4" height="1.0" fill="#FF0000" stroke="#7a7a7a" stroke-width="0.8"/><polygon points="473.2,714.8 473.2,713.8 476.5,710.8 476.5,711.8" fill="#640000"/><polygon points="465.8,713.8 469.1,710.8 476.5,710.8 473.2,713.8" fill="#700000"/><rect x="465.8" y="713.8" width="7.4" height="1.0" fill="#E00000" stroke="#7a7a7a" stroke-width="0.8"/>
<polygon points="417.6,773.8 417.6,765.4 420.9,762.4 420.9,770.8" fill="#5A5A5A"/><polygon points="410.2,765.4 413.5,762.4 420.9,762.4 417.6,765.4" fill="#646464"/><rect x="410.2" y="765.4" width="7.4" height="8.4" fill="#C8C8C8" stroke="#7a7a7a" stroke-width="0.8"/><polygon points="425.0,773.8 425.0,765.4 428.3,762.4 428.3,770.8" fill="#725D39"/><polygon points="417.6,765.4 420.9,762.4 428.3,762.4 425.0,765.4" fill="#7F6840"/><rect x="417.6" y="765.4" width="7.4" height="8.4" fill="#FFD080" stroke="#7a7a7a" stroke-width="0.8"/><polygon points="432.4,773.8 432.4,772.2 435.7,769.2 435.7,770.8" fill="#725656"/><polygon points="425.0,772.2 428.3,769.2 435.7,769.2 432.4,772.2" fill="#7F6060"/><rect x="425.0" y="772.2" width="7.4" height="1.6" fill="#FFC0C0" stroke="#7a7a7a" stroke-width="0.8"/><polygon points="439.8,773.8 439.8,772.8 443.1,769.8 443.1,770.8" fill="#723939"/><polygon points="432.4,772.8 435.7,769.8 443.1,769.8 439.8,772.8" fill="#7F4040"/><rect x="432.4" y="772.8" width="7.4" height="1.0" fill="#FF8080" stroke="#7a7a7a" stroke-width="0.8"/><polygon points="447.2,773.8 447.2,772.8 450.5,769.8 450.5,770.8" fill="#720000"/><polygon points="439.8,772.8 443.1,769.8 450.5,769.8 447.2,772.8" fill="#7F0000"/><rect x="439.8" y="772.8" width="7.4" height="1.0" fill="#FF0000" stroke="#7a7a7a" stroke-width="0.8"/><polygon points="454.6,773.8 454.6,772.8 457.9,769.8 457.9,770.8" fill="#640000"/><polygon points="447.2,772.8 450.5,769.8 457.9,769.8 454.6,772.8" fill="#700000"/><rect x="447.2" y="772.8" width="7.4" height="1.0" fill="#E00000" stroke="#7a7a7a" stroke-width="0.8"/>
<polygon points="518.7,684.5 518.7,671.5 522.0,668.5 522.0,681.5" fill="#5A5A5A"/><polygon points="511.3,671.5 514.6,668.5 522.0,668.5 518.7,671.5" fill="#646464"/><rect x="511.3" y="671.5" width="7.4" height="13.0" fill="#C8C8C8" stroke="#7a7a7a" stroke-width="0.8"/><polygon points="526.1,684.5 526.1,671.5 529.4,668.5 529.4,681.5" fill="#725D39"/><polygon points="518.7,671.5 522.0,668.5 529.4,668.5 526.1,671.5" fill="#7F6840"/><rect x="518.7" y="671.5" width="7.4" height="13.0" fill="#FFD080" stroke="#7a7a7a" stroke-width="0.8"/><polygon points="533.5,684.5 533.5,681.9 536.8,678.9 536.8,681.5" fill="#725656"/><polygon points="526.1,681.9 529.4,678.9 536.8,678.9 533.5,681.9" fill="#7F6060"/><rect x="526.1" y="681.9" width="7.4" height="2.6" fill="#FFC0C0" stroke="#7a7a7a" stroke-width="0.8"/><polygon points="540.9,684.5 540.9,683.5 544.2,680.5 544.2,681.5" fill="#723939"/><polygon points="533.5,683.5 536.8,680.5 544.2,680.5 540.9,683.5" fill="#7F4040"/><rect x="533.5" y="683.5" width="7.4" height="1.0" fill="#FF8080" stroke="#7a7a7a" stroke-width="0.8"/><polygon points="548.3,684.5 548.3,683.5 551.6,680.5 551.6,681.5" fill="#720000"/><polygon points="540.9,683.5 544.2,680.5 551.6,680.5 548.3,683.5" fill="#7F0000"/><rect x="540.9" y="683.5" width="7.4" height="1.0" fill="#FF0000" stroke="#7a7a7a" stroke-width="0.8"/><polygon points="555.7,684.5 555.7,683.5 559.0,680.5 559.0,681.5" fill="#640000"/><polygon points="548.3,683.5 551.6,680.5 559.0,680.5 555.7,683.5" fill="#700000"/><rect x="548.3" y="683.5" width="7.4" height="1.0" fill="#E00000" stroke="#7a7a7a" stroke-width="0.8"/>
<polygon points="596.7,761.1 596.7,700.7 600.0,697.7 600.0,758.1" fill="#5A5A5A"/><polygon points="589.3,700.7 592.6,697.7 600.0,697.7 596.7,700.7" fill="#646464"/><rect x="589.3" y="700.7" width="7.4" height="60.4" fill="#C8C8C8" stroke="#7a7a7a" stroke-width="0.8"/><polygon points="604.1,761.1 604.1,711.2 607.4,708.2 607.4,758.1" fill="#725D39"/><polygon points="596.7,711.2 600.0,708.2 607.4,708.2 604.1,711.2" fill="#7F6840"/><rect x="596.7" y="711.2" width="7.4" height="49.9" fill="#FFD080" stroke="#7a7a7a" stroke-width="0.8"/><polygon points="611.5,761.1 611.5,752.4 614.8,749.4 614.8,758.1" fill="#725656"/><polygon points="604.1,752.4 607.4,749.4 614.8,749.4 611.5,752.4" fill="#7F6060"/><rect x="604.1" y="752.4" width="7.4" height="8.7" fill="#FFC0C0" stroke="#7a7a7a" stroke-width="0.8"/><polygon points="618.9,761.1 618.9,758.2 622.2,755.2 622.2,758.1" fill="#723939"/><polygon points="611.5,758.2 614.8,755.2 622.2,755.2 618.9,758.2" fill="#7F4040"/><rect x="611.5" y="758.2" width="7.4" height="2.9" fill="#FF8080" stroke="#7a7a7a" stroke-width="0.8"/><polygon points="626.3,761.1 626.3,760.1 629.6,757.1 629.6,758.1" fill="#720000"/><polygon points="618.9,760.1 622.2,757.1 629.6,757.1 626.3,760.1" fill="#7F0000"/><rect x="618.9" y="760.1" width="7.4" height="1.0" fill="#FF0000" stroke="#7a7a7a" stroke-width="0.8"/><polygon points="633.7,761.1 633.7,760.1 637.0,757.1 637.0,758.1" fill="#640000"/><polygon points="626.3,760.1 629.6,757.1 637.0,757.1 633.7,760.1" fill="#700000"/><rect x="626.3" y="760.1" width="7.4" height="1.0" fill="#E00000" stroke="#7a7a7a" stroke-width="0.8"/>
<polygon points="194.9,857.3 194.9,803.7 198.2,800.7 198.2,854.3" fill="#5A5A5A"/><polygon points="187.5,803.7 190.8,800.7 198.2,800.7 194.9,803.7" fill="#646464"/><rect x="187.5" y="803.7" width="7.4" height="53.6" fill="#C8C8C8" stroke="#7a7a7a" stroke-width="0.8"/><polygon points="202.3,857.3 202.3,841.6 205.6,838.6 205.6,854.3" fill="#725D39"/><polygon points="194.9,841.6 198.2,838.6 205.6,838.6 202.3,841.6" fill="#7F6840"/><rect x="194.9" y="841.6" width="7.4" height="15.7" fill="#FFD080" stroke="#7a7a7a" stroke-width="0.8"/><polygon points="209.7,857.3 209.7,854.7 213.0,851.7 213.0,854.3" fill="#725656"/><polygon points="202.3,854.7 205.6,851.7 213.0,851.7 209.7,854.7" fill="#7F6060"/><rect x="202.3" y="854.7" width="7.4" height="2.6" fill="#FFC0C0" stroke="#7a7a7a" stroke-width="0.8"/><polygon points="217.1,857.3 217.1,856.3 220.4,853.3 220.4,854.3" fill="#723939"/><polygon points="209.7,856.3 213.0,853.3 220.4,853.3 217.1,856.3" fill="#7F4040"/><rect x="209.7" y="856.3" width="7.4" height="1.0" fill="#FF8080" stroke="#7a7a7a" stroke-width="0.8"/><polygon points="224.5,857.3 224.5,856.3 227.8,853.3 227.8,854.3" fill="#720000"/><polygon points="217.1,856.3 220.4,853.3 227.8,853.3 224.5,856.3" fill="#7F0000"/><rect x="217.1" y="856.3" width="7.4" height="1.0" fill="#FF0000" stroke="#7a7a7a" stroke-width="0.8"/><polygon points="231.9,857.3 231.9,856.3 235.2,853.3 235.2,854.3" fill="#640000"/><polygon points="224.5,856.3 227.8,853.3 235.2,853.3 231.9,856.3" fill="#700000"/><rect x="224.5" y="856.3" width="7.4" height="1.0" fill="#E00000" stroke="#7a7a7a" stroke-width="0.8"/>
<polygon points="287.6,853.7 287.6,844.6 290.9,841.6 290.9,850.7" fill="#5A5A5A"/><polygon points="280.2,844.6 283.5,841.6 290.9,841.6 287.6,844.6" fill="#646464"/><rect x="280.2" y="844.6" width="7.4" height="9.1" fill="#C8C8C8" stroke="#7a7a7a" stroke-width="0.8"/><polygon points="295.0,853.7 295.0,847.3 298.3,844.3 298.3,850.7" fill="#725D39"/><polygon points="287.6,847.3 290.9,844.3 298.3,844.3 295.0,847.3" fill="#7F6840"/><rect x="287.6" y="847.3" width="7.4" height="6.4" fill="#FFD080" stroke="#7a7a7a" stroke-width="0.8"/><polygon points="302.4,853.7 302.4,852.2 305.7,849.2 305.7,850.7" fill="#725656"/><polygon points="295.0,852.2 298.3,849.2 305.7,849.2 302.4,852.2" fill="#7F6060"/><rect x="295.0" y="852.2" width="7.4" height="1.5" fill="#FFC0C0" stroke="#7a7a7a" stroke-width="0.8"/><polygon points="309.8,853.7 309.8,852.7 313.1,849.7 313.1,850.7" fill="#723939"/><polygon points="302.4,852.7 305.7,849.7 313.1,849.7 309.8,852.7" fill="#7F4040"/><rect x="302.4" y="852.7" width="7.4" height="1.0" fill="#FF8080" stroke="#7a7a7a" stroke-width="0.8"/><polygon points="317.2,853.7 317.2,852.7 320.5,849.7 320.5,850.7" fill="#720000"/><polygon points="309.8,852.7 313.1,849.7 320.5,849.7 317.2,852.7" fill="#7F0000"/><rect x="309.8" y="852.7" width="7.4" height="1.0" fill="#FF0000" stroke="#7a7a7a" stroke-width="0.8"/><polygon points="324.6,853.7 324.6,852.7 327.9,849.7 327.9,850.7" fill="#640000"/><polygon points="317.2,852.7 320.5,849.7 327.9,849.7 324.6,852.7" fill="#700000"/><rect x="317.2" y="852.7" width="7.4" height="1.0" fill="#E00000" stroke="#7a7a7a" stroke-width="0.8"/>
<polygon points="341.0,866.8 341.0,840.6 344.3,837.6 344.3,863.8" fill="#5A5A5A"/><polygon points="333.6,840.6 336.9,837.6 344.3,837.6 341.0,840.6" fill="#646464"/><rect x="333.6" y="840.6" width="7.4" height="26.2" fill="#C8C8C8" stroke="#7a7a7a" stroke-width="0.8"/><polygon points="348.4,866.8 348.4,844.6 351.7,841.6 351.7,863.8" fill="#725D39"/><polygon points="341.0,844.6 344.3,841.6 351.7,841.6 348.4,844.6" fill="#7F6840"/><rect x="341.0" y="844.6" width="7.4" height="22.2" fill="#FFD080" stroke="#7a7a7a" stroke-width="0.8"/><polygon points="355.8,866.8 355.8,863.8 359.1,860.8 359.1,863.8" fill="#725656"/><polygon points="348.4,863.8 351.7,860.8 359.1,860.8 355.8,863.8" fill="#7F6060"/><rect x="348.4" y="863.8" width="7.4" height="3.0" fill="#FFC0C0" stroke="#7a7a7a" stroke-width="0.8"/><polygon points="363.2,866.8 363.2,865.8 366.5,862.8 366.5,863.8" fill="#723939"/><polygon points="355.8,865.8 359.1,862.8 366.5,862.8 363.2,865.8" fill="#7F4040"/><rect x="355.8" y="865.8" width="7.4" height="1.0" fill="#FF8080" stroke="#7a7a7a" stroke-width="0.8"/><polygon points="370.6,866.8 370.6,865.8 373.9,862.8 373.9,863.8" fill="#720000"/><polygon points="363.2,865.8 366.5,862.8 373.9,862.8 370.6,865.8" fill="#7F0000"/><rect x="363.2" y="865.8" width="7.4" height="1.0" fill="#FF0000" stroke="#7a7a7a" stroke-width="0.8"/><polygon points="378.0,866.8 378.0,865.8 381.3,862.8 381.3,863.8" fill="#640000"/><polygon points="370.6,865.8 373.9,862.8 381.3,862.8 378.0,865.8" fill="#700000"/><rect x="370.6" y="865.8" width="7.4" height="1.0" fill="#E00000" stroke="#7a7a7a" stroke-width="0.8"/>
<polygon points="428.9,874.9 428.9,828.5 432.2,825.5 432.2,871.9" fill="#5A5A5A"/><polygon points="421.5,828.5 424.8,825.5 432.2,825.5 428.9,828.5" fill="#646464"/><rect x="421.5" y="828.5" width="7.4" height="46.4" fill="#C8C8C8" stroke="#7a7a7a" stroke-width="0.8"/><polygon points="436.3,874.9 436.3,835.6 439.6,832.6 439.6,871.9" fill="#725D39"/><polygon points="428.9,835.6 432.2,832.6 439.6,832.6 436.3,835.6" fill="#7F6840"/><rect x="428.9" y="835.6" width="7.4" height="39.3" fill="#FFD080" stroke="#7a7a7a" stroke-width="0.8"/><polygon points="443.7,874.9 443.7,868.8 447.0,865.8 447.0,871.9" fill="#725656"/><polygon points="436.3,868.8 439.6,865.8 447.0,865.8 443.7,868.8" fill="#7F6060"/><rect x="436.3" y="868.8" width="7.4" height="6.1" fill="#FFC0C0" stroke="#7a7a7a" stroke-width="0.8"/><polygon points="451.1,874.9 451.1,873.7 454.4,870.7 454.4,871.9" fill="#723939"/><polygon points="443.7,873.7 447.0,870.7 454.4,870.7 451.1,873.7" fill="#7F4040"/><rect x="443.7" y="873.7" width="7.4" height="1.2" fill="#FF8080" stroke="#7a7a7a" stroke-width="0.8"/><polygon points="458.5,874.9 458.5,873.9 461.8,870.9 461.8,871.9" fill="#720000"/><polygon points="451.1,873.9 454.4,870.9 461.8,870.9 458.5,873.9" fill="#7F0000"/><rect x="451.1" y="873.9" width="7.4" height="1.0" fill="#FF0000" stroke="#7a7a7a" stroke-width="0.8"/><polygon points="465.9,874.9 465.9,873.9 469.2,870.9 469.2,871.9" fill="#640000"/><polygon points="458.5,873.9 461.8,870.9 469.2,870.9 465.9,873.9" fill="#700000"/><rect x="458.5" y="873.9" width="7.4" height="1.0" fill="#E00000" stroke="#7a7a7a" stroke-width="0.8"/>
<polygon points="403.7,819.8 403.7,774.1 407.0,771.1 407.0,816.8" fill="#5A5A5A"/><polygon points="396.3,774.1 399.6,771.1 407.0,771.1 403.7,774.1" fill="#646464"/><rect x="396.3" y="774.1" width="7.4" height="45.7" fill="#C8C8C8" stroke="#7a7a7a" stroke-width="0.8"/><polygon points="411.1,819.8 411.1,793.6 414.4,790.6 414.4,816.8" fill="#725D39"/><polygon points="403.7,793.6 407.0,790.6 414.4,790.6 411.1,793.6" fill="#7F6840"/><rect x="403.7" y="793.6" width="7.4" height="26.2" fill="#FFD080" stroke="#7a7a7a" stroke-width="0.8"/><polygon points="418.5,819.8 418.5,817.0 421.8,814.0 421.8,816.8" fill="#725656"/><polygon points="411.1,817.0 414.4,814.0 421.8,814.0 418.5,817.0" fill="#7F6060"/><rect x="411.1" y="817.0" width="7.4" height="2.8" fill="#FFC0C0" stroke="#7a7a7a" stroke-width="0.8"/><polygon points="425.9,819.8 425.9,818.8 429.2,815.8 429.2,816.8" fill="#723939"/><polygon points="418.5,818.8 421.8,815.8 429.2,815.8 425.9,818.8" fill="#7F4040"/><rect x="418.5" y="818.8" width="7.4" height="1.0" fill="#FF8080" stroke="#7a7a7a" stroke-width="0.8"/><polygon points="433.3,819.8 433.3,818.8 436.6,815.8 436.6,816.8" fill="#720000"/><polygon points="425.9,818.8 429.2,815.8 436.6,815.8 433.3,818.8" fill="#7F0000"/><rect x="425.9" y="818.8" width="7.4" height="1.0" fill="#FF0000" stroke="#7a7a7a" stroke-width="0.8"/><polygon points="440.7,819.8 440.7,818.8 444.0,815.8 444.0,816.8" fill="#640000"/><polygon points="433.3,818.8 436.6,815.8 444.0,815.8 440.7,818.8" fill="#700000"/><rect x="433.3" y="818.8" width="7.4" height="1.0" fill="#E00000" stroke="#7a7a7a" stroke-width="0.8"/>
<polygon points="314.8,923.3 314.8,911.2 318.1,908.2 318.1,920.3" fill="#5A5A5A"/><polygon points="307.4,911.2 310.7,908.2 318.1,908.2 314.8,911.2" fill="#646464"/><rect x="307.4" y="911.2" width="7.4" height="12.1" fill="#C8C8C8" stroke="#7a7a7a" stroke-width="0.8"/><polygon points="322.2,923.3 322.2,914.2 325.5,911.2 325.5,920.3" fill="#725D39"/><polygon points="314.8,914.2 318.1,911.2 325.5,911.2 322.2,914.2" fill="#7F6840"/><rect x="314.8" y="914.2" width="7.4" height="9.1" fill="#FFD080" stroke="#7a7a7a" stroke-width="0.8"/><polygon points="329.6,923.3 329.6,921.3 332.9,918.3 332.9,920.3" fill="#725656"/><polygon points="322.2,921.3 325.5,918.3 332.9,918.3 329.6,921.3" fill="#7F6060"/><rect x="322.2" y="921.3" width="7.4" height="2.0" fill="#FFC0C0" stroke="#7a7a7a" stroke-width="0.8"/><polygon points="337.0,923.3 337.0,922.3 340.3,919.3 340.3,920.3" fill="#723939"/><polygon points="329.6,922.3 332.9,919.3 340.3,919.3 337.0,922.3" fill="#7F4040"/><rect x="329.6" y="922.3" width="7.4" height="1.0" fill="#FF8080" stroke="#7a7a7a" stroke-width="0.8"/><polygon points="344.4,923.3 344.4,922.3 347.7,919.3 347.7,920.3" fill="#720000"/><polygon points="337.0,922.3 340.3,919.3 347.7,919.3 344.4,922.3" fill="#7F0000"/><rect x="337.0" y="922.3" width="7.4" height="1.0" fill="#FF0000" stroke="#7a7a7a" stroke-width="0.8"/><polygon points="351.8,923.3 351.8,922.3 355.1,919.3 355.1,920.3" fill="#640000"/><polygon points="344.4,922.3 347.7,919.3 355.1,919.3 351.8,922.3" fill="#700000"/><rect x="344.4" y="922.3" width="7.4" height="1.0" fill="#E00000" stroke="#7a7a7a" stroke-width="0.8"/>
<polygon points="978.7,637.5 978.7,598.1 981.7,595.1 981.7,634.5" fill="#430000"/><polygon points="971.2,598.1 974.2,595.1 981.7,595.1 978.7,598.1" fill="#700000"/><rect x="971.2" y="598.1" width="7.5" height="39.4" fill="#E00000" stroke="#A01010" stroke-width="0.8"/><polygon points="986.2,637.5 986.2,633.7 989.2,630.7 989.2,634.5" fill="#4C0000"/><polygon points="978.7,633.7 981.7,630.7 989.2,630.7 986.2,633.7" fill="#7F0000"/><rect x="978.7" y="633.7" width="7.5" height="3.8" fill="#FF0000" stroke="#A01010" stroke-width="0.8"/><polygon points="993.7,637.5 993.7,636.5 996.7,633.5 996.7,634.5" fill="#4C2626"/><polygon points="986.2,636.5 989.2,633.5 996.7,633.5 993.7,636.5" fill="#7F4040"/><rect x="986.2" y="636.5" width="7.5" height="1.0" fill="#FF8080" stroke="#808080" stroke-width="0.8"/><polygon points="1001.2,637.5 1001.2,636.5 1004.2,633.5 1004.2,634.5" fill="#4C3939"/><polygon points="993.7,636.5 996.7,633.5 1004.2,633.5 1001.2,636.5" fill="#7F6060"/><rect x="993.7" y="636.5" width="7.5" height="1.0" fill="#FFC0C0" stroke="#808080" stroke-width="0.8"/><polygon points="1008.7,637.5 1008.7,636.5 1011.7,633.5 1011.7,634.5" fill="#4C484C"/><polygon points="1001.2,636.5 1004.2,633.5 1011.7,633.5 1008.7,636.5" fill="#7F787F"/><rect x="1001.2" y="636.5" width="7.5" height="1.0" fill="#FFF0FF" stroke="#808080" stroke-width="0.8"/>
<polygon points="949.8,679.0 949.8,669.0 952.8,666.0 952.8,676.0" fill="#430000"/><polygon points="942.3,669.0 945.3,666.0 952.8,666.0 949.8,669.0" fill="#700000"/><rect x="942.3" y="669.0" width="7.5" height="10.0" fill="#E00000" stroke="#A01010" stroke-width="0.8"/><polygon points="957.3,679.0 957.3,677.5 960.3,674.5 960.3,676.0" fill="#4C0000"/><polygon points="949.8,677.5 952.8,674.5 960.3,674.5 957.3,677.5" fill="#7F0000"/><rect x="949.8" y="677.5" width="7.5" height="1.5" fill="#FF0000" stroke="#A01010" stroke-width="0.8"/><polygon points="964.8,679.0 964.8,678.0 967.8,675.0 967.8,676.0" fill="#4C2626"/><polygon points="957.3,678.0 960.3,675.0 967.8,675.0 964.8,678.0" fill="#7F4040"/><rect x="957.3" y="678.0" width="7.5" height="1.0" fill="#FF8080" stroke="#808080" stroke-width="0.8"/><polygon points="972.3,679.0 972.3,678.0 975.3,675.0 975.3,676.0" fill="#4C3939"/><polygon points="964.8,678.0 967.8,675.0 975.3,675.0 972.3,678.0" fill="#7F6060"/><rect x="964.8" y="678.0" width="7.5" height="1.0" fill="#FFC0C0" stroke="#808080" stroke-width="0.8"/><polygon points="979.8,679.0 979.8,678.0 982.8,675.0 982.8,676.0" fill="#4C484C"/><polygon points="972.3,678.0 975.3,675.0 982.8,675.0 979.8,678.0" fill="#7F787F"/><rect x="972.3" y="678.0" width="7.5" height="1.0" fill="#FFF0FF" stroke="#808080" stroke-width="0.8"/>
<polygon points="1009.3,707.3 1009.3,685.5 1012.3,682.5 1012.3,704.3" fill="#430000"/><polygon points="1001.8,685.5 1004.8,682.5 1012.3,682.5 1009.3,685.5" fill="#700000"/><rect x="1001.8" y="685.5" width="7.5" height="21.8" fill="#E00000" stroke="#A01010" stroke-width="0.8"/><polygon points="1016.8,707.3 1016.8,704.3 1019.8,701.3 1019.8,704.3" fill="#4C0000"/><polygon points="1009.3,704.3 1012.3,701.3 1019.8,701.3 1016.8,704.3" fill="#7F0000"/><rect x="1009.3" y="704.3" width="7.5" height="3.0" fill="#FF0000" stroke="#A01010" stroke-width="0.8"/><polygon points="1024.3,707.3 1024.3,706.3 1027.3,703.3 1027.3,704.3" fill="#4C2626"/><polygon points="1016.8,706.3 1019.8,703.3 1027.3,703.3 1024.3,706.3" fill="#7F4040"/><rect x="1016.8" y="706.3" width="7.5" height="1.0" fill="#FF8080" stroke="#808080" stroke-width="0.8"/><polygon points="1031.8,707.3 1031.8,706.3 1034.8,703.3 1034.8,704.3" fill="#4C3939"/><polygon points="1024.3,706.3 1027.3,703.3 1034.8,703.3 1031.8,706.3" fill="#7F6060"/><rect x="1024.3" y="706.3" width="7.5" height="1.0" fill="#FFC0C0" stroke="#808080" stroke-width="0.8"/><polygon points="1039.3,707.3 1039.3,706.3 1042.3,703.3 1042.3,704.3" fill="#4C484C"/><polygon points="1031.8,706.3 1034.8,703.3 1042.3,703.3 1039.3,706.3" fill="#7F787F"/><rect x="1031.8" y="706.3" width="7.5" height="1.0" fill="#FFF0FF" stroke="#808080" stroke-width="0.8"/>
<polygon points="1077.4,679.0 1077.4,660.9 1080.4,657.9 1080.4,676.0" fill="#430000"/><polygon points="1069.9,660.9 1072.9,657.9 1080.4,657.9 1077.4,660.9" fill="#700000"/><rect x="1069.9" y="660.9" width="7.5" height="18.1" fill="#E00000" stroke="#A01010" stroke-width="0.8"/><polygon points="1084.9,679.0 1084.9,677.0 1087.9,674.0 1087.9,676.0" fill="#4C0000"/><polygon points="1077.4,677.0 1080.4,674.0 1087.9,674.0 1084.9,677.0" fill="#7F0000"/><rect x="1077.4" y="677.0" width="7.5" height="2.0" fill="#FF0000" stroke="#A01010" stroke-width="0.8"/><polygon points="1092.4,679.0 1092.4,678.0 1095.4,675.0 1095.4,676.0" fill="#4C2626"/><polygon points="1084.9,678.0 1087.9,675.0 1095.4,675.0 1092.4,678.0" fill="#7F4040"/><rect x="1084.9" y="678.0" width="7.5" height="1.0" fill="#FF8080" stroke="#808080" stroke-width="0.8"/><polygon points="1099.9,679.0 1099.9,678.0 1102.9,675.0 1102.9,676.0" fill="#4C3939"/><polygon points="1092.4,678.0 1095.4,675.0 1102.9,675.0 1099.9,678.0" fill="#7F6060"/><rect x="1092.4" y="678.0" width="7.5" height="1.0" fill="#FFC0C0" stroke="#808080" stroke-width="0.8"/><polygon points="1107.4,679.0 1107.4,678.0 1110.4,675.0 1110.4,676.0" fill="#4C484C"/><polygon points="1099.9,678.0 1102.9,675.0 1110.4,675.0 1107.4,678.0" fill="#7F787F"/><rect x="1099.9" y="678.0" width="7.5" height="1.0" fill="#FFF0FF" stroke="#808080" stroke-width="0.8"/>
<polygon points="1135.3,654.8 1135.3,635.5 1138.3,632.5 1138.3,651.8" fill="#430000"/><polygon points="1127.8,635.5 1130.8,632.5 1138.3,632.5 1135.3,635.5" fill="#700000"/><rect x="1127.8" y="635.5" width="7.5" height="19.3" fill="#E00000" stroke="#A01010" stroke-width="0.8"/><polygon points="1142.8,654.8 1142.8,652.3 1145.8,649.3 1145.8,651.8" fill="#4C0000"/><polygon points="1135.3,652.3 1138.3,649.3 1145.8,649.3 1142.8,652.3" fill="#7F0000"/><rect x="1135.3" y="652.3" width="7.5" height="2.5" fill="#FF0000" stroke="#A01010" stroke-width="0.8"/><polygon points="1150.3,654.8 1150.3,653.8 1153.3,650.8 1153.3,651.8" fill="#4C2626"/><polygon points="1142.8,653.8 1145.8,650.8 1153.3,650.8 1150.3,653.8" fill="#7F4040"/><rect x="1142.8" y="653.8" width="7.5" height="1.0" fill="#FF8080" stroke="#808080" stroke-width="0.8"/><polygon points="1157.8,654.8 1157.8,653.8 1160.8,650.8 1160.8,651.8" fill="#4C3939"/><polygon points="1150.3,653.8 1153.3,650.8 1160.8,650.8 1157.8,653.8" fill="#7F6060"/><rect x="1150.3" y="653.8" width="7.5" height="1.0" fill="#FFC0C0" stroke="#808080" stroke-width="0.8"/><polygon points="1165.3,654.8 1165.3,653.8 1168.3,650.8 1168.3,651.8" fill="#4C484C"/><polygon points="1157.8,653.8 1160.8,650.8 1168.3,650.8 1165.3,653.8" fill="#7F787F"/><rect x="1157.8" y="653.8" width="7.5" height="1.0" fill="#FFF0FF" stroke="#808080" stroke-width="0.8"/>
<polygon points="1162.5,690.5 1162.5,655.2 1165.5,652.2 1165.5,687.5" fill="#430000"/><polygon points="1155.0,655.2 1158.0,652.2 1165.5,652.2 1162.5,655.2" fill="#700000"/><rect x="1155.0" y="655.2" width="7.5" height="35.3" fill="#E00000" stroke="#A01010" stroke-width="0.8"/><polygon points="1170.0,690.5 1170.0,688.0 1173.0,685.0 1173.0,687.5" fill="#4C0000"/><polygon points="1162.5,688.0 1165.5,685.0 1173.0,685.0 1170.0,688.0" fill="#7F0000"/><rect x="1162.5" y="688.0" width="7.5" height="2.5" fill="#FF0000" stroke="#A01010" stroke-width="0.8"/><polygon points="1177.5,690.5 1177.5,689.5 1180.5,686.5 1180.5,687.5" fill="#4C2626"/><polygon points="1170.0,689.5 1173.0,686.5 1180.5,686.5 1177.5,689.5" fill="#7F4040"/><rect x="1170.0" y="689.5" width="7.5" height="1.0" fill="#FF8080" stroke="#808080" stroke-width="0.8"/><polygon points="1185.0,690.5 1185.0,689.5 1188.0,686.5 1188.0,687.5" fill="#4C3939"/><polygon points="1177.5,689.5 1180.5,686.5 1188.0,686.5 1185.0,689.5" fill="#7F6060"/><rect x="1177.5" y="689.5" width="7.5" height="1.0" fill="#FFC0C0" stroke="#808080" stroke-width="0.8"/><polygon points="1192.5,690.5 1192.5,689.5 1195.5,686.5 1195.5,687.5" fill="#4C484C"/><polygon points="1185.0,689.5 1188.0,686.5 1195.5,686.5 1192.5,689.5" fill="#7F787F"/><rect x="1185.0" y="689.5" width="7.5" height="1.0" fill="#FFF0FF" stroke="#808080" stroke-width="0.8"/>
<polygon points="1236.9,657.3 1236.9,641.5 1239.9,638.5 1239.9,654.3" fill="#430000"/><polygon points="1229.4,641.5 1232.4,638.5 1239.9,638.5 1236.9,641.5" fill="#700000"/><rect x="1229.4" y="641.5" width="7.5" height="15.8" fill="#E00000" stroke="#A01010" stroke-width="0.8"/><polygon points="1244.4,657.3 1244.4,655.3 1247.4,652.3 1247.4,654.3" fill="#4C0000"/><polygon points="1236.9,655.3 1239.9,652.3 1247.4,652.3 1244.4,655.3" fill="#7F0000"/><rect x="1236.9" y="655.3" width="7.5" height="2.0" fill="#FF0000" stroke="#A01010" stroke-width="0.8"/><polygon points="1251.9,657.3 1251.9,656.3 1254.9,653.3 1254.9,654.3" fill="#4C2626"/><polygon points="1244.4,656.3 1247.4,653.3 1254.9,653.3 1251.9,656.3" fill="#7F4040"/><rect x="1244.4" y="656.3" width="7.5" height="1.0" fill="#FF8080" stroke="#808080" stroke-width="0.8"/><polygon points="1259.4,657.3 1259.4,656.3 1262.4,653.3 1262.4,654.3" fill="#4C3939"/><polygon points="1251.9,656.3 1254.9,653.3 1262.4,653.3 1259.4,656.3" fill="#7F6060"/><rect x="1251.9" y="656.3" width="7.5" height="1.0" fill="#FFC0C0" stroke="#808080" stroke-width="0.8"/><polygon points="1266.9,657.3 1266.9,656.3 1269.9,653.3 1269.9,654.3" fill="#4C484C"/><polygon points="1259.4,656.3 1262.4,653.3 1269.9,653.3 1266.9,656.3" fill="#7F787F"/><rect x="1259.4" y="656.3" width="7.5" height="1.0" fill="#FFF0FF" stroke="#808080" stroke-width="0.8"/>
<polygon points="1313.0,730.3 1313.0,670.2 1316.0,667.2 1316.0,727.3" fill="#430000"/><polygon points="1305.5,670.2 1308.5,667.2 1316.0,667.2 1313.0,670.2" fill="#700000"/><rect x="1305.5" y="670.2" width="7.5" height="60.1" fill="#E00000" stroke="#A01010" stroke-width="0.8"/><polygon points="1320.5,730.3 1320.5,725.2 1323.5,722.2 1323.5,727.3" fill="#4C0000"/><polygon points="1313.0,725.2 1316.0,722.2 1323.5,722.2 1320.5,725.2" fill="#7F0000"/><rect x="1313.0" y="725.2" width="7.5" height="5.1" fill="#FF0000" stroke="#A01010" stroke-width="0.8"/><polygon points="1328.0,730.3 1328.0,729.3 1331.0,726.3 1331.0,727.3" fill="#4C2626"/><polygon points="1320.5,729.3 1323.5,726.3 1331.0,726.3 1328.0,729.3" fill="#7F4040"/><rect x="1320.5" y="729.3" width="7.5" height="1.0" fill="#FF8080" stroke="#808080" stroke-width="0.8"/><polygon points="1335.5,730.3 1335.5,729.3 1338.5,726.3 1338.5,727.3" fill="#4C3939"/><polygon points="1328.0,729.3 1331.0,726.3 1338.5,726.3 1335.5,729.3" fill="#7F6060"/><rect x="1328.0" y="729.3" width="7.5" height="1.0" fill="#FFC0C0" stroke="#808080" stroke-width="0.8"/><polygon points="1343.0,730.3 1343.0,729.3 1346.0,726.3 1346.0,727.3" fill="#4C484C"/><polygon points="1335.5,729.3 1338.5,726.3 1346.0,726.3 1343.0,729.3" fill="#7F787F"/><rect x="1335.5" y="729.3" width="7.5" height="1.0" fill="#FFF0FF" stroke="#808080" stroke-width="0.8"/>
<polygon points="926.2,723.8 926.2,713.7 929.2,710.7 929.2,720.8" fill="#430000"/><polygon points="918.7,713.7 921.7,710.7 929.2,710.7 926.2,713.7" fill="#700000"/><rect x="918.7" y="713.7" width="7.5" height="10.1" fill="#E00000" stroke="#A01010" stroke-width="0.8"/><polygon points="933.7,723.8 933.7,722.3 936.7,719.3 936.7,720.8" fill="#4C0000"/><polygon points="926.2,722.3 929.2,719.3 936.7,719.3 933.7,722.3" fill="#7F0000"/><rect x="926.2" y="722.3" width="7.5" height="1.5" fill="#FF0000" stroke="#A01010" stroke-width="0.8"/><polygon points="941.2,723.8 941.2,722.8 944.2,719.8 944.2,720.8" fill="#4C2626"/><polygon points="933.7,722.8 936.7,719.8 944.2,719.8 941.2,722.8" fill="#7F4040"/><rect x="933.7" y="722.8" width="7.5" height="1.0" fill="#FF8080" stroke="#808080" stroke-width="0.8"/><polygon points="948.7,723.8 948.7,722.8 951.7,719.8 951.7,720.8" fill="#4C3939"/><polygon points="941.2,722.8 944.2,719.8 951.7,719.8 948.7,722.8" fill="#7F6060"/><rect x="941.2" y="722.8" width="7.5" height="1.0" fill="#FFC0C0" stroke="#808080" stroke-width="0.8"/><polygon points="956.2,723.8 956.2,722.8 959.2,719.8 959.2,720.8" fill="#4C484C"/><polygon points="948.7,722.8 951.7,719.8 959.2,719.8 956.2,722.8" fill="#7F787F"/><rect x="948.7" y="722.8" width="7.5" height="1.0" fill="#FFF0FF" stroke="#808080" stroke-width="0.8"/>
<polygon points="1031.5,745.4 1031.5,704.0 1034.5,701.0 1034.5,742.4" fill="#430000"/><polygon points="1024.0,704.0 1027.0,701.0 1034.5,701.0 1031.5,704.0" fill="#700000"/><rect x="1024.0" y="704.0" width="7.5" height="41.4" fill="#E00000" stroke="#A01010" stroke-width="0.8"/><polygon points="1039.0,745.4 1039.0,741.9 1042.0,738.9 1042.0,742.4" fill="#4C0000"/><polygon points="1031.5,741.9 1034.5,738.9 1042.0,738.9 1039.0,741.9" fill="#7F0000"/><rect x="1031.5" y="741.9" width="7.5" height="3.5" fill="#FF0000" stroke="#A01010" stroke-width="0.8"/><polygon points="1046.5,745.4 1046.5,744.4 1049.5,741.4 1049.5,742.4" fill="#4C2626"/><polygon points="1039.0,744.4 1042.0,741.4 1049.5,741.4 1046.5,744.4" fill="#7F4040"/><rect x="1039.0" y="744.4" width="7.5" height="1.0" fill="#FF8080" stroke="#808080" stroke-width="0.8"/><polygon points="1054.0,745.4 1054.0,744.4 1057.0,741.4 1057.0,742.4" fill="#4C3939"/><polygon points="1046.5,744.4 1049.5,741.4 1057.0,741.4 1054.0,744.4" fill="#7F6060"/><rect x="1046.5" y="744.4" width="7.5" height="1.0" fill="#FFC0C0" stroke="#808080" stroke-width="0.8"/><polygon points="1061.5,745.4 1061.5,744.4 1064.5,741.4 1064.5,742.4" fill="#4C484C"/><polygon points="1054.0,744.4 1057.0,741.4 1064.5,741.4 1061.5,744.4" fill="#7F787F"/><rect x="1054.0" y="744.4" width="7.5" height="1.0" fill="#FFF0FF" stroke="#808080" stroke-width="0.8"/>
<polygon points="1076.2,726.8 1076.2,706.7 1079.2,703.7 1079.2,723.8" fill="#430000"/><polygon points="1068.7,706.7 1071.7,703.7 1079.2,703.7 1076.2,706.7" fill="#700000"/><rect x="1068.7" y="706.7" width="7.5" height="20.1" fill="#E00000" stroke="#A01010" stroke-width="0.8"/><polygon points="1083.7,726.8 1083.7,724.8 1086.7,721.8 1086.7,723.8" fill="#4C0000"/><polygon points="1076.2,724.8 1079.2,721.8 1086.7,721.8 1083.7,724.8" fill="#7F0000"/><rect x="1076.2" y="724.8" width="7.5" height="2.0" fill="#FF0000" stroke="#A01010" stroke-width="0.8"/><polygon points="1091.2,726.8 1091.2,725.8 1094.2,722.8 1094.2,723.8" fill="#4C2626"/><polygon points="1083.7,725.8 1086.7,722.8 1094.2,722.8 1091.2,725.8" fill="#7F4040"/><rect x="1083.7" y="725.8" width="7.5" height="1.0" fill="#FF8080" stroke="#808080" stroke-width="0.8"/><polygon points="1098.7,726.8 1098.7,725.8 1101.7,722.8 1101.7,723.8" fill="#4C3939"/><polygon points="1091.2,725.8 1094.2,722.8 1101.7,722.8 1098.7,725.8" fill="#7F6060"/><rect x="1091.2" y="725.8" width="7.5" height="1.0" fill="#FFC0C0" stroke="#808080" stroke-width="0.8"/><polygon points="1106.2,726.8 1106.2,725.8 1109.2,722.8 1109.2,723.8" fill="#4C484C"/><polygon points="1098.7,725.8 1101.7,722.8 1109.2,722.8 1106.2,725.8" fill="#7F787F"/><rect x="1098.7" y="725.8" width="7.5" height="1.0" fill="#FFF0FF" stroke="#808080" stroke-width="0.8"/>
<polygon points="1137.3,724.8 1137.3,714.7 1140.3,711.7 1140.3,721.8" fill="#430000"/><polygon points="1129.8,714.7 1132.8,711.7 1140.3,711.7 1137.3,714.7" fill="#700000"/><rect x="1129.8" y="714.7" width="7.5" height="10.1" fill="#E00000" stroke="#A01010" stroke-width="0.8"/><polygon points="1144.8,724.8 1144.8,723.3 1147.8,720.3 1147.8,721.8" fill="#4C0000"/><polygon points="1137.3,723.3 1140.3,720.3 1147.8,720.3 1144.8,723.3" fill="#7F0000"/><rect x="1137.3" y="723.3" width="7.5" height="1.5" fill="#FF0000" stroke="#A01010" stroke-width="0.8"/><polygon points="1152.3,724.8 1152.3,723.8 1155.3,720.8 1155.3,721.8" fill="#4C2626"/><polygon points="1144.8,723.8 1147.8,720.8 1155.3,720.8 1152.3,723.8" fill="#7F4040"/><rect x="1144.8" y="723.8" width="7.5" height="1.0" fill="#FF8080" stroke="#808080" stroke-width="0.8"/><polygon points="1159.8,724.8 1159.8,723.8 1162.8,720.8 1162.8,721.8" fill="#4C3939"/><polygon points="1152.3,723.8 1155.3,720.8 1162.8,720.8 1159.8,723.8" fill="#7F6060"/><rect x="1152.3" y="723.8" width="7.5" height="1.0" fill="#FFC0C0" stroke="#808080" stroke-width="0.8"/><polygon points="1167.3,724.8 1167.3,723.8 1170.3,720.8 1170.3,721.8" fill="#4C484C"/><polygon points="1159.8,723.8 1162.8,720.8 1170.3,720.8 1167.3,723.8" fill="#7F787F"/><rect x="1159.8" y="723.8" width="7.5" height="1.0" fill="#FFF0FF" stroke="#808080" stroke-width="0.8"/>
<polygon points="1132.3,784.8 1132.3,745.7 1135.3,742.7 1135.3,781.8" fill="#430000"/><polygon points="1124.8,745.7 1127.8,742.7 1135.3,742.7 1132.3,745.7" fill="#700000"/><rect x="1124.8" y="745.7" width="7.5" height="39.1" fill="#E00000" stroke="#A01010" stroke-width="0.8"/><polygon points="1139.8,784.8 1139.8,782.3 1142.8,779.3 1142.8,781.8" fill="#4C0000"/><polygon points="1132.3,782.3 1135.3,779.3 1142.8,779.3 1139.8,782.3" fill="#7F0000"/><rect x="1132.3" y="782.3" width="7.5" height="2.5" fill="#FF0000" stroke="#A01010" stroke-width="0.8"/><polygon points="1147.3,784.8 1147.3,783.8 1150.3,780.8 1150.3,781.8" fill="#4C2626"/><polygon points="1139.8,783.8 1142.8,780.8 1150.3,780.8 1147.3,783.8" fill="#7F4040"/><rect x="1139.8" y="783.8" width="7.5" height="1.0" fill="#FF8080" stroke="#808080" stroke-width="0.8"/><polygon points="1154.8,784.8 1154.8,783.8 1157.8,780.8 1157.8,781.8" fill="#4C3939"/><polygon points="1147.3,783.8 1150.3,780.8 1157.8,780.8 1154.8,783.8" fill="#7F6060"/><rect x="1147.3" y="783.8" width="7.5" height="1.0" fill="#FFC0C0" stroke="#808080" stroke-width="0.8"/><polygon points="1162.3,784.8 1162.3,783.8 1165.3,780.8 1165.3,781.8" fill="#4C484C"/><polygon points="1154.8,783.8 1157.8,780.8 1165.3,780.8 1162.3,783.8" fill="#7F787F"/><rect x="1154.8" y="783.8" width="7.5" height="1.0" fill="#FFF0FF" stroke="#808080" stroke-width="0.8"/>
<polygon points="933.7,821.3 933.7,782.8 936.7,779.8 936.7,818.3" fill="#430000"/><polygon points="926.2,782.8 929.2,779.8 936.7,779.8 933.7,782.8" fill="#700000"/><rect x="926.2" y="782.8" width="7.5" height="38.5" fill="#E00000" stroke="#A01010" stroke-width="0.8"/><polygon points="941.2,821.3 941.2,819.3 944.2,816.3 944.2,818.3" fill="#4C0000"/><polygon points="933.7,819.3 936.7,816.3 944.2,816.3 941.2,819.3" fill="#7F0000"/><rect x="933.7" y="819.3" width="7.5" height="2.0" fill="#FF0000" stroke="#A01010" stroke-width="0.8"/><polygon points="948.7,821.3 948.7,820.3 951.7,817.3 951.7,818.3" fill="#4C2626"/><polygon points="941.2,820.3 944.2,817.3 951.7,817.3 948.7,820.3" fill="#7F4040"/><rect x="941.2" y="820.3" width="7.5" height="1.0" fill="#FF8080" stroke="#808080" stroke-width="0.8"/><polygon points="956.2,821.3 956.2,820.3 959.2,817.3 959.2,818.3" fill="#4C3939"/><polygon points="948.7,820.3 951.7,817.3 959.2,817.3 956.2,820.3" fill="#7F6060"/><rect x="948.7" y="820.3" width="7.5" height="1.0" fill="#FFC0C0" stroke="#808080" stroke-width="0.8"/><polygon points="963.7,821.3 963.7,820.3 966.7,817.3 966.7,818.3" fill="#4C484C"/><polygon points="956.2,820.3 959.2,817.3 966.7,817.3 963.7,820.3" fill="#7F787F"/><rect x="956.2" y="820.3" width="7.5" height="1.0" fill="#FFF0FF" stroke="#808080" stroke-width="0.8"/>
<polygon points="1021.0,818.1 1021.0,809.6 1024.0,806.6 1024.0,815.1" fill="#430000"/><polygon points="1013.5,809.6 1016.5,806.6 1024.0,806.6 1021.0,809.6" fill="#700000"/><rect x="1013.5" y="809.6" width="7.5" height="8.5" fill="#E00000" stroke="#A01010" stroke-width="0.8"/><polygon points="1028.5,818.1 1028.5,816.6 1031.5,813.6 1031.5,815.1" fill="#4C0000"/><polygon points="1021.0,816.6 1024.0,813.6 1031.5,813.6 1028.5,816.6" fill="#7F0000"/><rect x="1021.0" y="816.6" width="7.5" height="1.5" fill="#FF0000" stroke="#A01010" stroke-width="0.8"/><polygon points="1036.0,818.1 1036.0,817.1 1039.0,814.1 1039.0,815.1" fill="#4C2626"/><polygon points="1028.5,817.1 1031.5,814.1 1039.0,814.1 1036.0,817.1" fill="#7F4040"/><rect x="1028.5" y="817.1" width="7.5" height="1.0" fill="#FF8080" stroke="#808080" stroke-width="0.8"/><polygon points="1043.5,818.1 1043.5,817.1 1046.5,814.1 1046.5,815.1" fill="#4C3939"/><polygon points="1036.0,817.1 1039.0,814.1 1046.5,814.1 1043.5,817.1" fill="#7F6060"/><rect x="1036.0" y="817.1" width="7.5" height="1.0" fill="#FFC0C0" stroke="#808080" stroke-width="0.8"/><polygon points="1051.0,818.1 1051.0,817.1 1054.0,814.1 1054.0,815.1" fill="#4C484C"/><polygon points="1043.5,817.1 1046.5,814.1 1054.0,814.1 1051.0,817.1" fill="#7F787F"/><rect x="1043.5" y="817.1" width="7.5" height="1.0" fill="#FFF0FF" stroke="#808080" stroke-width="0.8"/>
<polygon points="1070.2,829.8 1070.2,803.0 1073.2,800.0 1073.2,826.8" fill="#430000"/><polygon points="1062.7,803.0 1065.7,800.0 1073.2,800.0 1070.2,803.0" fill="#700000"/><rect x="1062.7" y="803.0" width="7.5" height="26.8" fill="#E00000" stroke="#A01010" stroke-width="0.8"/><polygon points="1077.7,829.8 1077.7,827.8 1080.7,824.8 1080.7,826.8" fill="#4C0000"/><polygon points="1070.2,827.8 1073.2,824.8 1080.7,824.8 1077.7,827.8" fill="#7F0000"/><rect x="1070.2" y="827.8" width="7.5" height="2.0" fill="#FF0000" stroke="#A01010" stroke-width="0.8"/><polygon points="1085.2,829.8 1085.2,828.8 1088.2,825.8 1088.2,826.8" fill="#4C2626"/><polygon points="1077.7,828.8 1080.7,825.8 1088.2,825.8 1085.2,828.8" fill="#7F4040"/><rect x="1077.7" y="828.8" width="7.5" height="1.0" fill="#FF8080" stroke="#808080" stroke-width="0.8"/><polygon points="1092.7,829.8 1092.7,828.8 1095.7,825.8 1095.7,826.8" fill="#4C3939"/><polygon points="1085.2,828.8 1088.2,825.8 1095.7,825.8 1092.7,828.8" fill="#7F6060"/><rect x="1085.2" y="828.8" width="7.5" height="1.0" fill="#FFC0C0" stroke="#808080" stroke-width="0.8"/><polygon points="1100.2,829.8 1100.2,828.8 1103.2,825.8 1103.2,826.8" fill="#4C484C"/><polygon points="1092.7,828.8 1095.7,825.8 1103.2,825.8 1100.2,828.8" fill="#7F787F"/><rect x="1092.7" y="828.8" width="7.5" height="1.0" fill="#FFF0FF" stroke="#808080" stroke-width="0.8"/>
<polygon points="1154.8,838.3 1154.8,790.1 1157.8,787.1 1157.8,835.3" fill="#430000"/><polygon points="1147.3,790.1 1150.3,787.1 1157.8,787.1 1154.8,790.1" fill="#700000"/><rect x="1147.3" y="790.1" width="7.5" height="48.2" fill="#E00000" stroke="#A01010" stroke-width="0.8"/><polygon points="1162.3,838.3 1162.3,835.3 1165.3,832.3 1165.3,835.3" fill="#4C0000"/><polygon points="1154.8,835.3 1157.8,832.3 1165.3,832.3 1162.3,835.3" fill="#7F0000"/><rect x="1154.8" y="835.3" width="7.5" height="3.0" fill="#FF0000" stroke="#A01010" stroke-width="0.8"/><polygon points="1169.8,838.3 1169.8,837.3 1172.8,834.3 1172.8,835.3" fill="#4C2626"/><polygon points="1162.3,837.3 1165.3,834.3 1172.8,834.3 1169.8,837.3" fill="#7F4040"/><rect x="1162.3" y="837.3" width="7.5" height="1.0" fill="#FF8080" stroke="#808080" stroke-width="0.8"/><polygon points="1177.3,838.3 1177.3,837.3 1180.3,834.3 1180.3,835.3" fill="#4C3939"/><polygon points="1169.8,837.3 1172.8,834.3 1180.3,834.3 1177.3,837.3" fill="#7F6060"/><rect x="1169.8" y="837.3" width="7.5" height="1.0" fill="#FFC0C0" stroke="#808080" stroke-width="0.8"/><polygon points="1184.8,838.3 1184.8,837.3 1187.8,834.3 1187.8,835.3" fill="#4C484C"/><polygon points="1177.3,837.3 1180.3,834.3 1187.8,834.3 1184.8,837.3" fill="#7F787F"/><rect x="1177.3" y="837.3" width="7.5" height="1.0" fill="#FFF0FF" stroke="#808080" stroke-width="0.8"/>
<polygon points="1047.0,884.2 1047.0,872.1 1050.0,869.1 1050.0,881.2" fill="#430000"/><polygon points="1039.5,872.1 1042.5,869.1 1050.0,869.1 1047.0,872.1" fill="#700000"/><rect x="1039.5" y="872.1" width="7.5" height="12.1" fill="#E00000" stroke="#A01010" stroke-width="0.8"/><polygon points="1054.5,884.2 1054.5,882.7 1057.5,879.7 1057.5,881.2" fill="#4C0000"/><polygon points="1047.0,882.7 1050.0,879.7 1057.5,879.7 1054.5,882.7" fill="#7F0000"/><rect x="1047.0" y="882.7" width="7.5" height="1.5" fill="#FF0000" stroke="#A01010" stroke-width="0.8"/><polygon points="1062.0,884.2 1062.0,883.2 1065.0,880.2 1065.0,881.2" fill="#4C2626"/><polygon points="1054.5,883.2 1057.5,880.2 1065.0,880.2 1062.0,883.2" fill="#7F4040"/><rect x="1054.5" y="883.2" width="7.5" height="1.0" fill="#FF8080" stroke="#808080" stroke-width="0.8"/><polygon points="1069.5,884.2 1069.5,883.2 1072.5,880.2 1072.5,881.2" fill="#4C3939"/><polygon points="1062.0,883.2 1065.0,880.2 1072.5,880.2 1069.5,883.2" fill="#7F6060"/><rect x="1062.0" y="883.2" width="7.5" height="1.0" fill="#FFC0C0" stroke="#808080" stroke-width="0.8"/><polygon points="1077.0,884.2 1077.0,883.2 1080.0,880.2 1080.0,881.2" fill="#4C484C"/><polygon points="1069.5,883.2 1072.5,880.2 1080.0,880.2 1077.0,883.2" fill="#7F787F"/><rect x="1069.5" y="883.2" width="7.5" height="1.0" fill="#FFF0FF" stroke="#808080" stroke-width="0.8"/>
<polygon points="371,244 388,249.5 388,257" fill="#FFFFC8"/>
<rect x="212.0" y="119.2" width="15.8" height="17.5" fill="#E6FFE6"/><text x="220.4" y="131.9" class="lb">IV</text>
<rect x="236.9" y="107.4" width="32.8" height="16.6" fill="#FFFFC8"/><text x="253.8" y="119.7" class="lb">2 880</text>
<rect x="153.9" y="155.5" width="22.7" height="16.6" fill="#FFFFC8"/><text x="165.8" y="167.8" class="lb">743</text>
<rect x="178.8" y="155.5" width="14.9" height="16.6" fill="#E6FFE6"/><text x="186.8" y="167.8" class="lb">VI</text>
<rect x="115.0" y="201.2" width="23.8" height="15.8" fill="#FFFFC8"/><text x="127.4" y="213.1" class="lb">793</text>
<rect x="102.5" y="218.8" width="20.0" height="16.2" fill="#E6FFE6"/><text x="113.0" y="230.9" class="lb">VII</text>
<rect x="286.2" y="190.0" width="13.8" height="16.2" fill="#E6FFE6"/><text x="293.6" y="202.1" class="lb">V</text>
<rect x="296.2" y="208.8" width="33.8" height="16.2" fill="#FFFFC8"/><text x="313.6" y="220.9" class="lb">2 966</text>
<rect x="330.0" y="208.8" width="8.8" height="16.2" fill="#E6FFE6"/><text x="334.9" y="220.9" class="lb">I</text>
<rect x="356.3" y="205.0" width="11.5" height="15.5" fill="#E6FFE6"/><text x="362.6" y="216.8" class="lb">II</text>
<rect x="367.8" y="200.5" width="33.4" height="16.5" fill="#FFFFC8"/><text x="385.0" y="212.8" class="lb">1 248</text>
<rect x="372.5" y="155.0" width="15.0" height="15.0" fill="#E6FFE6"/><text x="380.5" y="166.5" class="lb">III</text>
<rect x="387.0" y="246.8" width="32.3" height="18.0" fill="#FFFFC8"/><text x="403.6" y="259.8" class="lb">1 459</text>
<rect x="442.0" y="248.7" width="21.0" height="16.1" fill="#E6FFE6"/><text x="453.0" y="260.8" class="lb">XIV</text>
<rect x="418.3" y="214.5" width="23.7" height="16.1" fill="#FFFFC8"/><text x="430.6" y="226.6" class="lb">818</text>
<rect x="463.0" y="211.0" width="24.8" height="17.6" fill="#E6FFE6"/><text x="475.9" y="223.8" class="lb">XVI</text>
<rect x="487.8" y="211.0" width="32.1" height="17.6" fill="#FFFFC8"/><text x="504.4" y="223.8" class="lb">2 570</text>
<rect x="432.0" y="123.3" width="19.8" height="17.1" fill="#E6FFE6"/><text x="442.4" y="135.8" class="lb">XV</text>
<rect x="451.8" y="123.3" width="33.0" height="17.1" fill="#FFFFC8"/><text x="468.8" y="135.8" class="lb">1 510</text>
<rect x="524.7" y="121.4" width="33.2" height="17.1" fill="#FFFFC8"/><text x="541.8" y="133.9" class="lb">1 150</text>
<rect x="597.5" y="121.2" width="26.2" height="17.5" fill="#E6FFE6"/><text x="611.1" y="134.0" class="lb">XVII</text>
<rect x="530.4" y="238.2" width="29.4" height="14.3" fill="#E6FFE6"/><text x="545.6" y="249.3" class="lb">XVIII</text>
<rect x="522.8" y="254.3" width="34.2" height="17.1" fill="#FFFFC8"/><text x="540.4" y="266.9" class="lb">4 382</text>
<rect x="381.3" y="273.3" width="32.3" height="15.2" fill="#FFFFC8"/><text x="398.0" y="284.9" class="lb">2 789</text>
<rect x="532.9" y="313.6" width="21.8" height="16.1" fill="#E6FFE6"/><text x="544.3" y="325.6" class="lb">XIII</text>
<rect x="491.1" y="338.3" width="19.0" height="16.1" fill="#E6FFE6"/><text x="501.1" y="350.4" class="lb">XII</text>
<rect x="399.9" y="340.2" width="33.3" height="15.2" fill="#FFFFC8"/><text x="417.0" y="351.8" class="lb">3 426</text>
<rect x="252.5" y="363.8" width="23.8" height="17.5" fill="#FFFFC8"/><text x="264.9" y="376.5" class="lb">639</text>
<rect x="276.2" y="367.5" width="16.2" height="16.2" fill="#E6FFE6"/><text x="284.9" y="379.6" class="lb">IX</text>
<rect x="336.2" y="397.5" width="16.2" height="17.5" fill="#E6FFE6"/><text x="344.9" y="410.2" class="lb">XI</text>
<rect x="358.8" y="392.5" width="33.8" height="17.5" fill="#FFFFC8"/><text x="376.1" y="405.2" class="lb">1 905</text>
<rect x="70.0" y="372.5" width="21.2" height="16.2" fill="#E6FFE6"/><text x="81.1" y="384.6" class="lb">VIII</text>
<rect x="176.2" y="401.2" width="35.0" height="17.5" fill="#FFFFC8"/><text x="194.2" y="414.0" class="lb">2 601</text>
<rect x="240.0" y="431.2" width="25.0" height="16.2" fill="#FFFFC8"/><text x="253.0" y="443.4" class="lb">846</text>
<rect x="317.5" y="452.5" width="13.8" height="17.5" fill="#E6FFE6"/><text x="324.9" y="465.2" class="lb">X</text>
<rect x="325.8" y="654.5" width="16.4" height="17.0" fill="#E6FFE6"/><text x="334.5" y="667.0" class="lb">IV</text>
<rect x="411.7" y="652.0" width="20.7" height="17.0" fill="#E6FFE6"/><text x="422.5" y="664.5" class="lb">XV</text>
<rect x="471.3" y="675.3" width="26.8" height="17.0" fill="#E6FFE6"/><text x="485.2" y="687.8" class="lb">XVII</text>
<rect x="477.0" y="701.6" width="23.7" height="17.0" fill="#E6FFE6"/><text x="489.4" y="714.1" class="lb">XVI</text>
<rect x="182.2" y="688.0" width="16.4" height="17.0" fill="#E6FFE6"/><text x="190.9" y="700.5" class="lb">VI</text>
<rect x="282.0" y="703.7" width="13.3" height="17.0" fill="#E6FFE6"/><text x="289.2" y="716.2" class="lb">V</text>
<rect x="372.1" y="722.7" width="15.2" height="17.0" fill="#E6FFE6"/><text x="380.2" y="735.2" class="lb">III</text>
<rect x="324.4" y="730.4" width="9.1" height="17.0" fill="#E6FFE6"/><text x="329.4" y="742.9" class="lb">I</text>
<rect x="154.1" y="746.0" width="19.5" height="17.0" fill="#E6FFE6"/><text x="164.3" y="758.5" class="lb">VII</text>
<rect x="411.4" y="748.1" width="23.7" height="17.0" fill="#E6FFE6"/><text x="423.8" y="760.6" class="lb">XIV</text>
<rect x="516.4" y="752.4" width="29.9" height="17.0" fill="#E6FFE6"/><text x="531.8" y="764.9" class="lb">XVIII</text>
<rect x="353.7" y="773.5" width="12.1" height="17.0" fill="#E6FFE6"/><text x="360.3" y="786.0" class="lb">II</text>
<rect x="478.9" y="811.7" width="22.5" height="17.0" fill="#E6FFE6"/><text x="490.7" y="824.2" class="lb">XIII</text>
<rect x="133.4" y="865.8" width="22.5" height="17.0" fill="#E6FFE6"/><text x="145.2" y="878.3" class="lb">VIII</text>
<rect x="289.4" y="863.7" width="16.4" height="17.0" fill="#E6FFE6"/><text x="298.1" y="876.2" class="lb">IX</text>
<rect x="396.7" y="866.7" width="19.5" height="17.0" fill="#E6FFE6"/><text x="406.9" y="879.2" class="lb">XII</text>
<rect x="333.8" y="887.9" width="16.4" height="17.0" fill="#E6FFE6"/><text x="342.5" y="900.4" class="lb">XI</text>
<rect x="388.2" y="928.9" width="13.3" height="17.0" fill="#E6FFE6"/><text x="395.4" y="941.4" class="lb">X</text>
<rect x="1053.6" y="628.8" width="16.4" height="17.0" fill="#E6FFE6"/><text x="1062.3" y="641.3" class="lb">IV</text>
<rect x="1134.9" y="624.7" width="20.7" height="17.0" fill="#E6FFE6"/><text x="1145.7" y="637.2" class="lb">XV</text>
<rect x="1079.2" y="648.9" width="15.2" height="17.0" fill="#E6FFE6"/><text x="1087.3" y="661.4" class="lb">III</text>
<rect x="1191.5" y="648.1" width="26.8" height="17.0" fill="#E6FFE6"/><text x="1205.4" y="660.6" class="lb">XVII</text>
<rect x="921.3" y="665.5" width="16.4" height="17.0" fill="#E6FFE6"/><text x="930.0" y="678.0" class="lb">VI</text>
<rect x="1011.9" y="675.5" width="13.3" height="17.0" fill="#E6FFE6"/><text x="1019.1" y="688.0" class="lb">V</text>
<rect x="1195.8" y="674.3" width="23.7" height="17.0" fill="#E6FFE6"/><text x="1208.2" y="686.8" class="lb">XVI</text>
<rect x="1122.9" y="693.3" width="23.7" height="17.0" fill="#E6FFE6"/><text x="1135.3" y="705.8" class="lb">XIV</text>
<rect x="1054.5" y="699.7" width="9.1" height="17.0" fill="#E6FFE6"/><text x="1059.5" y="712.2" class="lb">I</text>
<rect x="1081.1" y="695.7" width="12.1" height="17.0" fill="#E6FFE6"/><text x="1087.7" y="708.2" class="lb">II</text>
<rect x="892.0" y="716.7" width="19.5" height="17.0" fill="#E6FFE6"/><text x="902.2" y="729.2" class="lb">VII</text>
<rect x="1234.8" y="721.5" width="29.9" height="17.0" fill="#E6FFE6"/><text x="1250.2" y="734.0" class="lb">XVIII</text>
<rect x="1198.9" y="778.0" width="22.5" height="17.0" fill="#E6FFE6"/><text x="1210.7" y="790.5" class="lb">XIII</text>
<rect x="873.1" y="828.4" width="22.5" height="17.0" fill="#E6FFE6"/><text x="884.9" y="840.9" class="lb">VIII</text>
<rect x="1019.3" y="827.5" width="16.4" height="17.0" fill="#E6FFE6"/><text x="1028.0" y="840.0" class="lb">IX</text>
<rect x="1123.4" y="830.0" width="19.5" height="17.0" fill="#E6FFE6"/><text x="1133.6" y="842.5" class="lb">XII</text>
<rect x="1060.4" y="851.7" width="16.4" height="17.0" fill="#E6FFE6"/><text x="1069.1" y="864.2" class="lb">XI</text>
<rect x="1112.3" y="888.8" width="13.3" height="17.0" fill="#E6FFE6"/><text x="1119.5" y="901.3" class="lb">X</text>
<rect x="861.5" y="203.5" width="34.0" height="17.0" fill="#DCDCDC" stroke="#808080" stroke-width="1"/>
<text x="900.5" y="215.3" style="font-size:11px;letter-spacing:0.15px">1 osób</text>
<rect x="861.5" y="226.5" width="34.0" height="17.0" fill="#E2FCEC" stroke="#808080" stroke-width="1"/>
<text x="900.5" y="238.3" style="font-size:11px;letter-spacing:0.15px">2 osób</text>
<rect x="861.5" y="249.5" width="34.0" height="17.0" fill="#BCDFFF" stroke="#808080" stroke-width="1"/>
<text x="900.5" y="261.3" style="font-size:11px;letter-spacing:0.15px">3 osób</text>
<rect x="861.5" y="272.5" width="34.0" height="17.0" fill="#00E4FF" stroke="#808080" stroke-width="1"/>
<text x="900.5" y="284.3" style="font-size:11px;letter-spacing:0.15px">4 osób</text>
<rect x="861.5" y="295.5" width="34.0" height="17.0" fill="#00A8E4" stroke="#808080" stroke-width="1"/>
<text x="900.5" y="307.3" style="font-size:11px;letter-spacing:0.15px">5 osób</text>
<rect x="1115.5" y="110.5" width="34.0" height="17.0" fill="#0070FF" stroke="#808080" stroke-width="1"/>
<text x="1154" y="122.0" style="font-size:11px;letter-spacing:0.15px">6 osób</text>
<rect x="1115.5" y="133.3" width="34.0" height="17.0" fill="#0050E0" stroke="#808080" stroke-width="1"/>
<text x="1154" y="144.8" style="font-size:11px;letter-spacing:0.15px">7 osób</text>
<rect x="1115.5" y="156.1" width="34.0" height="17.0" fill="#FFFF00" stroke="#808080" stroke-width="1"/>
<text x="1154" y="167.6" style="font-size:11px;letter-spacing:0.15px">8 osób</text>
<rect x="1115.5" y="178.9" width="34.0" height="17.0" fill="#FFDC00" stroke="#808080" stroke-width="1"/>
<text x="1154" y="190.4" style="font-size:11px;letter-spacing:0.15px">9 osób</text>
<rect x="1115.5" y="201.7" width="34.0" height="17.0" fill="#FFB400" stroke="#808080" stroke-width="1"/>
<text x="1154" y="213.2" style="font-size:11px;letter-spacing:0.15px">10 osób</text>
<rect x="1115.5" y="224.5" width="34.0" height="17.0" fill="#FF9000" stroke="#808080" stroke-width="1"/>
<text x="1154" y="236.0" style="font-size:11px;letter-spacing:0.15px">11 osób</text>
<rect x="1115.5" y="247.3" width="34.0" height="17.0" fill="#FF6C00" stroke="#808080" stroke-width="1"/>
<text x="1154" y="258.8" style="font-size:11px;letter-spacing:0.15px">12 osób</text>
<rect x="1115.5" y="270.1" width="34.0" height="17.0" fill="#FF4800" stroke="#808080" stroke-width="1"/>
<text x="1154" y="281.6" style="font-size:11px;letter-spacing:0.15px">13 osób</text>
<rect x="1115.5" y="292.9" width="34.0" height="17.0" fill="#FF2400" stroke="#808080" stroke-width="1"/>
<text x="1154" y="304.4" style="font-size:11px;letter-spacing:0.15px">14 osób</text>
<rect x="510.5" y="954.5" width="40.0" height="20.0" fill="#C8C8C8" stroke="#808080" stroke-width="1"/>
<text x="557.5" y="968.3" textLength="84.5" lengthAdjust="spacing" style="font-size:14px">osoby zdrowe</text>
<rect x="510.5" y="981.5" width="40.0" height="20.0" fill="#FFD080" stroke="#808080" stroke-width="1"/>
<text x="557.5" y="995.6" textLength="98.0" lengthAdjust="spacing" style="font-size:14px">osób chorych -1</text>
<rect x="709.5" y="882.0" width="40.0" height="19.5" fill="#FFC0C0" stroke="#808080" stroke-width="1"/>
<text x="757.4" y="895.5" textLength="99.1" lengthAdjust="spacing" style="font-size:14px">osób chorych -2</text>
<rect x="709.5" y="909.2" width="40.0" height="19.5" fill="#FF8080" stroke="#808080" stroke-width="1"/>
<text x="757.4" y="922.7" textLength="99.1" lengthAdjust="spacing" style="font-size:14px">osób chorych -3</text>
<rect x="709.5" y="936.4" width="40.0" height="19.5" fill="#FF0000" stroke="#808080" stroke-width="1"/>
<text x="757.4" y="949.9" textLength="99.1" lengthAdjust="spacing" style="font-size:14px">osób chorych -4</text>
<rect x="709.5" y="963.6" width="40.0" height="19.5" fill="#E00000" stroke="#808080" stroke-width="1"/>
<text x="757.4" y="977.1" textLength="99.1" lengthAdjust="spacing" style="font-size:14px">osób chorych -5</text>
<rect x="1148.5" y="938.5" width="42.0" height="21.0" fill="#E00000" stroke="#808080" stroke-width="1"/>
<text x="1198.6" y="954.3" textLength="88.4" lengthAdjust="spacing" style="font-size:14px">dzieci zdrowe</text>
<rect x="1148.5" y="967.5" width="42.0" height="21.0" fill="#FF0000" stroke="#808080" stroke-width="1"/>
<text x="1198.6" y="983.3" textLength="92.9" lengthAdjust="spacing" style="font-size:14px">dzieci chore -1</text>
<rect x="1301.5" y="893.0" width="43.0" height="21.0" fill="#FF8080" stroke="#808080" stroke-width="1"/>
<text x="1351.2" y="908.5" textLength="94.3" lengthAdjust="spacing" style="font-size:14px">dzieci chore -2</text>
<rect x="1301.5" y="921.7" width="43.0" height="21.0" fill="#FFC0C0" stroke="#808080" stroke-width="1"/>
<text x="1351.2" y="937.2" textLength="94.3" lengthAdjust="spacing" style="font-size:14px">dzieci chore -3</text>
<rect x="1301.5" y="950.4" width="43.0" height="21.0" fill="#FFF0FF" stroke="#808080" stroke-width="1"/>
<text x="1351.2" y="965.9" textLength="94.3" lengthAdjust="spacing" style="font-size:14px">dzieci chore -4</text>
<rect x="779.5" y="339.5" width="29" height="15" fill="#FFFFC0" stroke="#606060"/>
<text class="sm" x="782" y="351" style="font-size:10px">3426</text>
<text x="817.7" y="349.7" textLength="181.8" lengthAdjust="spacing" style="font-size:12px">liczba klientów MOPS w dzielnicy</text>
<text x="745.5" y="384.8" textLength="360.0" lengthAdjust="spacing" style="font-size:12px">34 174 osób korzystających z pomocy MOPS w granicach miasta</text>
<text x="743.4" y="415.7" textLength="424.1" lengthAdjust="spacing" style="font-size:12px">227 osób korzystających z pomocy MOPS nie ma zameldowania w Krakowie</text>
<text x="770.6" y="429.3" textLength="154.9" lengthAdjust="spacing" style="font-size:12px">(przypisani do XIII dzielnicy)</text>
<text x="778.5" y="45.7" textLength="423.5" lengthAdjust="spacing" style="font-size:22px">Struktura  wg liczby osób w gospodarstwie</text>
<text x="872.5" y="71.6" textLength="229.0" lengthAdjust="spacing" style="font-size:22px">i liczba klientów MOPS</text>
<text x="922.5" y="97.3" textLength="134.0" lengthAdjust="spacing" style="font-size:22px">w dzielnicach</text>
<text x="278.5" y="568.6" textLength="455.0" lengthAdjust="spacing" style="font-size:22px">Struktura  wg liczby osób długotrwale chorych</text>
<text x="438.5" y="594.4" textLength="133.5" lengthAdjust="spacing" style="font-size:22px">w dzielnicach</text>
<text x="942.5" y="551.9" textLength="470.0" lengthAdjust="spacing" style="font-size:22px">Struktura  wg  liczby dzieci długotrwale chorych</text>
<text x="1114.0" y="577.8" textLength="133.0" lengthAdjust="spacing" style="font-size:22px">w dzielnicach</text>
<text class="sm" x="20.5" y="995.9" textLength="41.5" lengthAdjust="spacing" style="font-size:10px">wykonał:</text>
<text class="sm" x="20.0" y="1008.9" textLength="171.5" lengthAdjust="spacing" style="font-size:10px">Wydział Strategii i Rozwoju Miasta</text>
<text class="sm" x="20.5" y="1021.7" textLength="131.0" lengthAdjust="spacing" style="font-size:10px">wg danych MOPS - 2010r.</text>
</svg></body></html>
